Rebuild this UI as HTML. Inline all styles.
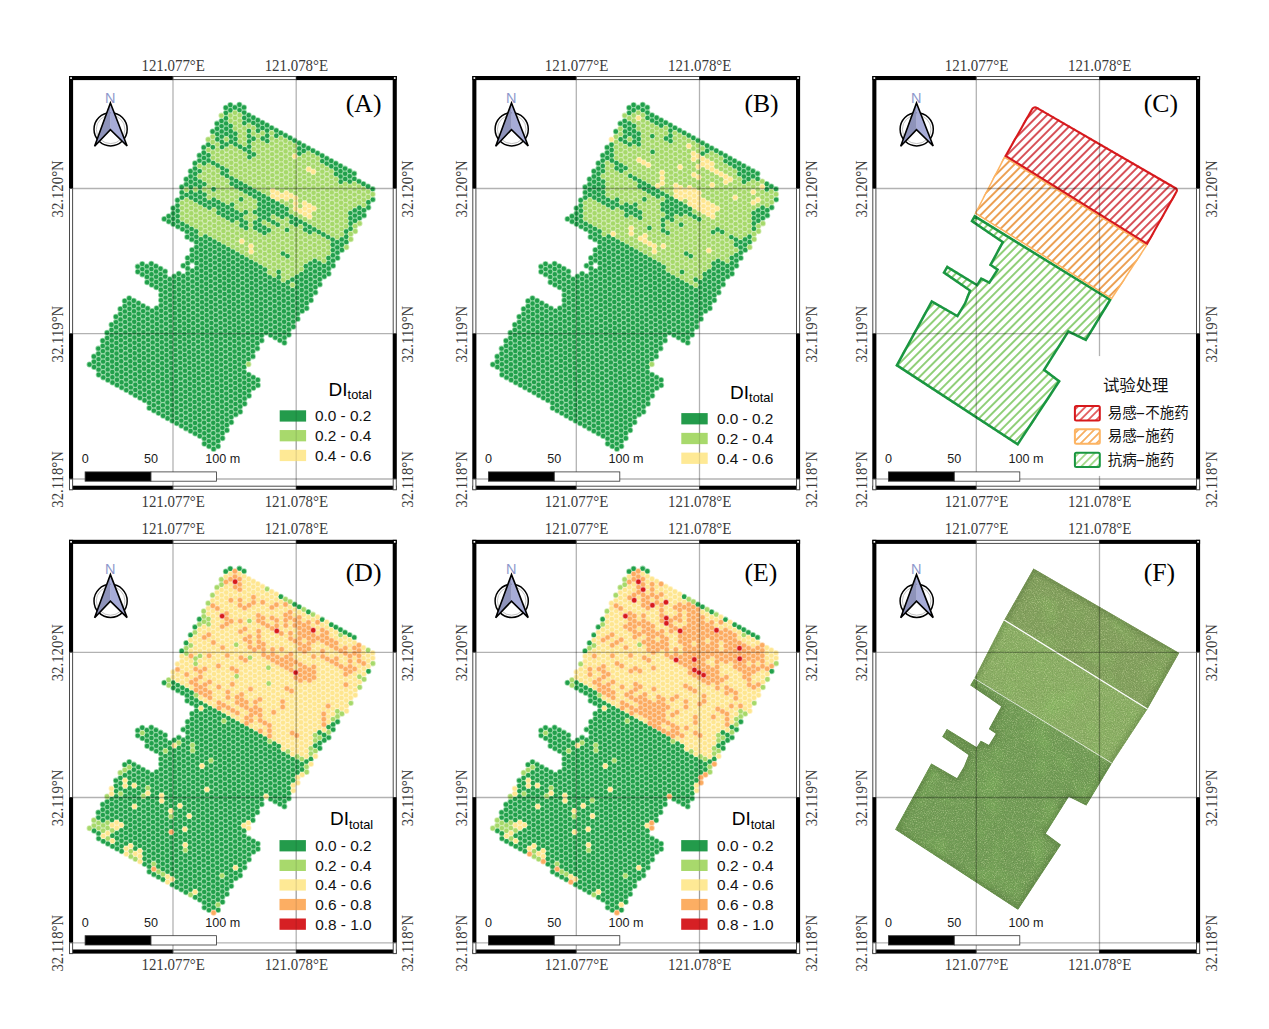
<!DOCTYPE html><html><head><meta charset="utf-8"><title>DI maps</title><style>html,body{margin:0;padding:0;background:#fff;}svg{display:block}</style></head><body>
<svg width="1269" height="1029" viewBox="0 0 1269 1029">
<rect width="1269" height="1029" fill="#fff"/>
<g transform="translate(0,0)">
<defs><path id="pA1" d="M239.4 104.8h0M244.0 107.4h0M230.3 105.0h0M234.9 107.5h0M239.5 110.1h0M244.1 112.6h0M248.7 115.2h0M253.3 117.7h0M257.8 120.2h0M262.4 122.8h0M267.0 125.3h0M271.6 127.9h0M276.2 130.4h0M280.8 133.0h0M285.4 135.5h0M290.0 138.0h0M294.5 140.6h0M299.1 143.1h0M303.7 145.7h0M308.3 148.2h0M312.9 150.8h0M317.5 153.3h0M322.1 155.8h0M326.7 158.4h0M331.2 160.9h0M335.8 163.5h0M340.4 166.0h0M345.0 168.6h0M349.6 171.1h0M354.2 173.6h0M225.8 107.7h0M230.4 110.2h0M244.2 117.9h0M248.8 120.4h0M253.3 122.9h0M257.9 125.5h0M262.5 128.0h0M267.1 130.6h0M276.3 135.7h0M299.2 148.4h0M303.8 150.9h0M322.2 161.1h0M326.7 163.6h0M331.3 166.2h0M335.9 168.7h0M340.5 171.3h0M345.1 173.8h0M349.7 176.3h0M354.3 178.9h0M358.9 181.4h0M363.4 184.0h0M368.0 186.5h0M372.6 189.1h0M225.9 112.9h0M244.3 123.1h0M258.0 130.7h0M267.2 135.8h0M299.3 153.6h0M336.0 174.0h0M340.6 176.5h0M345.2 179.0h0M349.8 181.6h0M226.0 118.2h0M248.9 130.9h0M262.7 138.5h0M267.3 141.1h0M340.7 181.8h0M372.8 199.6h0M221.5 120.9h0M226.1 123.4h0M230.7 126.0h0M249.0 136.1h0M253.6 138.7h0M368.3 202.3h0M217.0 123.6h0M221.6 126.1h0M226.2 128.7h0M230.8 131.2h0M235.4 133.8h0M249.1 141.4h0M368.4 207.5h0M217.1 128.8h0M221.7 131.4h0M226.3 133.9h0M230.9 136.5h0M235.5 139.0h0M249.2 146.6h0M359.3 207.7h0M363.9 210.2h0M212.6 131.5h0M217.2 134.1h0M221.8 136.6h0M231.0 141.7h0M235.5 144.2h0M240.1 146.8h0M244.7 149.3h0M249.3 151.9h0M253.9 154.4h0M354.8 210.4h0M359.4 212.9h0M364.0 215.4h0M217.3 139.3h0M221.9 141.9h0M226.5 144.4h0M249.4 157.1h0M350.3 213.1h0M354.9 215.6h0M359.5 218.1h0M222.0 147.1h0M350.4 218.3h0M355.0 220.8h0M208.3 144.7h0M212.9 147.3h0M350.5 223.5h0M203.8 147.4h0M350.6 228.8h0M203.9 152.7h0M208.5 155.2h0M346.1 231.5h0M199.4 155.4h0M204.0 157.9h0M208.6 160.5h0M213.2 163.0h0M217.7 165.5h0M222.3 168.1h0M226.9 170.6h0M346.2 236.7h0M199.5 160.6h0M204.1 163.2h0M222.4 173.3h0M227.0 175.9h0M231.6 178.4h0M236.2 181.0h0M240.8 183.5h0M245.4 186.0h0M250.0 188.6h0M254.5 191.1h0M259.1 193.7h0M263.7 196.2h0M268.3 198.8h0M272.9 201.3h0M277.5 203.8h0M282.1 206.4h0M286.7 208.9h0M341.7 239.4h0M346.3 242.0h0M195.0 163.3h0M231.7 183.7h0M236.3 186.2h0M240.9 188.7h0M245.5 191.3h0M250.0 193.8h0M254.6 196.4h0M259.2 198.9h0M263.8 201.5h0M268.4 204.0h0M273.0 206.5h0M277.6 209.1h0M282.2 211.6h0M286.7 214.2h0M291.3 216.7h0M295.9 219.3h0M300.5 221.8h0M305.1 224.3h0M309.7 226.9h0M314.3 229.4h0M318.9 232.0h0M323.4 234.5h0M328.0 237.1h0M332.6 239.6h0M337.2 242.1h0M341.8 244.7h0M195.1 168.6h0M199.7 171.1h0M259.3 204.2h0M263.9 206.7h0M268.5 209.2h0M273.1 211.8h0M277.7 214.3h0M282.2 216.9h0M291.4 222.0h0M296.0 224.5h0M305.2 229.6h0M309.8 232.1h0M332.7 244.8h0M337.3 247.4h0M341.9 249.9h0M190.6 171.3h0M195.2 173.8h0M241.1 199.2h0M259.4 209.4h0M264.0 211.9h0M268.6 214.5h0M332.8 250.1h0M337.4 252.6h0M190.7 176.5h0M195.3 179.0h0M199.9 181.6h0M204.4 184.1h0M213.6 189.2h0M254.9 212.1h0M259.5 214.6h0M264.1 217.2h0M268.7 219.7h0M273.3 222.3h0M277.8 224.8h0M287.0 229.9h0M332.9 255.3h0M337.5 257.9h0M186.2 179.2h0M190.8 181.7h0M195.4 184.3h0M199.9 186.8h0M232.1 204.6h0M245.8 212.3h0M259.6 219.9h0M328.4 258.0h0M333.0 260.6h0M186.3 184.4h0M190.9 187.0h0M200.0 192.1h0M204.6 194.6h0M213.8 199.7h0M218.4 202.2h0M223.0 204.8h0M227.6 207.3h0M232.2 209.9h0M236.7 212.4h0M241.3 215.0h0M255.1 222.6h0M259.7 225.1h0M264.3 227.7h0M268.9 230.2h0M328.5 263.3h0M333.1 265.8h0M181.8 187.1h0M191.0 192.2h0M195.5 194.8h0M200.1 197.3h0M204.7 199.9h0M209.3 202.4h0M213.9 204.9h0M218.5 207.5h0M223.1 210.0h0M227.7 212.6h0M232.2 215.1h0M236.8 217.7h0M241.4 220.2h0M246.0 222.7h0M255.2 227.8h0M259.8 230.4h0M264.4 232.9h0M314.8 260.9h0M319.4 263.4h0M324.0 266.0h0M328.6 268.5h0M181.9 192.4h0M186.5 194.9h0M191.0 197.5h0M195.6 200.0h0M200.2 202.6h0M204.8 205.1h0M209.4 207.6h0M218.6 212.7h0M223.2 215.3h0M227.7 217.8h0M232.3 220.4h0M241.5 225.4h0M246.1 228.0h0M310.3 263.6h0M314.9 266.1h0M319.5 268.7h0M324.1 271.2h0M328.7 273.8h0M182.0 197.6h0M282.9 253.6h0M287.5 256.1h0M305.8 266.3h0M310.4 268.8h0M315.0 271.4h0M319.6 273.9h0M324.2 276.5h0M177.5 200.3h0M305.9 271.5h0M310.5 274.1h0M315.1 276.6h0M319.7 279.2h0M177.6 205.6h0M301.4 274.2h0M306.0 276.8h0M310.6 279.3h0M315.2 281.9h0M319.8 284.4h0M173.1 208.3h0M177.7 210.8h0M296.9 276.9h0M301.5 279.5h0M306.1 282.0h0M310.7 284.6h0M315.3 287.1h0M173.2 213.5h0M177.7 216.1h0M278.7 272.0h0M292.4 279.6h0M297.0 282.2h0M301.6 284.7h0M306.2 287.3h0M310.8 289.8h0M315.4 292.4h0M168.7 216.2h0M173.2 218.8h0M177.8 221.3h0M182.4 223.9h0M187.0 226.4h0M191.6 228.9h0M196.2 231.5h0M205.4 236.6h0M209.9 239.1h0M214.5 241.7h0M219.1 244.2h0M223.7 246.7h0M228.3 249.3h0M232.9 251.8h0M237.5 254.4h0M242.1 256.9h0M246.6 259.5h0M251.2 262.0h0M255.8 264.5h0M260.4 267.1h0M265.0 269.6h0M278.8 277.3h0M287.9 282.3h0M297.1 287.4h0M301.7 290.0h0M306.3 292.5h0M310.9 295.1h0M164.2 218.9h0M168.8 221.5h0M173.3 224.0h0M177.9 226.6h0M182.5 229.1h0M187.1 231.6h0M191.7 234.2h0M196.3 236.7h0M200.9 239.3h0M205.5 241.8h0M210.0 244.4h0M214.6 246.9h0M219.2 249.4h0M223.8 252.0h0M228.4 254.5h0M233.0 257.1h0M237.6 259.6h0M242.1 262.2h0M246.7 264.7h0M251.3 267.2h0M255.9 269.8h0M260.5 272.3h0M265.1 274.9h0M269.7 277.4h0M274.3 280.0h0M278.8 282.5h0M283.4 285.0h0M288.0 287.6h0M292.6 290.1h0M297.2 292.7h0M301.8 295.2h0M306.4 297.8h0M311.0 300.3h0M187.2 236.9h0M191.8 239.4h0M196.4 242.0h0M201.0 244.5h0M205.5 247.1h0M210.1 249.6h0M214.7 252.1h0M219.3 254.7h0M223.9 257.2h0M228.5 259.8h0M233.1 262.3h0M237.7 264.9h0M242.2 267.4h0M246.8 269.9h0M251.4 272.5h0M256.0 275.0h0M260.6 277.6h0M265.2 280.1h0M269.8 282.7h0M274.4 285.2h0M278.9 287.7h0M283.5 290.3h0M288.1 292.8h0M292.7 295.4h0M297.3 297.9h0M301.9 300.5h0M306.5 303.0h0M196.5 247.2h0M201.0 249.8h0M205.6 252.3h0M210.2 254.8h0M214.8 257.4h0M219.4 259.9h0M224.0 262.5h0M228.6 265.0h0M233.2 267.6h0M237.7 270.1h0M242.3 272.6h0M246.9 275.2h0M251.5 277.7h0M256.1 280.3h0M260.7 282.8h0M265.3 285.4h0M269.9 287.9h0M274.4 290.4h0M279.0 293.0h0M283.6 295.5h0M288.2 298.1h0M292.8 300.6h0M297.4 303.2h0M302.0 305.7h0M306.6 308.2h0M192.0 249.9h0M196.6 252.5h0M201.1 255.0h0M205.7 257.5h0M210.3 260.1h0M214.9 262.6h0M219.5 265.2h0M224.1 267.7h0M228.7 270.3h0M233.2 272.8h0M237.8 275.3h0M242.4 277.9h0M247.0 280.4h0M251.6 283.0h0M256.2 285.5h0M260.8 288.1h0M265.4 290.6h0M269.9 293.1h0M274.5 295.7h0M279.1 298.2h0M283.7 300.8h0M288.3 303.3h0M292.9 305.9h0M297.5 308.4h0M302.1 310.9h0M192.1 255.2h0M196.6 257.7h0M201.2 260.2h0M205.8 262.8h0M210.4 265.3h0M215.0 267.9h0M219.6 270.4h0M224.2 273.0h0M228.8 275.5h0M233.3 278.0h0M237.9 280.6h0M242.5 283.1h0M247.1 285.7h0M251.7 288.2h0M256.3 290.8h0M260.9 293.3h0M265.5 295.8h0M270.0 298.4h0M274.6 300.9h0M279.2 303.5h0M283.8 306.0h0M288.4 308.6h0M293.0 311.1h0M297.6 313.6h0M187.6 257.9h0M192.1 260.4h0M196.7 263.0h0M201.3 265.5h0M205.9 268.0h0M210.5 270.6h0M215.1 273.1h0M219.7 275.7h0M224.3 278.2h0M228.8 280.8h0M233.4 283.3h0M238.0 285.8h0M242.6 288.4h0M247.2 290.9h0M251.8 293.5h0M256.4 296.0h0M261.0 298.6h0M265.5 301.1h0M270.1 303.6h0M274.7 306.2h0M279.3 308.7h0M283.9 311.3h0M288.5 313.8h0M293.1 316.4h0M297.7 318.9h0M187.7 263.1h0M196.8 268.2h0M201.4 270.7h0M206.0 273.3h0M210.6 275.8h0M215.2 278.4h0M219.8 280.9h0M224.3 283.5h0M228.9 286.0h0M233.5 288.5h0M238.1 291.1h0M242.7 293.6h0M247.3 296.2h0M251.9 298.7h0M256.5 301.3h0M261.0 303.8h0M265.6 306.3h0M270.2 308.9h0M274.8 311.4h0M279.4 314.0h0M284.0 316.5h0M288.6 319.1h0M293.2 321.6h0M183.2 265.8h0M187.7 268.4h0M192.3 270.9h0M196.9 273.4h0M201.5 276.0h0M206.1 278.5h0M210.7 281.1h0M215.3 283.6h0M219.9 286.2h0M224.4 288.7h0M229.0 291.2h0M233.6 293.8h0M238.2 296.3h0M242.8 298.9h0M247.4 301.4h0M252.0 304.0h0M256.6 306.5h0M261.1 309.0h0M265.7 311.6h0M270.3 314.1h0M274.9 316.7h0M279.5 319.2h0M284.1 321.8h0M288.7 324.3h0M293.3 326.8h0M187.8 273.6h0M192.4 276.1h0M197.0 278.7h0M201.6 281.2h0M206.2 283.8h0M210.8 286.3h0M215.4 288.9h0M219.9 291.4h0M224.5 293.9h0M229.1 296.5h0M233.7 299.0h0M238.3 301.6h0M242.9 304.1h0M247.5 306.7h0M252.1 309.2h0M256.6 311.7h0M261.2 314.3h0M265.8 316.8h0M270.4 319.4h0M275.0 321.9h0M279.6 324.5h0M284.2 327.0h0M288.8 329.5h0M178.8 273.8h0M183.3 276.3h0M187.9 278.8h0M192.5 281.4h0M197.1 283.9h0M201.7 286.5h0M206.3 289.0h0M210.9 291.6h0M215.4 294.1h0M220.0 296.6h0M224.6 299.2h0M229.2 301.7h0M233.8 304.3h0M238.4 306.8h0M243.0 309.4h0M247.6 311.9h0M252.1 314.4h0M256.7 317.0h0M261.3 319.5h0M265.9 322.1h0M270.5 324.6h0M275.1 327.2h0M279.7 329.7h0M284.3 332.2h0M288.8 334.8h0M151.3 263.7h0M155.9 266.3h0M160.5 268.8h0M165.1 271.4h0M174.3 276.5h0M178.8 279.0h0M183.4 281.5h0M188.0 284.1h0M192.6 286.6h0M197.2 289.2h0M201.8 291.7h0M206.4 294.3h0M211.0 296.8h0M215.5 299.3h0M220.1 301.9h0M224.7 304.4h0M229.3 307.0h0M233.9 309.5h0M238.5 312.1h0M243.1 314.6h0M247.7 317.1h0M252.2 319.7h0M256.8 322.2h0M261.4 324.8h0M266.0 327.3h0M270.6 329.9h0M275.2 332.4h0M279.8 334.9h0M284.4 337.5h0M142.2 263.9h0M146.8 266.4h0M151.4 269.0h0M156.0 271.5h0M160.6 274.1h0M165.2 276.6h0M169.8 279.2h0M174.3 281.7h0M178.9 284.2h0M183.5 286.8h0M188.1 289.3h0M192.7 291.9h0M197.3 294.4h0M201.9 297.0h0M206.5 299.5h0M211.0 302.0h0M215.6 304.6h0M220.2 307.1h0M224.8 309.7h0M229.4 312.2h0M234.0 314.8h0M238.6 317.3h0M243.2 319.8h0M247.7 322.4h0M252.3 324.9h0M256.9 327.5h0M261.5 330.0h0M266.1 332.6h0M270.7 335.1h0M275.3 337.6h0M279.9 340.2h0M284.4 342.7h0M137.7 266.6h0M142.3 269.1h0M146.9 271.7h0M151.5 274.2h0M156.1 276.8h0M160.7 279.3h0M165.3 281.9h0M169.9 284.4h0M174.4 286.9h0M179.0 289.5h0M183.6 292.0h0M188.2 294.6h0M192.8 297.1h0M197.4 299.7h0M202.0 302.2h0M206.5 304.7h0M211.1 307.3h0M215.7 309.8h0M220.3 312.4h0M224.9 314.9h0M229.5 317.5h0M234.1 320.0h0M238.7 322.5h0M243.2 325.1h0M247.8 327.6h0M252.4 330.2h0M257.0 332.7h0M261.6 335.3h0M137.8 271.8h0M142.4 274.4h0M147.0 276.9h0M151.6 279.5h0M156.2 282.0h0M160.8 284.6h0M165.4 287.1h0M169.9 289.6h0M174.5 292.2h0M179.1 294.7h0M183.7 297.3h0M188.3 299.8h0M192.9 302.4h0M197.5 304.9h0M202.1 307.4h0M206.6 310.0h0M211.2 312.5h0M215.8 315.1h0M220.4 317.6h0M225.0 320.2h0M229.6 322.7h0M234.2 325.2h0M238.8 327.8h0M243.3 330.3h0M247.9 332.9h0M252.5 335.4h0M257.1 338.0h0M261.7 340.5h0M147.1 282.2h0M151.7 284.7h0M156.3 287.3h0M160.9 289.8h0M165.4 292.3h0M170.0 294.9h0M174.6 297.4h0M179.2 300.0h0M183.8 302.5h0M188.4 305.1h0M193.0 307.6h0M197.6 310.1h0M202.1 312.7h0M206.7 315.2h0M211.3 317.8h0M215.9 320.3h0M220.5 322.9h0M225.1 325.4h0M229.7 327.9h0M234.3 330.5h0M238.8 333.0h0M243.4 335.6h0M248.0 338.1h0M252.6 340.7h0M257.2 343.2h0M161.0 295.1h0M165.5 297.6h0M170.1 300.1h0M174.7 302.7h0M179.3 305.2h0M183.9 307.8h0M188.5 310.3h0M193.1 312.9h0M197.6 315.4h0M202.2 317.9h0M206.8 320.5h0M211.4 323.0h0M216.0 325.6h0M220.6 328.1h0M225.2 330.7h0M229.8 333.2h0M234.3 335.7h0M238.9 338.3h0M243.5 340.8h0M248.1 343.4h0M252.7 345.9h0M257.3 348.4h0M161.0 300.3h0M165.6 302.8h0M170.2 305.4h0M174.8 307.9h0M179.4 310.5h0M184.0 313.0h0M188.6 315.6h0M193.2 318.1h0M197.7 320.6h0M202.3 323.2h0M206.9 325.7h0M211.5 328.3h0M216.1 330.8h0M220.7 333.4h0M225.3 335.9h0M229.9 338.4h0M234.4 341.0h0M239.0 343.5h0M243.6 346.1h0M248.2 348.6h0M252.8 351.2h0M161.1 305.5h0M165.7 308.1h0M170.3 310.6h0M174.9 313.2h0M179.5 315.7h0M184.1 318.3h0M188.7 320.8h0M193.2 323.3h0M197.8 325.9h0M202.4 328.4h0M207.0 331.0h0M211.6 333.5h0M216.2 336.1h0M220.8 338.6h0M225.4 341.1h0M229.9 343.7h0M234.5 346.2h0M239.1 348.8h0M243.7 351.3h0M248.3 353.9h0M252.9 356.4h0M156.6 308.2h0M161.2 310.8h0M165.8 313.3h0M170.4 315.9h0M175.0 318.4h0M179.6 321.0h0M184.2 323.5h0M188.7 326.0h0M193.3 328.6h0M197.9 331.1h0M202.5 333.7h0M207.1 336.2h0M211.7 338.8h0M216.3 341.3h0M220.9 343.8h0M225.4 346.4h0M230.0 348.9h0M234.6 351.5h0M239.2 354.0h0M243.8 356.6h0M248.4 359.1h0M129.2 298.2h0M133.8 300.8h0M138.4 303.3h0M143.0 305.9h0M147.6 308.4h0M152.1 310.9h0M156.7 313.5h0M161.3 316.0h0M165.9 318.6h0M170.5 321.1h0M175.1 323.7h0M179.7 326.2h0M184.3 328.7h0M188.8 331.3h0M193.4 333.8h0M198.0 336.4h0M202.6 338.9h0M207.2 341.5h0M211.8 344.0h0M216.4 346.5h0M221.0 349.1h0M225.5 351.6h0M230.1 354.2h0M234.7 356.7h0M239.3 359.3h0M243.9 361.8h0M124.7 300.9h0M129.3 303.5h0M133.9 306.0h0M138.5 308.6h0M143.1 311.1h0M147.6 313.6h0M152.2 316.2h0M156.8 318.7h0M161.4 321.3h0M166.0 323.8h0M170.6 326.4h0M175.2 328.9h0M179.8 331.4h0M184.3 334.0h0M188.9 336.5h0M193.5 339.1h0M198.1 341.6h0M202.7 344.2h0M207.3 346.7h0M211.9 349.2h0M216.5 351.8h0M221.0 354.3h0M225.6 356.9h0M230.2 359.4h0M234.8 362.0h0M239.4 364.5h0M244.0 367.0h0M124.8 306.2h0M129.4 308.7h0M134.0 311.3h0M138.6 313.8h0M143.1 316.3h0M147.7 318.9h0M152.3 321.4h0M156.9 324.0h0M161.5 326.5h0M166.1 329.1h0M170.7 331.6h0M175.3 334.1h0M179.8 336.7h0M184.4 339.2h0M189.0 341.8h0M193.6 344.3h0M198.2 346.9h0M202.8 349.4h0M207.4 351.9h0M212.0 354.5h0M216.5 357.0h0M221.1 359.6h0M225.7 362.1h0M230.3 364.7h0M234.9 367.2h0M239.5 369.7h0M244.1 372.3h0M248.7 374.8h0M253.2 377.4h0M257.8 379.9h0M120.3 308.9h0M124.9 311.4h0M129.5 314.0h0M134.1 316.5h0M138.7 319.0h0M143.2 321.6h0M147.8 324.1h0M152.4 326.7h0M157.0 329.2h0M161.6 331.8h0M166.2 334.3h0M170.8 336.8h0M175.4 339.4h0M179.9 341.9h0M184.5 344.5h0M189.1 347.0h0M193.7 349.6h0M198.3 352.1h0M202.9 354.6h0M207.5 357.2h0M212.1 359.7h0M216.6 362.3h0M221.2 364.8h0M225.8 367.4h0M230.4 369.9h0M235.0 372.4h0M239.6 375.0h0M244.2 377.5h0M248.8 380.1h0M253.3 382.6h0M257.9 385.2h0M120.4 314.1h0M125.0 316.7h0M129.6 319.2h0M134.2 321.7h0M138.7 324.3h0M143.3 326.8h0M147.9 329.4h0M152.5 331.9h0M157.1 334.5h0M161.7 337.0h0M166.3 339.5h0M170.9 342.1h0M175.4 344.6h0M180.0 347.2h0M184.6 349.7h0M189.2 352.3h0M193.8 354.8h0M198.4 357.3h0M203.0 359.9h0M207.6 362.4h0M212.1 365.0h0M216.7 367.5h0M221.3 370.1h0M225.9 372.6h0M230.5 375.1h0M235.1 377.7h0M239.7 380.2h0M244.3 382.8h0M248.8 385.3h0M253.4 387.9h0M115.9 316.8h0M120.5 319.4h0M125.1 321.9h0M129.7 324.4h0M134.2 327.0h0M138.8 329.5h0M143.4 332.1h0M148.0 334.6h0M152.6 337.2h0M157.2 339.7h0M161.8 342.2h0M166.4 344.8h0M170.9 347.3h0M175.5 349.9h0M180.1 352.4h0M184.7 355.0h0M189.3 357.5h0M193.9 360.0h0M198.5 362.6h0M203.1 365.1h0M207.6 367.7h0M212.2 370.2h0M216.8 372.8h0M221.4 375.3h0M226.0 377.8h0M230.6 380.4h0M235.2 382.9h0M239.8 385.5h0M244.3 388.0h0M248.9 390.6h0M116.0 322.1h0M120.6 324.6h0M125.2 327.1h0M129.8 329.7h0M134.3 332.2h0M138.9 334.8h0M143.5 337.3h0M148.1 339.9h0M152.7 342.4h0M157.3 344.9h0M161.9 347.5h0M166.5 350.0h0M171.0 352.6h0M175.6 355.1h0M180.2 357.7h0M184.8 360.2h0M189.4 362.7h0M194.0 365.3h0M198.6 367.8h0M203.2 370.4h0M207.7 372.9h0M212.3 375.5h0M216.9 378.0h0M221.5 380.5h0M226.1 383.1h0M230.7 385.6h0M235.3 388.2h0M239.9 390.7h0M244.4 393.3h0M249.0 395.8h0M111.5 324.8h0M116.1 327.3h0M120.7 329.9h0M125.3 332.4h0M129.8 334.9h0M134.4 337.5h0M139.0 340.0h0M143.6 342.6h0M148.2 345.1h0M152.8 347.7h0M157.4 350.2h0M162.0 352.7h0M166.5 355.3h0M171.1 357.8h0M175.7 360.4h0M180.3 362.9h0M184.9 365.5h0M189.5 368.0h0M194.1 370.5h0M198.7 373.1h0M203.2 375.6h0M207.8 378.2h0M212.4 380.7h0M217.0 383.3h0M221.6 385.8h0M226.2 388.3h0M230.8 390.9h0M235.4 393.4h0M239.9 396.0h0M244.5 398.5h0M111.6 330.0h0M116.2 332.6h0M120.8 335.1h0M125.3 337.6h0M129.9 340.2h0M134.5 342.7h0M139.1 345.3h0M143.7 347.8h0M148.3 350.4h0M152.9 352.9h0M157.5 355.4h0M162.0 358.0h0M166.6 360.5h0M171.2 363.1h0M175.8 365.6h0M180.4 368.2h0M185.0 370.7h0M189.6 373.2h0M194.2 375.8h0M198.7 378.3h0M203.3 380.9h0M207.9 383.4h0M212.5 386.0h0M217.1 388.5h0M221.7 391.0h0M226.3 393.6h0M230.9 396.1h0M235.4 398.7h0M240.0 401.2h0M244.6 403.8h0M107.1 332.7h0M111.7 335.3h0M116.3 337.8h0M120.9 340.3h0M125.4 342.9h0M130.0 345.4h0M134.6 348.0h0M139.2 350.5h0M143.8 353.1h0M148.4 355.6h0M153.0 358.1h0M157.6 360.7h0M162.1 363.2h0M166.7 365.8h0M171.3 368.3h0M175.9 370.9h0M180.5 373.4h0M185.1 375.9h0M189.7 378.5h0M194.3 381.0h0M198.8 383.6h0M203.4 386.1h0M208.0 388.7h0M212.6 391.2h0M217.2 393.7h0M221.8 396.3h0M226.4 398.8h0M231.0 401.4h0M235.5 403.9h0M240.1 406.5h0M107.2 338.0h0M111.8 340.5h0M116.4 343.0h0M120.9 345.6h0M125.5 348.1h0M130.1 350.7h0M134.7 353.2h0M139.3 355.8h0M143.9 358.3h0M148.5 360.8h0M153.1 363.4h0M157.6 365.9h0M162.2 368.5h0M166.8 371.0h0M171.4 373.6h0M176.0 376.1h0M180.6 378.6h0M185.2 381.2h0M189.8 383.7h0M194.3 386.3h0M198.9 388.8h0M203.5 391.4h0M208.1 393.9h0M212.7 396.4h0M217.3 399.0h0M221.9 401.5h0M226.5 404.1h0M231.0 406.6h0M235.6 409.2h0M240.2 411.7h0M102.7 340.7h0M107.3 343.2h0M111.9 345.7h0M116.4 348.3h0M121.0 350.8h0M125.6 353.4h0M130.2 355.9h0M134.8 358.5h0M139.4 361.0h0M144.0 363.5h0M148.6 366.1h0M153.1 368.6h0M157.7 371.2h0M162.3 373.7h0M166.9 376.3h0M171.5 378.8h0M176.1 381.3h0M180.7 383.9h0M185.3 386.4h0M189.8 389.0h0M194.4 391.5h0M199.0 394.1h0M203.6 396.6h0M208.2 399.1h0M212.8 401.7h0M217.4 404.2h0M222.0 406.8h0M226.5 409.3h0M231.1 411.9h0M235.7 414.4h0M102.8 345.9h0M107.4 348.4h0M112.0 351.0h0M116.5 353.5h0M121.1 356.1h0M125.7 358.6h0M130.3 361.2h0M134.9 363.7h0M139.5 366.2h0M144.1 368.8h0M148.7 371.3h0M153.2 373.9h0M157.8 376.4h0M162.4 379.0h0M167.0 381.5h0M171.6 384.0h0M176.2 386.6h0M180.8 389.1h0M185.4 391.7h0M189.9 394.2h0M194.5 396.8h0M199.1 399.3h0M203.7 401.8h0M208.3 404.4h0M212.9 406.9h0M217.5 409.5h0M222.1 412.0h0M226.6 414.6h0M231.2 417.1h0M98.3 348.6h0M102.9 351.1h0M107.5 353.7h0M112.0 356.2h0M116.6 358.8h0M121.2 361.3h0M125.8 363.9h0M130.4 366.4h0M135.0 368.9h0M139.6 371.5h0M144.2 374.0h0M148.7 376.6h0M153.3 379.1h0M157.9 381.7h0M162.5 384.2h0M167.1 386.7h0M171.7 389.3h0M176.3 391.8h0M180.9 394.4h0M185.4 396.9h0M190.0 399.5h0M194.6 402.0h0M199.2 404.5h0M203.8 407.1h0M208.4 409.6h0M213.0 412.2h0M217.6 414.7h0M222.1 417.3h0M226.7 419.8h0M231.3 422.3h0M98.4 353.8h0M103.0 356.4h0M107.5 358.9h0M112.1 361.5h0M116.7 364.0h0M121.3 366.6h0M125.9 369.1h0M130.5 371.6h0M135.1 374.2h0M139.7 376.7h0M144.2 379.3h0M148.8 381.8h0M153.4 384.4h0M158.0 386.9h0M162.6 389.4h0M167.2 392.0h0M171.8 394.5h0M176.4 397.1h0M180.9 399.6h0M185.5 402.2h0M190.1 404.7h0M194.7 407.2h0M199.3 409.8h0M203.9 412.3h0M208.5 414.9h0M213.1 417.4h0M217.6 420.0h0M222.2 422.5h0M226.8 425.0h0M93.9 356.5h0M98.5 359.1h0M103.1 361.6h0M107.6 364.2h0M112.2 366.7h0M116.8 369.3h0M121.4 371.8h0M126.0 374.3h0M130.6 376.9h0M135.2 379.4h0M139.8 382.0h0M144.3 384.5h0M148.9 387.1h0M153.5 389.6h0M158.1 392.1h0M162.7 394.7h0M167.3 397.2h0M171.9 399.8h0M176.5 402.3h0M181.0 404.9h0M185.6 407.4h0M190.2 409.9h0M194.8 412.5h0M199.4 415.0h0M204.0 417.6h0M208.6 420.1h0M213.2 422.7h0M217.7 425.2h0M222.3 427.7h0M226.9 430.3h0M94.0 361.8h0M98.6 364.3h0M103.1 366.9h0M107.7 369.4h0M112.3 372.0h0M116.9 374.5h0M121.5 377.0h0M126.1 379.6h0M130.7 382.1h0M135.3 384.7h0M139.8 387.2h0M144.4 389.8h0M149.0 392.3h0M153.6 394.8h0M158.2 397.4h0M162.8 399.9h0M167.4 402.5h0M172.0 405.0h0M176.5 407.6h0M181.1 410.1h0M185.7 412.6h0M190.3 415.2h0M194.9 417.7h0M199.5 420.3h0M204.1 422.8h0M208.7 425.4h0M213.2 427.9h0M217.8 430.4h0M222.4 433.0h0M89.5 364.5h0M94.1 367.0h0M98.6 369.6h0M103.2 372.1h0M107.8 374.7h0M112.4 377.2h0M117.0 379.8h0M121.6 382.3h0M126.2 384.8h0M130.8 387.4h0M135.3 389.9h0M139.9 392.5h0M144.5 395.0h0M149.1 397.6h0M153.7 400.1h0M158.3 402.6h0M162.9 405.2h0M167.5 407.7h0M172.0 410.3h0M176.6 412.8h0M181.2 415.4h0M185.8 417.9h0M190.4 420.4h0M195.0 423.0h0M199.6 425.5h0M204.2 428.1h0M208.7 430.6h0M213.3 433.1h0M217.9 435.7h0M222.5 438.2h0M98.7 374.8h0M103.3 377.4h0M107.9 379.9h0M112.5 382.5h0M117.1 385.0h0M121.7 387.5h0M126.3 390.1h0M130.9 392.6h0M135.4 395.2h0M140.0 397.7h0M144.6 400.3h0M149.2 402.8h0M153.8 405.3h0M158.4 407.9h0M163.0 410.4h0M167.6 413.0h0M172.1 415.5h0M176.7 418.1h0M181.3 420.6h0M185.9 423.1h0M190.5 425.7h0M195.1 428.2h0M199.7 430.8h0M204.3 433.3h0M208.8 435.9h0M213.4 438.4h0M218.0 440.9h0M149.3 408.0h0M153.9 410.6h0M158.5 413.1h0M163.1 415.7h0M167.6 418.2h0M172.2 420.8h0M176.8 423.3h0M181.4 425.8h0M186.0 428.4h0M190.6 430.9h0M195.2 433.5h0M199.8 436.0h0M204.3 438.6h0M208.9 441.1h0M213.5 443.6h0M218.1 446.2h0M204.4 443.8h0M209.0 446.3h0M213.6 448.9h0"/><path id="pA2" d="M235.0 112.8h0M239.6 115.3h0M271.7 133.1h0M280.9 138.2h0M285.5 140.7h0M290.0 143.3h0M294.6 145.8h0M308.4 153.5h0M313.0 156.0h0M317.6 158.5h0M230.5 115.5h0M235.1 118.0h0M239.7 120.6h0M248.9 125.7h0M253.4 128.2h0M262.6 133.3h0M271.8 138.4h0M276.4 140.9h0M281.0 143.5h0M285.6 146.0h0M290.1 148.5h0M294.7 151.1h0M303.9 156.2h0M308.5 158.7h0M313.1 161.3h0M317.7 163.8h0M322.3 166.3h0M326.8 168.9h0M331.4 171.4h0M354.4 184.1h0M359.0 186.7h0M363.5 189.2h0M368.1 191.8h0M372.7 194.3h0M221.4 115.6h0M230.6 120.7h0M235.2 123.3h0M239.8 125.8h0M244.4 128.4h0M253.5 133.4h0M258.1 136.0h0M271.9 143.6h0M276.5 146.2h0M281.1 148.7h0M285.6 151.2h0M290.2 153.8h0M299.4 158.9h0M304.0 161.4h0M308.6 164.0h0M313.2 166.5h0M317.8 169.0h0M322.3 171.6h0M326.9 174.1h0M331.5 176.7h0M336.1 179.2h0M345.3 184.3h0M349.9 186.8h0M354.5 189.4h0M359.0 191.9h0M363.6 194.5h0M368.2 197.0h0M235.3 128.5h0M239.9 131.1h0M244.4 133.6h0M258.2 141.2h0M262.8 143.8h0M267.4 146.3h0M272.0 148.9h0M276.6 151.4h0M281.1 153.9h0M285.7 156.5h0M290.3 159.0h0M294.9 161.6h0M299.5 164.1h0M304.1 166.7h0M317.8 174.3h0M322.4 176.8h0M327.0 179.4h0M331.6 181.9h0M336.2 184.5h0M340.8 187.0h0M345.4 189.5h0M350.0 192.1h0M354.5 194.6h0M359.1 197.2h0M363.7 199.7h0M240.0 136.3h0M244.5 138.8h0M253.7 143.9h0M258.3 146.5h0M262.9 149.0h0M267.5 151.6h0M272.1 154.1h0M276.7 156.6h0M281.2 159.2h0M285.8 161.7h0M290.4 164.3h0M295.0 166.8h0M299.6 169.4h0M304.2 171.9h0M308.8 174.4h0M313.4 177.0h0M317.9 179.5h0M322.5 182.1h0M327.1 184.6h0M331.7 187.2h0M336.3 189.7h0M340.9 192.2h0M345.5 194.8h0M350.1 197.3h0M354.6 199.9h0M359.2 202.4h0M363.8 205.0h0M240.0 141.5h0M244.6 144.1h0M253.8 149.2h0M258.4 151.7h0M263.0 154.3h0M267.6 156.8h0M272.2 159.3h0M276.7 161.9h0M281.3 164.4h0M285.9 167.0h0M290.5 169.5h0M295.1 172.1h0M299.7 174.6h0M304.3 177.1h0M308.9 179.7h0M313.4 182.2h0M318.0 184.8h0M322.6 187.3h0M327.2 189.9h0M331.8 192.4h0M336.4 194.9h0M341.0 197.5h0M345.6 200.0h0M350.1 202.6h0M354.7 205.1h0M226.4 139.2h0M258.5 157.0h0M263.1 159.5h0M267.7 162.0h0M272.2 164.6h0M276.8 167.1h0M281.4 169.7h0M286.0 172.2h0M290.6 174.8h0M295.2 177.3h0M299.8 179.8h0M304.4 182.4h0M308.9 184.9h0M313.5 187.5h0M318.1 190.0h0M322.7 192.6h0M327.3 195.1h0M331.9 197.6h0M336.5 200.2h0M341.1 202.7h0M345.6 205.3h0M350.2 207.8h0M212.7 136.8h0M231.1 146.9h0M235.6 149.5h0M240.2 152.0h0M244.8 154.6h0M254.0 159.7h0M258.6 162.2h0M263.2 164.7h0M267.8 167.3h0M272.3 169.8h0M276.9 172.4h0M281.5 174.9h0M286.1 177.5h0M290.7 180.0h0M295.3 182.5h0M299.9 185.1h0M304.5 187.6h0M309.0 190.2h0M313.6 192.7h0M318.2 195.3h0M322.8 197.8h0M327.4 200.3h0M332.0 202.9h0M336.6 205.4h0M341.2 208.0h0M345.7 210.5h0M208.2 139.5h0M212.8 142.0h0M217.4 144.6h0M226.6 149.6h0M231.1 152.2h0M235.7 154.7h0M240.3 157.3h0M244.9 159.8h0M249.5 162.4h0M254.1 164.9h0M258.7 167.4h0M263.3 170.0h0M267.8 172.5h0M272.4 175.1h0M277.0 177.6h0M281.6 180.2h0M286.2 182.7h0M290.8 185.2h0M295.4 187.8h0M300.0 190.3h0M304.5 192.9h0M309.1 195.4h0M313.7 198.0h0M318.3 200.5h0M322.9 203.0h0M327.5 205.6h0M332.1 208.1h0M336.7 210.7h0M341.2 213.2h0M345.8 215.8h0M359.6 223.4h0M217.5 149.8h0M222.1 152.3h0M226.6 154.9h0M231.2 157.4h0M235.8 160.0h0M240.4 162.5h0M245.0 165.1h0M249.6 167.6h0M254.2 170.1h0M258.8 172.7h0M263.3 175.2h0M267.9 177.8h0M272.5 180.3h0M277.1 182.9h0M281.7 185.4h0M286.3 187.9h0M290.9 190.5h0M295.5 193.0h0M300.0 195.6h0M304.6 198.1h0M309.2 200.7h0M313.8 203.2h0M318.4 205.7h0M323.0 208.3h0M327.6 210.8h0M332.2 213.4h0M336.7 215.9h0M341.3 218.5h0M345.9 221.0h0M355.1 226.1h0M208.4 150.0h0M213.0 152.5h0M217.6 155.0h0M222.2 157.6h0M226.7 160.1h0M231.3 162.7h0M235.9 165.2h0M240.5 167.8h0M245.1 170.3h0M249.7 172.8h0M254.3 175.4h0M258.9 177.9h0M263.4 180.5h0M268.0 183.0h0M272.6 185.6h0M277.2 188.1h0M281.8 190.6h0M300.1 200.8h0M318.5 211.0h0M323.1 213.5h0M327.7 216.1h0M332.2 218.6h0M336.8 221.2h0M341.4 223.7h0M346.0 226.2h0M355.2 231.3h0M213.1 157.7h0M217.7 160.3h0M222.2 162.8h0M226.8 165.4h0M231.4 167.9h0M236.0 170.5h0M240.6 173.0h0M245.2 175.5h0M249.8 178.1h0M254.4 180.6h0M258.9 183.2h0M263.5 185.7h0M268.1 188.3h0M291.1 201.0h0M300.2 206.1h0M314.0 213.7h0M318.6 216.2h0M323.2 218.8h0M327.8 221.3h0M332.3 223.9h0M336.9 226.4h0M341.5 228.9h0M350.7 234.0h0M231.5 173.2h0M236.1 175.7h0M240.7 178.3h0M245.3 180.8h0M249.9 183.3h0M254.4 185.9h0M259.0 188.4h0M263.6 191.0h0M268.2 193.5h0M282.0 201.1h0M286.6 203.7h0M291.1 206.2h0M314.1 218.9h0M318.7 221.5h0M323.3 224.0h0M327.8 226.6h0M332.4 229.1h0M337.0 231.7h0M341.6 234.2h0M350.8 239.3h0M208.7 165.7h0M213.3 168.2h0M217.8 170.8h0M291.2 211.5h0M295.8 214.0h0M300.4 216.6h0M305.0 219.1h0M309.6 221.6h0M314.2 224.2h0M318.8 226.7h0M323.3 229.3h0M327.9 231.8h0M332.5 234.4h0M337.1 236.9h0M199.6 165.9h0M204.2 168.4h0M208.8 170.9h0M213.3 173.5h0M217.9 176.0h0M222.5 178.6h0M227.1 181.1h0M346.4 247.2h0M204.3 173.6h0M208.8 176.2h0M213.4 178.7h0M218.0 181.3h0M222.6 183.8h0M227.2 186.4h0M231.8 188.9h0M236.4 191.4h0M241.0 194.0h0M245.5 196.5h0M250.1 199.1h0M254.7 201.6h0M286.8 219.4h0M300.6 227.0h0M314.4 234.7h0M318.9 237.2h0M323.5 239.8h0M328.1 242.3h0M199.8 176.3h0M204.4 178.9h0M208.9 181.4h0M213.5 184.0h0M218.1 186.5h0M222.7 189.1h0M227.3 191.6h0M231.9 194.1h0M236.5 196.7h0M245.6 201.8h0M250.2 204.3h0M254.8 206.9h0M273.2 217.0h0M277.8 219.6h0M282.3 222.1h0M286.9 224.7h0M291.5 227.2h0M296.1 229.7h0M300.7 232.3h0M305.3 234.8h0M309.9 237.4h0M314.4 239.9h0M319.0 242.5h0M323.6 245.0h0M328.2 247.5h0M209.0 186.7h0M218.2 191.8h0M222.8 194.3h0M227.4 196.8h0M232.0 199.4h0M236.6 201.9h0M241.1 204.5h0M245.7 207.0h0M250.3 209.6h0M282.4 227.4h0M291.6 232.4h0M296.2 235.0h0M300.8 237.5h0M305.4 240.1h0M310.0 242.6h0M314.5 245.2h0M319.1 247.7h0M323.7 250.2h0M328.3 252.8h0M204.5 189.4h0M209.1 191.9h0M213.7 194.5h0M218.3 197.0h0M222.9 199.5h0M227.5 202.1h0M236.6 207.2h0M241.2 209.7h0M250.4 214.8h0M255.0 217.3h0M264.2 222.4h0M268.8 225.0h0M273.3 227.5h0M277.9 230.1h0M282.5 232.6h0M287.1 235.1h0M291.7 237.7h0M296.3 240.2h0M300.9 242.8h0M305.5 245.3h0M310.0 247.9h0M314.6 250.4h0M319.2 252.9h0M323.8 255.5h0M195.5 189.5h0M209.2 197.2h0M245.9 217.5h0M250.5 220.0h0M273.4 232.8h0M278.0 235.3h0M282.6 237.8h0M287.2 240.4h0M291.8 242.9h0M296.4 245.5h0M301.0 248.0h0M305.5 250.6h0M310.1 253.1h0M314.7 255.6h0M319.3 258.2h0M323.9 260.7h0M186.4 189.7h0M250.6 225.3h0M268.9 235.5h0M273.5 238.0h0M278.1 240.5h0M282.7 243.1h0M287.3 245.6h0M291.9 248.2h0M296.5 250.7h0M301.1 253.3h0M305.6 255.8h0M310.2 258.3h0M214.0 210.2h0M236.9 222.9h0M250.7 230.5h0M255.3 233.1h0M259.9 235.6h0M264.4 238.2h0M269.0 240.7h0M273.6 243.2h0M278.2 245.8h0M282.8 248.3h0M287.4 250.9h0M292.0 253.4h0M296.6 256.0h0M301.1 258.5h0M305.7 261.0h0M186.6 200.2h0M191.1 202.7h0M195.7 205.3h0M200.3 207.8h0M204.9 210.4h0M209.5 212.9h0M214.1 215.4h0M218.7 218.0h0M223.3 220.5h0M227.8 223.1h0M232.4 225.6h0M237.0 228.2h0M241.6 230.7h0M246.2 233.2h0M250.8 235.8h0M255.4 238.3h0M260.0 240.9h0M264.5 243.4h0M269.1 246.0h0M273.7 248.5h0M278.3 251.0h0M292.1 258.7h0M296.6 261.2h0M301.2 263.7h0M182.1 202.9h0M186.6 205.4h0M191.2 208.0h0M195.8 210.5h0M200.4 213.1h0M205.0 215.6h0M209.6 218.1h0M214.2 220.7h0M218.8 223.2h0M223.3 225.8h0M227.9 228.3h0M232.5 230.9h0M237.1 233.4h0M241.7 235.9h0M246.3 238.5h0M250.9 241.0h0M255.5 243.6h0M260.0 246.1h0M264.6 248.7h0M269.2 251.2h0M273.8 253.7h0M278.4 256.3h0M283.0 258.8h0M287.6 261.4h0M292.2 263.9h0M296.7 266.5h0M301.3 269.0h0M182.1 208.1h0M186.7 210.7h0M191.3 213.2h0M195.9 215.8h0M200.5 218.3h0M205.1 220.8h0M209.7 223.4h0M214.3 225.9h0M218.8 228.5h0M223.4 231.0h0M228.0 233.6h0M232.6 236.1h0M237.2 238.6h0M246.4 243.7h0M255.5 248.8h0M260.1 251.4h0M264.7 253.9h0M269.3 256.4h0M273.9 259.0h0M278.5 261.5h0M283.1 264.1h0M287.7 266.6h0M292.2 269.2h0M296.8 271.7h0M182.2 213.4h0M186.8 215.9h0M191.4 218.5h0M196.0 221.0h0M200.6 223.5h0M205.2 226.1h0M209.8 228.6h0M214.4 231.2h0M218.9 233.7h0M223.5 236.3h0M228.1 238.8h0M232.7 241.3h0M237.3 243.9h0M241.9 246.4h0M246.5 249.0h0M255.6 254.1h0M260.2 256.6h0M264.8 259.1h0M269.4 261.7h0M274.0 264.2h0M278.6 266.8h0M283.2 269.3h0M287.7 271.9h0M292.3 274.4h0M182.3 218.6h0M186.9 221.2h0M191.5 223.7h0M196.1 226.2h0M200.7 228.8h0M205.3 231.3h0M209.9 233.9h0M214.4 236.4h0M219.0 239.0h0M223.6 241.5h0M228.2 244.0h0M232.8 246.6h0M237.4 249.1h0M242.0 251.7h0M246.6 254.2h0M251.1 256.8h0M255.7 259.3h0M260.3 261.8h0M264.9 264.4h0M269.5 266.9h0M274.1 269.5h0M283.3 274.6h0M287.8 277.1h0M200.8 234.0h0M269.6 272.2h0M274.2 274.7h0M283.3 279.8h0M292.5 284.9h0M248.5 364.3h0"/><path id="pA3" d="M294.8 156.3h0M308.7 169.2h0M313.3 171.7h0M286.4 193.2h0M291.0 195.7h0M295.6 198.3h0M304.7 203.4h0M309.3 205.9h0M313.9 208.4h0M272.7 190.8h0M277.3 193.3h0M281.9 195.9h0M286.5 198.4h0M295.6 203.5h0M304.8 208.6h0M309.4 211.1h0M272.8 196.1h0M277.4 198.6h0M295.7 208.8h0M300.3 211.3h0M304.9 213.9h0M309.5 216.4h0M241.8 241.2h0M251.0 246.3h0M251.1 251.5h0"/></defs><g fill="none" stroke-width="6.0" stroke-linecap="round"><use href="#pA1" stroke="#97d8a8"/><use href="#pA2" stroke="#d3ecb4"/><use href="#pA3" stroke="#fff3c8"/></g><g fill="none" stroke-width="4.4" stroke-linecap="round"><use href="#pA1" stroke="#21a04b"/><use href="#pA2" stroke="#a6d96a"/><use href="#pA3" stroke="#fee690"/></g>
<g stroke="#000" stroke-opacity="0.3" stroke-width="1.3"><line x1="173.0" y1="80.1" x2="173.0" y2="485.7"/><line x1="296.2" y1="80.1" x2="296.2" y2="485.7"/><line x1="73.1" y1="188.5" x2="392.7" y2="188.5"/><line x1="73.1" y1="333.7" x2="392.7" y2="333.7"/><line x1="73.1" y1="479.0" x2="392.7" y2="479.0"/></g>
<text x="328.6" y="395.8" font-family="'Liberation Sans',Arial,sans-serif" font-size="19" fill="#000">DI<tspan font-size="12.8" dy="3.4">total</tspan></text>
<rect x="279.7" y="410.30" width="26.4" height="11.3" fill="#239b4b"/>
<text x="314.9" y="421.40" font-family="'Liberation Sans',Arial,sans-serif" font-size="15.4" fill="#111">0.0 - 0.2</text>
<rect x="279.7" y="430.05" width="26.4" height="11.3" fill="#a8d96c"/>
<text x="314.9" y="441.15" font-family="'Liberation Sans',Arial,sans-serif" font-size="15.4" fill="#111">0.2 - 0.4</text>
<rect x="279.7" y="449.80" width="26.4" height="11.3" fill="#fee995"/>
<text x="314.9" y="460.90" font-family="'Liberation Sans',Arial,sans-serif" font-size="15.4" fill="#111">0.4 - 0.6</text>
<line x1="296.2" y1="410.3" x2="296.2" y2="461.10" stroke="#000" stroke-opacity="0.1" stroke-width="1.3"/>
<g transform="translate(0,0)"><circle cx="110.6" cy="129.3" r="16.6" fill="#fff" stroke="#000" stroke-width="1.5"/><circle cx="110.6" cy="129.3" r="14.3" fill="none" stroke="#999" stroke-width="0.6"/><path d="M110.4,103 L94.6,146.2 L110.4,129.6 Z" fill="#8e93ba" stroke="#8e93ba" stroke-width="0.5"/><path d="M110.4,103 L127.1,146.0 L110.4,129.6 Z" fill="#a7acd7"/><path d="M110.4,103 L94.6,146.2 L110.4,129.6 L127.1,146.0 Z" fill="none" stroke="#000" stroke-width="1.6" stroke-linejoin="miter"/><text x="110.2" y="102.8" font-family="'Liberation Sans',Arial,sans-serif" font-size="14.5" fill="#8f99cc" text-anchor="middle">N</text></g>
<text x="345.8" y="111.7" font-family="'Liberation Serif','Times New Roman',serif" font-size="25.7" fill="#000">(A)</text>
<g><rect x="85.1" y="471.9" width="65.9" height="9.3" fill="#000" stroke="#333" stroke-width="0.8"/><rect x="151.0" y="471.9" width="65.5" height="9.3" fill="#fff" stroke="#333" stroke-width="0.8"/><text x="85.3" y="462.9" font-family="'Liberation Sans',Arial,sans-serif" font-size="12.6" fill="#1a1a1a" text-anchor="middle">0</text><text x="151.0" y="462.9" font-family="'Liberation Sans',Arial,sans-serif" font-size="12.6" fill="#1a1a1a" text-anchor="middle">50</text><text x="205.2" y="462.9" font-family="'Liberation Sans',Arial,sans-serif" font-size="12.6" fill="#1a1a1a">100 m</text></g>
<rect x="69.00" y="76.00" width="104.00" height="4.1" fill="#000"/>
<rect x="69.00" y="485.70" width="104.00" height="4.1" fill="#000"/>
<rect x="173.00" y="76.50" width="123.20" height="3.10" fill="#fff" stroke="#4a4a4a" stroke-width="1"/>
<rect x="173.00" y="486.20" width="123.20" height="3.10" fill="#fff" stroke="#4a4a4a" stroke-width="1"/>
<rect x="296.20" y="76.00" width="100.60" height="4.1" fill="#000"/>
<rect x="296.20" y="485.70" width="100.60" height="4.1" fill="#000"/>
<rect x="69.00" y="76.00" width="4.1" height="112.50" fill="#000"/>
<rect x="392.70" y="76.00" width="4.1" height="112.50" fill="#000"/>
<rect x="69.50" y="188.50" width="3.10" height="145.20" fill="#fff" stroke="#4a4a4a" stroke-width="1"/>
<rect x="393.20" y="188.50" width="3.10" height="145.20" fill="#fff" stroke="#4a4a4a" stroke-width="1"/>
<rect x="69.00" y="333.70" width="4.1" height="145.30" fill="#000"/>
<rect x="392.70" y="333.70" width="4.1" height="145.30" fill="#000"/>
<rect x="69.50" y="479.00" width="3.10" height="10.80" fill="#fff" stroke="#4a4a4a" stroke-width="1"/>
<rect x="393.20" y="479.00" width="3.10" height="10.80" fill="#fff" stroke="#4a4a4a" stroke-width="1"/>
<rect x="70.20" y="77.20" width="1.7" height="1.7" fill="#fff"/>
<rect x="393.90" y="77.20" width="1.7" height="1.7" fill="#fff"/>
<rect x="70.20" y="486.90" width="1.7" height="1.7" fill="#fff"/>
<rect x="393.90" y="486.90" width="1.7" height="1.7" fill="#fff"/>
<text x="173.2" y="70.7" textLength="63.5" font-family="'Liberation Serif','Times New Roman',serif" font-size="15.8" fill="#3a3a3a" text-anchor="middle" lengthAdjust="spacingAndGlyphs">121.077°E</text>
<text x="173.2" y="506.5" textLength="63.5" font-family="'Liberation Serif','Times New Roman',serif" font-size="15.8" fill="#3a3a3a" text-anchor="middle" lengthAdjust="spacingAndGlyphs">121.077°E</text>
<text x="296.4" y="70.7" textLength="63.5" font-family="'Liberation Serif','Times New Roman',serif" font-size="15.8" fill="#3a3a3a" text-anchor="middle" lengthAdjust="spacingAndGlyphs">121.078°E</text>
<text x="296.4" y="506.5" textLength="63.5" font-family="'Liberation Serif','Times New Roman',serif" font-size="15.8" fill="#3a3a3a" text-anchor="middle" lengthAdjust="spacingAndGlyphs">121.078°E</text>
<text transform="translate(63.3,188.9) rotate(-90)" x="0" y="0" textLength="57.2" font-family="'Liberation Serif','Times New Roman',serif" font-size="15.8" fill="#3a3a3a" text-anchor="middle" lengthAdjust="spacingAndGlyphs">32.120°N</text>
<text transform="translate(413.3,188.9) rotate(-90)" x="0" y="0" textLength="57.2" font-family="'Liberation Serif','Times New Roman',serif" font-size="15.8" fill="#3a3a3a" text-anchor="middle" lengthAdjust="spacingAndGlyphs">32.120°N</text>
<text transform="translate(63.3,334.09999999999997) rotate(-90)" x="0" y="0" textLength="56.7" font-family="'Liberation Serif','Times New Roman',serif" font-size="15.8" fill="#3a3a3a" text-anchor="middle" lengthAdjust="spacingAndGlyphs">32.119°N</text>
<text transform="translate(413.3,334.09999999999997) rotate(-90)" x="0" y="0" textLength="56.7" font-family="'Liberation Serif','Times New Roman',serif" font-size="15.8" fill="#3a3a3a" text-anchor="middle" lengthAdjust="spacingAndGlyphs">32.119°N</text>
<text transform="translate(63.3,479.4) rotate(-90)" x="0" y="0" textLength="56.7" font-family="'Liberation Serif','Times New Roman',serif" font-size="15.8" fill="#3a3a3a" text-anchor="middle" lengthAdjust="spacingAndGlyphs">32.118°N</text>
<text transform="translate(413.3,479.4) rotate(-90)" x="0" y="0" textLength="56.7" font-family="'Liberation Serif','Times New Roman',serif" font-size="15.8" fill="#3a3a3a" text-anchor="middle" lengthAdjust="spacingAndGlyphs">32.118°N</text>
</g>
<g transform="translate(403.3,0)">
<defs><path id="pB1" d="M239.4 104.8h0M244.0 107.4h0M230.3 105.0h0M234.9 107.5h0M239.5 110.1h0M244.1 112.6h0M248.7 115.2h0M253.3 117.7h0M257.8 120.2h0M262.4 122.8h0M267.0 125.3h0M271.6 127.9h0M276.2 130.4h0M280.8 133.0h0M285.4 135.5h0M290.0 138.0h0M294.5 140.6h0M299.1 143.1h0M303.7 145.7h0M308.3 148.2h0M312.9 150.8h0M317.5 153.3h0M322.1 155.8h0M326.7 158.4h0M331.2 160.9h0M335.8 163.5h0M340.4 166.0h0M345.0 168.6h0M349.6 171.1h0M354.2 173.6h0M225.8 107.7h0M230.4 110.2h0M244.2 117.9h0M248.8 120.4h0M253.3 122.9h0M257.9 125.5h0M267.1 130.6h0M303.8 150.9h0M322.2 161.1h0M326.7 163.6h0M331.3 166.2h0M335.9 168.7h0M340.5 171.3h0M345.1 173.8h0M349.7 176.3h0M354.3 178.9h0M363.4 184.0h0M368.0 186.5h0M372.6 189.1h0M225.9 112.9h0M267.2 135.8h0M299.3 153.6h0M336.0 174.0h0M340.6 176.5h0M345.2 179.0h0M363.5 189.2h0M262.7 138.5h0M267.3 141.1h0M340.7 181.8h0M372.8 199.6h0M221.5 120.9h0M226.1 123.4h0M230.7 126.0h0M249.0 136.1h0M217.0 123.6h0M221.6 126.1h0M226.2 128.7h0M230.8 131.2h0M235.4 133.8h0M368.4 207.5h0M221.7 131.4h0M226.3 133.9h0M230.9 136.5h0M235.5 139.0h0M359.3 207.7h0M363.9 210.2h0M212.6 131.5h0M221.8 136.6h0M231.0 141.7h0M235.5 144.2h0M249.3 151.9h0M354.8 210.4h0M359.4 212.9h0M364.0 215.4h0M217.3 139.3h0M221.9 141.9h0M226.5 144.4h0M350.3 213.1h0M354.9 215.6h0M359.5 218.1h0M350.4 218.3h0M355.0 220.8h0M208.3 144.7h0M350.5 223.5h0M203.8 147.4h0M208.4 150.0h0M350.6 228.8h0M203.9 152.7h0M208.5 155.2h0M199.4 155.4h0M204.0 157.9h0M208.6 160.5h0M213.2 163.0h0M217.7 165.5h0M222.3 168.1h0M346.2 236.7h0M199.5 160.6h0M213.3 168.2h0M217.8 170.8h0M227.0 175.9h0M231.6 178.4h0M236.2 181.0h0M240.8 183.5h0M245.4 186.0h0M250.0 188.6h0M254.5 191.1h0M259.1 193.7h0M263.7 196.2h0M268.3 198.8h0M272.9 201.3h0M277.5 203.8h0M282.1 206.4h0M286.7 208.9h0M341.7 239.4h0M346.3 242.0h0M195.0 163.3h0M199.6 165.9h0M236.3 186.2h0M240.9 188.7h0M245.5 191.3h0M250.0 193.8h0M254.6 196.4h0M263.8 201.5h0M268.4 204.0h0M273.0 206.5h0M277.6 209.1h0M282.2 211.6h0M286.7 214.2h0M291.3 216.7h0M295.9 219.3h0M314.3 229.4h0M318.9 232.0h0M328.0 237.1h0M332.6 239.6h0M337.2 242.1h0M341.8 244.7h0M195.1 168.6h0M199.7 171.1h0M259.3 204.2h0M263.9 206.7h0M268.5 209.2h0M273.1 211.8h0M277.7 214.3h0M309.8 232.1h0M332.7 244.8h0M337.3 247.4h0M341.9 249.9h0M190.6 171.3h0M195.2 173.8h0M241.1 199.2h0M259.4 209.4h0M264.0 211.9h0M268.6 214.5h0M337.4 252.6h0M190.7 176.5h0M195.3 179.0h0M199.9 181.6h0M264.1 217.2h0M268.7 219.7h0M277.8 224.8h0M332.9 255.3h0M337.5 257.9h0M186.2 179.2h0M190.8 181.7h0M195.4 184.3h0M199.9 186.8h0M232.1 204.6h0M259.6 219.9h0M328.4 258.0h0M333.0 260.6h0M186.3 184.4h0M190.9 187.0h0M195.5 189.5h0M200.0 192.1h0M213.8 199.7h0M223.0 204.8h0M227.6 207.3h0M232.2 209.9h0M236.7 212.4h0M259.7 225.1h0M328.5 263.3h0M333.1 265.8h0M181.8 187.1h0M186.4 189.7h0M191.0 192.2h0M195.5 194.8h0M200.1 197.3h0M204.7 199.9h0M209.3 202.4h0M213.9 204.9h0M218.5 207.5h0M223.1 210.0h0M227.7 212.6h0M232.2 215.1h0M236.8 217.7h0M259.8 230.4h0M264.4 232.9h0M314.8 260.9h0M319.4 263.4h0M324.0 266.0h0M328.6 268.5h0M181.9 192.4h0M186.5 194.9h0M191.0 197.5h0M195.6 200.0h0M200.2 202.6h0M204.8 205.1h0M209.4 207.6h0M223.2 215.3h0M246.1 228.0h0M310.3 263.6h0M314.9 266.1h0M319.5 268.7h0M324.1 271.2h0M328.7 273.8h0M182.0 197.6h0M282.9 253.6h0M287.5 256.1h0M310.4 268.8h0M315.0 271.4h0M319.6 273.9h0M324.2 276.5h0M177.5 200.3h0M305.9 271.5h0M310.5 274.1h0M315.1 276.6h0M319.7 279.2h0M177.6 205.6h0M301.4 274.2h0M306.0 276.8h0M310.6 279.3h0M315.2 281.9h0M319.8 284.4h0M173.1 208.3h0M177.7 210.8h0M301.5 279.5h0M306.1 282.0h0M310.7 284.6h0M315.3 287.1h0M173.2 213.5h0M177.7 216.1h0M278.7 272.0h0M292.4 279.6h0M297.0 282.2h0M301.6 284.7h0M306.2 287.3h0M310.8 289.8h0M315.4 292.4h0M168.7 216.2h0M173.2 218.8h0M177.8 221.3h0M182.4 223.9h0M187.0 226.4h0M191.6 228.9h0M196.2 231.5h0M205.4 236.6h0M209.9 239.1h0M214.5 241.7h0M219.1 244.2h0M223.7 246.7h0M228.3 249.3h0M232.9 251.8h0M237.5 254.4h0M242.1 256.9h0M246.6 259.5h0M251.2 262.0h0M255.8 264.5h0M260.4 267.1h0M297.1 287.4h0M301.7 290.0h0M306.3 292.5h0M310.9 295.1h0M164.2 218.9h0M168.8 221.5h0M173.3 224.0h0M177.9 226.6h0M182.5 229.1h0M187.1 231.6h0M191.7 234.2h0M196.3 236.7h0M200.9 239.3h0M205.5 241.8h0M210.0 244.4h0M214.6 246.9h0M219.2 249.4h0M223.8 252.0h0M228.4 254.5h0M233.0 257.1h0M237.6 259.6h0M242.1 262.2h0M246.7 264.7h0M251.3 267.2h0M255.9 269.8h0M260.5 272.3h0M265.1 274.9h0M269.7 277.4h0M274.3 280.0h0M278.8 282.5h0M283.4 285.0h0M288.0 287.6h0M292.6 290.1h0M297.2 292.7h0M301.8 295.2h0M306.4 297.8h0M311.0 300.3h0M187.2 236.9h0M191.8 239.4h0M196.4 242.0h0M201.0 244.5h0M205.5 247.1h0M210.1 249.6h0M214.7 252.1h0M219.3 254.7h0M223.9 257.2h0M228.5 259.8h0M233.1 262.3h0M237.7 264.9h0M242.2 267.4h0M246.8 269.9h0M251.4 272.5h0M256.0 275.0h0M260.6 277.6h0M265.2 280.1h0M269.8 282.7h0M274.4 285.2h0M278.9 287.7h0M283.5 290.3h0M288.1 292.8h0M292.7 295.4h0M297.3 297.9h0M301.9 300.5h0M306.5 303.0h0M196.5 247.2h0M201.0 249.8h0M205.6 252.3h0M210.2 254.8h0M214.8 257.4h0M219.4 259.9h0M224.0 262.5h0M228.6 265.0h0M233.2 267.6h0M237.7 270.1h0M242.3 272.6h0M246.9 275.2h0M251.5 277.7h0M256.1 280.3h0M260.7 282.8h0M265.3 285.4h0M269.9 287.9h0M274.4 290.4h0M279.0 293.0h0M283.6 295.5h0M288.2 298.1h0M292.8 300.6h0M297.4 303.2h0M302.0 305.7h0M306.6 308.2h0M192.0 249.9h0M196.6 252.5h0M201.1 255.0h0M205.7 257.5h0M210.3 260.1h0M214.9 262.6h0M219.5 265.2h0M224.1 267.7h0M228.7 270.3h0M233.2 272.8h0M237.8 275.3h0M242.4 277.9h0M247.0 280.4h0M251.6 283.0h0M256.2 285.5h0M260.8 288.1h0M265.4 290.6h0M269.9 293.1h0M274.5 295.7h0M279.1 298.2h0M283.7 300.8h0M288.3 303.3h0M292.9 305.9h0M297.5 308.4h0M302.1 310.9h0M192.1 255.2h0M196.6 257.7h0M201.2 260.2h0M205.8 262.8h0M210.4 265.3h0M215.0 267.9h0M219.6 270.4h0M224.2 273.0h0M228.8 275.5h0M233.3 278.0h0M237.9 280.6h0M242.5 283.1h0M247.1 285.7h0M251.7 288.2h0M256.3 290.8h0M260.9 293.3h0M265.5 295.8h0M270.0 298.4h0M274.6 300.9h0M279.2 303.5h0M283.8 306.0h0M288.4 308.6h0M293.0 311.1h0M297.6 313.6h0M187.6 257.9h0M192.1 260.4h0M196.7 263.0h0M201.3 265.5h0M205.9 268.0h0M210.5 270.6h0M215.1 273.1h0M219.7 275.7h0M224.3 278.2h0M228.8 280.8h0M233.4 283.3h0M238.0 285.8h0M242.6 288.4h0M247.2 290.9h0M251.8 293.5h0M256.4 296.0h0M261.0 298.6h0M265.5 301.1h0M270.1 303.6h0M274.7 306.2h0M279.3 308.7h0M283.9 311.3h0M288.5 313.8h0M293.1 316.4h0M297.7 318.9h0M187.7 263.1h0M196.8 268.2h0M201.4 270.7h0M206.0 273.3h0M210.6 275.8h0M215.2 278.4h0M219.8 280.9h0M224.3 283.5h0M228.9 286.0h0M233.5 288.5h0M238.1 291.1h0M242.7 293.6h0M247.3 296.2h0M251.9 298.7h0M256.5 301.3h0M261.0 303.8h0M265.6 306.3h0M270.2 308.9h0M274.8 311.4h0M279.4 314.0h0M284.0 316.5h0M288.6 319.1h0M293.2 321.6h0M183.2 265.8h0M187.7 268.4h0M192.3 270.9h0M196.9 273.4h0M201.5 276.0h0M206.1 278.5h0M210.7 281.1h0M215.3 283.6h0M219.9 286.2h0M224.4 288.7h0M229.0 291.2h0M233.6 293.8h0M238.2 296.3h0M242.8 298.9h0M247.4 301.4h0M252.0 304.0h0M256.6 306.5h0M261.1 309.0h0M265.7 311.6h0M270.3 314.1h0M274.9 316.7h0M279.5 319.2h0M284.1 321.8h0M288.7 324.3h0M293.3 326.8h0M187.8 273.6h0M192.4 276.1h0M197.0 278.7h0M201.6 281.2h0M206.2 283.8h0M210.8 286.3h0M215.4 288.9h0M219.9 291.4h0M224.5 293.9h0M229.1 296.5h0M233.7 299.0h0M238.3 301.6h0M242.9 304.1h0M247.5 306.7h0M252.1 309.2h0M256.6 311.7h0M261.2 314.3h0M265.8 316.8h0M270.4 319.4h0M275.0 321.9h0M279.6 324.5h0M284.2 327.0h0M288.8 329.5h0M178.8 273.8h0M183.3 276.3h0M187.9 278.8h0M192.5 281.4h0M197.1 283.9h0M201.7 286.5h0M206.3 289.0h0M210.9 291.6h0M215.4 294.1h0M220.0 296.6h0M224.6 299.2h0M229.2 301.7h0M233.8 304.3h0M238.4 306.8h0M243.0 309.4h0M247.6 311.9h0M252.1 314.4h0M256.7 317.0h0M261.3 319.5h0M265.9 322.1h0M270.5 324.6h0M275.1 327.2h0M279.7 329.7h0M284.3 332.2h0M288.8 334.8h0M151.3 263.7h0M155.9 266.3h0M160.5 268.8h0M165.1 271.4h0M174.3 276.5h0M178.8 279.0h0M183.4 281.5h0M188.0 284.1h0M192.6 286.6h0M197.2 289.2h0M201.8 291.7h0M206.4 294.3h0M211.0 296.8h0M215.5 299.3h0M220.1 301.9h0M224.7 304.4h0M229.3 307.0h0M233.9 309.5h0M238.5 312.1h0M243.1 314.6h0M247.7 317.1h0M252.2 319.7h0M256.8 322.2h0M261.4 324.8h0M266.0 327.3h0M270.6 329.9h0M275.2 332.4h0M279.8 334.9h0M284.4 337.5h0M142.2 263.9h0M146.8 266.4h0M151.4 269.0h0M156.0 271.5h0M160.6 274.1h0M165.2 276.6h0M169.8 279.2h0M174.3 281.7h0M178.9 284.2h0M183.5 286.8h0M188.1 289.3h0M192.7 291.9h0M197.3 294.4h0M201.9 297.0h0M206.5 299.5h0M211.0 302.0h0M215.6 304.6h0M220.2 307.1h0M224.8 309.7h0M229.4 312.2h0M234.0 314.8h0M238.6 317.3h0M243.2 319.8h0M247.7 322.4h0M252.3 324.9h0M256.9 327.5h0M261.5 330.0h0M266.1 332.6h0M270.7 335.1h0M275.3 337.6h0M279.9 340.2h0M284.4 342.7h0M137.7 266.6h0M142.3 269.1h0M146.9 271.7h0M151.5 274.2h0M156.1 276.8h0M160.7 279.3h0M165.3 281.9h0M169.9 284.4h0M174.4 286.9h0M179.0 289.5h0M183.6 292.0h0M188.2 294.6h0M192.8 297.1h0M197.4 299.7h0M202.0 302.2h0M206.5 304.7h0M211.1 307.3h0M215.7 309.8h0M220.3 312.4h0M224.9 314.9h0M229.5 317.5h0M234.1 320.0h0M238.7 322.5h0M243.2 325.1h0M247.8 327.6h0M252.4 330.2h0M257.0 332.7h0M261.6 335.3h0M137.8 271.8h0M142.4 274.4h0M147.0 276.9h0M151.6 279.5h0M156.2 282.0h0M160.8 284.6h0M165.4 287.1h0M169.9 289.6h0M174.5 292.2h0M179.1 294.7h0M183.7 297.3h0M188.3 299.8h0M192.9 302.4h0M197.5 304.9h0M202.1 307.4h0M206.6 310.0h0M211.2 312.5h0M215.8 315.1h0M220.4 317.6h0M225.0 320.2h0M229.6 322.7h0M234.2 325.2h0M238.8 327.8h0M243.3 330.3h0M247.9 332.9h0M252.5 335.4h0M257.1 338.0h0M261.7 340.5h0M147.1 282.2h0M151.7 284.7h0M156.3 287.3h0M160.9 289.8h0M165.4 292.3h0M170.0 294.9h0M174.6 297.4h0M179.2 300.0h0M183.8 302.5h0M188.4 305.1h0M193.0 307.6h0M197.6 310.1h0M202.1 312.7h0M206.7 315.2h0M211.3 317.8h0M215.9 320.3h0M220.5 322.9h0M225.1 325.4h0M229.7 327.9h0M234.3 330.5h0M238.8 333.0h0M243.4 335.6h0M248.0 338.1h0M252.6 340.7h0M257.2 343.2h0M161.0 295.1h0M165.5 297.6h0M170.1 300.1h0M174.7 302.7h0M179.3 305.2h0M183.9 307.8h0M188.5 310.3h0M193.1 312.9h0M197.6 315.4h0M202.2 317.9h0M206.8 320.5h0M211.4 323.0h0M216.0 325.6h0M220.6 328.1h0M225.2 330.7h0M229.8 333.2h0M234.3 335.7h0M238.9 338.3h0M243.5 340.8h0M248.1 343.4h0M252.7 345.9h0M257.3 348.4h0M161.0 300.3h0M165.6 302.8h0M170.2 305.4h0M174.8 307.9h0M179.4 310.5h0M184.0 313.0h0M188.6 315.6h0M193.2 318.1h0M197.7 320.6h0M202.3 323.2h0M206.9 325.7h0M211.5 328.3h0M216.1 330.8h0M220.7 333.4h0M225.3 335.9h0M229.9 338.4h0M234.4 341.0h0M239.0 343.5h0M243.6 346.1h0M248.2 348.6h0M252.8 351.2h0M161.1 305.5h0M165.7 308.1h0M170.3 310.6h0M174.9 313.2h0M179.5 315.7h0M184.1 318.3h0M188.7 320.8h0M193.2 323.3h0M197.8 325.9h0M202.4 328.4h0M207.0 331.0h0M211.6 333.5h0M216.2 336.1h0M220.8 338.6h0M225.4 341.1h0M229.9 343.7h0M234.5 346.2h0M239.1 348.8h0M243.7 351.3h0M248.3 353.9h0M252.9 356.4h0M156.6 308.2h0M161.2 310.8h0M165.8 313.3h0M170.4 315.9h0M175.0 318.4h0M179.6 321.0h0M184.2 323.5h0M188.7 326.0h0M193.3 328.6h0M197.9 331.1h0M202.5 333.7h0M207.1 336.2h0M211.7 338.8h0M216.3 341.3h0M220.9 343.8h0M225.4 346.4h0M230.0 348.9h0M234.6 351.5h0M239.2 354.0h0M243.8 356.6h0M248.4 359.1h0M129.2 298.2h0M133.8 300.8h0M138.4 303.3h0M143.0 305.9h0M147.6 308.4h0M152.1 310.9h0M156.7 313.5h0M161.3 316.0h0M165.9 318.6h0M170.5 321.1h0M175.1 323.7h0M179.7 326.2h0M184.3 328.7h0M188.8 331.3h0M193.4 333.8h0M198.0 336.4h0M202.6 338.9h0M207.2 341.5h0M211.8 344.0h0M216.4 346.5h0M221.0 349.1h0M225.5 351.6h0M230.1 354.2h0M234.7 356.7h0M239.3 359.3h0M243.9 361.8h0M124.7 300.9h0M129.3 303.5h0M133.9 306.0h0M138.5 308.6h0M143.1 311.1h0M147.6 313.6h0M152.2 316.2h0M156.8 318.7h0M161.4 321.3h0M166.0 323.8h0M170.6 326.4h0M175.2 328.9h0M179.8 331.4h0M184.3 334.0h0M188.9 336.5h0M193.5 339.1h0M198.1 341.6h0M202.7 344.2h0M207.3 346.7h0M211.9 349.2h0M216.5 351.8h0M221.0 354.3h0M225.6 356.9h0M230.2 359.4h0M234.8 362.0h0M239.4 364.5h0M244.0 367.0h0M124.8 306.2h0M129.4 308.7h0M134.0 311.3h0M138.6 313.8h0M143.1 316.3h0M147.7 318.9h0M152.3 321.4h0M156.9 324.0h0M161.5 326.5h0M166.1 329.1h0M170.7 331.6h0M175.3 334.1h0M179.8 336.7h0M184.4 339.2h0M189.0 341.8h0M193.6 344.3h0M198.2 346.9h0M202.8 349.4h0M207.4 351.9h0M212.0 354.5h0M216.5 357.0h0M221.1 359.6h0M225.7 362.1h0M230.3 364.7h0M234.9 367.2h0M239.5 369.7h0M244.1 372.3h0M248.7 374.8h0M253.2 377.4h0M257.8 379.9h0M120.3 308.9h0M124.9 311.4h0M129.5 314.0h0M134.1 316.5h0M138.7 319.0h0M143.2 321.6h0M147.8 324.1h0M152.4 326.7h0M157.0 329.2h0M161.6 331.8h0M166.2 334.3h0M170.8 336.8h0M175.4 339.4h0M179.9 341.9h0M184.5 344.5h0M189.1 347.0h0M193.7 349.6h0M198.3 352.1h0M202.9 354.6h0M207.5 357.2h0M212.1 359.7h0M216.6 362.3h0M221.2 364.8h0M225.8 367.4h0M230.4 369.9h0M235.0 372.4h0M239.6 375.0h0M244.2 377.5h0M248.8 380.1h0M253.3 382.6h0M257.9 385.2h0M120.4 314.1h0M125.0 316.7h0M129.6 319.2h0M134.2 321.7h0M138.7 324.3h0M143.3 326.8h0M147.9 329.4h0M152.5 331.9h0M157.1 334.5h0M161.7 337.0h0M166.3 339.5h0M170.9 342.1h0M175.4 344.6h0M180.0 347.2h0M184.6 349.7h0M189.2 352.3h0M193.8 354.8h0M198.4 357.3h0M203.0 359.9h0M207.6 362.4h0M212.1 365.0h0M216.7 367.5h0M221.3 370.1h0M225.9 372.6h0M230.5 375.1h0M235.1 377.7h0M239.7 380.2h0M244.3 382.8h0M248.8 385.3h0M253.4 387.9h0M115.9 316.8h0M120.5 319.4h0M125.1 321.9h0M129.7 324.4h0M134.2 327.0h0M138.8 329.5h0M143.4 332.1h0M148.0 334.6h0M152.6 337.2h0M157.2 339.7h0M161.8 342.2h0M166.4 344.8h0M170.9 347.3h0M175.5 349.9h0M180.1 352.4h0M184.7 355.0h0M189.3 357.5h0M193.9 360.0h0M198.5 362.6h0M203.1 365.1h0M207.6 367.7h0M212.2 370.2h0M216.8 372.8h0M221.4 375.3h0M226.0 377.8h0M230.6 380.4h0M235.2 382.9h0M239.8 385.5h0M244.3 388.0h0M248.9 390.6h0M116.0 322.1h0M120.6 324.6h0M125.2 327.1h0M129.8 329.7h0M134.3 332.2h0M138.9 334.8h0M143.5 337.3h0M148.1 339.9h0M152.7 342.4h0M157.3 344.9h0M161.9 347.5h0M166.5 350.0h0M171.0 352.6h0M175.6 355.1h0M180.2 357.7h0M184.8 360.2h0M189.4 362.7h0M194.0 365.3h0M198.6 367.8h0M203.2 370.4h0M207.7 372.9h0M212.3 375.5h0M216.9 378.0h0M221.5 380.5h0M226.1 383.1h0M230.7 385.6h0M235.3 388.2h0M239.9 390.7h0M244.4 393.3h0M249.0 395.8h0M111.5 324.8h0M116.1 327.3h0M120.7 329.9h0M125.3 332.4h0M129.8 334.9h0M134.4 337.5h0M139.0 340.0h0M143.6 342.6h0M148.2 345.1h0M152.8 347.7h0M157.4 350.2h0M162.0 352.7h0M166.5 355.3h0M171.1 357.8h0M175.7 360.4h0M180.3 362.9h0M184.9 365.5h0M189.5 368.0h0M194.1 370.5h0M198.7 373.1h0M203.2 375.6h0M207.8 378.2h0M212.4 380.7h0M217.0 383.3h0M221.6 385.8h0M226.2 388.3h0M230.8 390.9h0M235.4 393.4h0M239.9 396.0h0M244.5 398.5h0M111.6 330.0h0M116.2 332.6h0M120.8 335.1h0M125.3 337.6h0M129.9 340.2h0M134.5 342.7h0M139.1 345.3h0M143.7 347.8h0M148.3 350.4h0M152.9 352.9h0M157.5 355.4h0M162.0 358.0h0M166.6 360.5h0M171.2 363.1h0M175.8 365.6h0M180.4 368.2h0M185.0 370.7h0M189.6 373.2h0M194.2 375.8h0M198.7 378.3h0M203.3 380.9h0M207.9 383.4h0M212.5 386.0h0M217.1 388.5h0M221.7 391.0h0M226.3 393.6h0M230.9 396.1h0M235.4 398.7h0M240.0 401.2h0M244.6 403.8h0M107.1 332.7h0M111.7 335.3h0M116.3 337.8h0M120.9 340.3h0M125.4 342.9h0M130.0 345.4h0M134.6 348.0h0M139.2 350.5h0M143.8 353.1h0M148.4 355.6h0M153.0 358.1h0M157.6 360.7h0M162.1 363.2h0M166.7 365.8h0M171.3 368.3h0M175.9 370.9h0M180.5 373.4h0M185.1 375.9h0M189.7 378.5h0M194.3 381.0h0M198.8 383.6h0M203.4 386.1h0M208.0 388.7h0M212.6 391.2h0M217.2 393.7h0M221.8 396.3h0M226.4 398.8h0M231.0 401.4h0M235.5 403.9h0M240.1 406.5h0M107.2 338.0h0M111.8 340.5h0M116.4 343.0h0M120.9 345.6h0M125.5 348.1h0M130.1 350.7h0M134.7 353.2h0M139.3 355.8h0M143.9 358.3h0M148.5 360.8h0M153.1 363.4h0M157.6 365.9h0M162.2 368.5h0M166.8 371.0h0M171.4 373.6h0M176.0 376.1h0M180.6 378.6h0M185.2 381.2h0M189.8 383.7h0M194.3 386.3h0M198.9 388.8h0M203.5 391.4h0M208.1 393.9h0M212.7 396.4h0M217.3 399.0h0M221.9 401.5h0M226.5 404.1h0M231.0 406.6h0M235.6 409.2h0M240.2 411.7h0M102.7 340.7h0M107.3 343.2h0M111.9 345.7h0M116.4 348.3h0M121.0 350.8h0M125.6 353.4h0M130.2 355.9h0M134.8 358.5h0M139.4 361.0h0M144.0 363.5h0M148.6 366.1h0M153.1 368.6h0M157.7 371.2h0M162.3 373.7h0M166.9 376.3h0M171.5 378.8h0M176.1 381.3h0M180.7 383.9h0M185.3 386.4h0M189.8 389.0h0M194.4 391.5h0M199.0 394.1h0M203.6 396.6h0M208.2 399.1h0M212.8 401.7h0M217.4 404.2h0M222.0 406.8h0M226.5 409.3h0M231.1 411.9h0M235.7 414.4h0M102.8 345.9h0M107.4 348.4h0M112.0 351.0h0M116.5 353.5h0M121.1 356.1h0M125.7 358.6h0M130.3 361.2h0M134.9 363.7h0M139.5 366.2h0M144.1 368.8h0M148.7 371.3h0M153.2 373.9h0M157.8 376.4h0M162.4 379.0h0M167.0 381.5h0M171.6 384.0h0M176.2 386.6h0M180.8 389.1h0M185.4 391.7h0M189.9 394.2h0M194.5 396.8h0M199.1 399.3h0M203.7 401.8h0M208.3 404.4h0M212.9 406.9h0M217.5 409.5h0M222.1 412.0h0M226.6 414.6h0M231.2 417.1h0M98.3 348.6h0M102.9 351.1h0M107.5 353.7h0M112.0 356.2h0M116.6 358.8h0M121.2 361.3h0M125.8 363.9h0M130.4 366.4h0M135.0 368.9h0M139.6 371.5h0M144.2 374.0h0M148.7 376.6h0M153.3 379.1h0M157.9 381.7h0M162.5 384.2h0M167.1 386.7h0M171.7 389.3h0M176.3 391.8h0M180.9 394.4h0M185.4 396.9h0M190.0 399.5h0M194.6 402.0h0M199.2 404.5h0M203.8 407.1h0M208.4 409.6h0M213.0 412.2h0M217.6 414.7h0M222.1 417.3h0M226.7 419.8h0M231.3 422.3h0M98.4 353.8h0M103.0 356.4h0M107.5 358.9h0M112.1 361.5h0M116.7 364.0h0M121.3 366.6h0M125.9 369.1h0M130.5 371.6h0M135.1 374.2h0M139.7 376.7h0M144.2 379.3h0M148.8 381.8h0M153.4 384.4h0M158.0 386.9h0M162.6 389.4h0M167.2 392.0h0M171.8 394.5h0M176.4 397.1h0M180.9 399.6h0M185.5 402.2h0M190.1 404.7h0M194.7 407.2h0M199.3 409.8h0M203.9 412.3h0M208.5 414.9h0M213.1 417.4h0M217.6 420.0h0M222.2 422.5h0M226.8 425.0h0M93.9 356.5h0M98.5 359.1h0M103.1 361.6h0M107.6 364.2h0M112.2 366.7h0M116.8 369.3h0M121.4 371.8h0M126.0 374.3h0M130.6 376.9h0M135.2 379.4h0M139.8 382.0h0M144.3 384.5h0M148.9 387.1h0M153.5 389.6h0M158.1 392.1h0M162.7 394.7h0M167.3 397.2h0M171.9 399.8h0M176.5 402.3h0M181.0 404.9h0M185.6 407.4h0M190.2 409.9h0M194.8 412.5h0M199.4 415.0h0M204.0 417.6h0M208.6 420.1h0M213.2 422.7h0M217.7 425.2h0M222.3 427.7h0M226.9 430.3h0M94.0 361.8h0M98.6 364.3h0M103.1 366.9h0M107.7 369.4h0M112.3 372.0h0M116.9 374.5h0M121.5 377.0h0M126.1 379.6h0M130.7 382.1h0M135.3 384.7h0M139.8 387.2h0M144.4 389.8h0M149.0 392.3h0M153.6 394.8h0M158.2 397.4h0M162.8 399.9h0M167.4 402.5h0M172.0 405.0h0M176.5 407.6h0M181.1 410.1h0M185.7 412.6h0M190.3 415.2h0M194.9 417.7h0M199.5 420.3h0M204.1 422.8h0M208.7 425.4h0M213.2 427.9h0M217.8 430.4h0M222.4 433.0h0M89.5 364.5h0M94.1 367.0h0M98.6 369.6h0M103.2 372.1h0M107.8 374.7h0M112.4 377.2h0M117.0 379.8h0M121.6 382.3h0M126.2 384.8h0M130.8 387.4h0M135.3 389.9h0M139.9 392.5h0M144.5 395.0h0M149.1 397.6h0M153.7 400.1h0M158.3 402.6h0M162.9 405.2h0M167.5 407.7h0M172.0 410.3h0M176.6 412.8h0M181.2 415.4h0M185.8 417.9h0M190.4 420.4h0M195.0 423.0h0M199.6 425.5h0M204.2 428.1h0M208.7 430.6h0M213.3 433.1h0M217.9 435.7h0M222.5 438.2h0M98.7 374.8h0M103.3 377.4h0M107.9 379.9h0M112.5 382.5h0M117.1 385.0h0M121.7 387.5h0M126.3 390.1h0M130.9 392.6h0M135.4 395.2h0M140.0 397.7h0M144.6 400.3h0M149.2 402.8h0M153.8 405.3h0M158.4 407.9h0M163.0 410.4h0M167.6 413.0h0M172.1 415.5h0M176.7 418.1h0M181.3 420.6h0M185.9 423.1h0M190.5 425.7h0M195.1 428.2h0M199.7 430.8h0M204.3 433.3h0M208.8 435.9h0M213.4 438.4h0M218.0 440.9h0M149.3 408.0h0M153.9 410.6h0M158.5 413.1h0M163.1 415.7h0M167.6 418.2h0M172.2 420.8h0M176.8 423.3h0M181.4 425.8h0M186.0 428.4h0M190.6 430.9h0M195.2 433.5h0M199.8 436.0h0M204.3 438.6h0M208.9 441.1h0M213.5 443.6h0M218.1 446.2h0M204.4 443.8h0M209.0 446.3h0M213.6 448.9h0"/><path id="pB2" d="M235.0 112.8h0M239.6 115.3h0M262.5 128.0h0M271.7 133.1h0M276.3 135.7h0M280.9 138.2h0M285.5 140.7h0M290.0 143.3h0M294.6 145.8h0M299.2 148.4h0M308.4 153.5h0M313.0 156.0h0M317.6 158.5h0M358.9 181.4h0M230.5 115.5h0M239.7 120.6h0M244.3 123.1h0M248.9 125.7h0M253.4 128.2h0M258.0 130.7h0M262.6 133.3h0M271.8 138.4h0M276.4 140.9h0M281.0 143.5h0M290.1 148.5h0M294.7 151.1h0M303.9 156.2h0M308.5 158.7h0M313.1 161.3h0M317.7 163.8h0M322.3 166.3h0M326.8 168.9h0M331.4 171.4h0M349.8 181.6h0M354.4 184.1h0M368.1 191.8h0M372.7 194.3h0M221.4 115.6h0M226.0 118.2h0M230.6 120.7h0M235.2 123.3h0M239.8 125.8h0M244.4 128.4h0M248.9 130.9h0M253.5 133.4h0M258.1 136.0h0M271.9 143.6h0M276.5 146.2h0M281.1 148.7h0M285.6 151.2h0M313.2 166.5h0M317.8 169.0h0M322.3 171.6h0M326.9 174.1h0M331.5 176.7h0M336.1 179.2h0M345.3 184.3h0M349.9 186.8h0M354.5 189.4h0M359.0 191.9h0M363.6 194.5h0M368.2 197.0h0M235.3 128.5h0M239.9 131.1h0M244.4 133.6h0M253.6 138.7h0M258.2 141.2h0M262.8 143.8h0M267.4 146.3h0M272.0 148.9h0M276.6 151.4h0M281.1 153.9h0M285.7 156.5h0M294.9 161.6h0M331.6 181.9h0M336.2 184.5h0M340.8 187.0h0M345.4 189.5h0M354.5 194.6h0M359.1 197.2h0M363.7 199.7h0M368.3 202.3h0M240.0 136.3h0M244.5 138.8h0M249.1 141.4h0M253.7 143.9h0M258.3 146.5h0M262.9 149.0h0M267.5 151.6h0M272.1 154.1h0M276.7 156.6h0M281.2 159.2h0M285.8 161.7h0M290.4 164.3h0M299.6 169.4h0M304.2 171.9h0M308.8 174.4h0M313.4 177.0h0M317.9 179.5h0M327.1 184.6h0M331.7 187.2h0M336.3 189.7h0M340.9 192.2h0M345.5 194.8h0M350.1 197.3h0M359.2 202.4h0M363.8 205.0h0M217.1 128.8h0M240.0 141.5h0M244.6 144.1h0M249.2 146.6h0M253.8 149.2h0M258.4 151.7h0M263.0 154.3h0M267.6 156.8h0M272.2 159.3h0M276.7 161.9h0M281.3 164.4h0M285.9 167.0h0M290.5 169.5h0M295.1 172.1h0M299.7 174.6h0M304.3 177.1h0M308.9 179.7h0M313.4 182.2h0M318.0 184.8h0M322.6 187.3h0M327.2 189.9h0M331.8 192.4h0M336.4 194.9h0M341.0 197.5h0M345.6 200.0h0M354.7 205.1h0M217.2 134.1h0M226.4 139.2h0M240.1 146.8h0M244.7 149.3h0M253.9 154.4h0M258.5 157.0h0M263.1 159.5h0M267.7 162.0h0M272.2 164.6h0M281.4 169.7h0M286.0 172.2h0M299.8 179.8h0M304.4 182.4h0M313.5 187.5h0M318.1 190.0h0M322.7 192.6h0M327.3 195.1h0M336.5 200.2h0M341.1 202.7h0M345.6 205.3h0M350.2 207.8h0M212.7 136.8h0M231.1 146.9h0M235.6 149.5h0M240.2 152.0h0M244.8 154.6h0M249.4 157.1h0M254.0 159.7h0M258.6 162.2h0M263.2 164.7h0M267.8 167.3h0M272.3 169.8h0M276.9 172.4h0M281.5 174.9h0M286.1 177.5h0M290.7 180.0h0M295.3 182.5h0M299.9 185.1h0M304.5 187.6h0M309.0 190.2h0M313.6 192.7h0M318.2 195.3h0M322.8 197.8h0M327.4 200.3h0M332.0 202.9h0M336.6 205.4h0M341.2 208.0h0M345.7 210.5h0M212.8 142.0h0M217.4 144.6h0M222.0 147.1h0M226.6 149.6h0M231.1 152.2h0M235.7 154.7h0M240.3 157.3h0M244.9 159.8h0M249.5 162.4h0M254.1 164.9h0M258.7 167.4h0M263.3 170.0h0M267.8 172.5h0M272.4 175.1h0M277.0 177.6h0M281.6 180.2h0M286.2 182.7h0M290.8 185.2h0M295.4 187.8h0M300.0 190.3h0M304.5 192.9h0M309.1 195.4h0M313.7 198.0h0M318.3 200.5h0M322.9 203.0h0M327.5 205.6h0M332.1 208.1h0M336.7 210.7h0M341.2 213.2h0M345.8 215.8h0M359.6 223.4h0M212.9 147.3h0M217.5 149.8h0M222.1 152.3h0M226.6 154.9h0M231.2 157.4h0M249.6 167.6h0M254.2 170.1h0M263.3 175.2h0M267.9 177.8h0M272.5 180.3h0M277.1 182.9h0M281.7 185.4h0M300.0 195.6h0M304.6 198.1h0M309.2 200.7h0M313.8 203.2h0M318.4 205.7h0M323.0 208.3h0M327.6 210.8h0M332.2 213.4h0M336.7 215.9h0M341.3 218.5h0M345.9 221.0h0M355.1 226.1h0M213.0 152.5h0M217.6 155.0h0M222.2 157.6h0M226.7 160.1h0M231.3 162.7h0M235.9 165.2h0M240.5 167.8h0M245.1 170.3h0M249.7 172.8h0M254.3 175.4h0M263.4 180.5h0M268.0 183.0h0M318.5 211.0h0M323.1 213.5h0M327.7 216.1h0M332.2 218.6h0M336.8 221.2h0M341.4 223.7h0M346.0 226.2h0M355.2 231.3h0M213.1 157.7h0M217.7 160.3h0M222.2 162.8h0M226.8 165.4h0M231.4 167.9h0M236.0 170.5h0M240.6 173.0h0M245.2 175.5h0M249.8 178.1h0M254.4 180.6h0M263.5 185.7h0M268.1 188.3h0M314.0 213.7h0M318.6 216.2h0M323.2 218.8h0M327.8 221.3h0M332.3 223.9h0M336.9 226.4h0M341.5 228.9h0M346.1 231.5h0M350.7 234.0h0M226.9 170.6h0M231.5 173.2h0M236.1 175.7h0M240.7 178.3h0M245.3 180.8h0M249.9 183.3h0M259.0 188.4h0M263.6 191.0h0M268.2 193.5h0M282.0 201.1h0M314.1 218.9h0M318.7 221.5h0M323.3 224.0h0M327.8 226.6h0M332.4 229.1h0M337.0 231.7h0M341.6 234.2h0M350.8 239.3h0M204.1 163.2h0M208.7 165.7h0M222.4 173.3h0M291.2 211.5h0M295.8 214.0h0M300.4 216.6h0M305.0 219.1h0M309.6 221.6h0M314.2 224.2h0M318.8 226.7h0M323.3 229.3h0M327.9 231.8h0M332.5 234.4h0M337.1 236.9h0M204.2 168.4h0M208.8 170.9h0M213.3 173.5h0M217.9 176.0h0M222.5 178.6h0M227.1 181.1h0M231.7 183.7h0M259.2 198.9h0M300.5 221.8h0M305.1 224.3h0M309.7 226.9h0M323.4 234.5h0M346.4 247.2h0M204.3 173.6h0M208.8 176.2h0M213.4 178.7h0M218.0 181.3h0M222.6 183.8h0M227.2 186.4h0M231.8 188.9h0M236.4 191.4h0M241.0 194.0h0M245.5 196.5h0M250.1 199.1h0M254.7 201.6h0M282.2 216.9h0M286.8 219.4h0M291.4 222.0h0M296.0 224.5h0M300.6 227.0h0M305.2 229.6h0M314.4 234.7h0M318.9 237.2h0M323.5 239.8h0M328.1 242.3h0M199.8 176.3h0M204.4 178.9h0M208.9 181.4h0M213.5 184.0h0M218.1 186.5h0M222.7 189.1h0M227.3 191.6h0M231.9 194.1h0M236.5 196.7h0M245.6 201.8h0M250.2 204.3h0M254.8 206.9h0M273.2 217.0h0M277.8 219.6h0M282.3 222.1h0M286.9 224.7h0M291.5 227.2h0M296.1 229.7h0M300.7 232.3h0M305.3 234.8h0M309.9 237.4h0M314.4 239.9h0M319.0 242.5h0M323.6 245.0h0M328.2 247.5h0M332.8 250.1h0M204.4 184.1h0M209.0 186.7h0M213.6 189.2h0M218.2 191.8h0M222.8 194.3h0M227.4 196.8h0M232.0 199.4h0M236.6 201.9h0M241.1 204.5h0M245.7 207.0h0M250.3 209.6h0M254.9 212.1h0M259.5 214.6h0M273.3 222.3h0M282.4 227.4h0M287.0 229.9h0M291.6 232.4h0M296.2 235.0h0M300.8 237.5h0M305.4 240.1h0M310.0 242.6h0M314.5 245.2h0M319.1 247.7h0M323.7 250.2h0M328.3 252.8h0M204.5 189.4h0M209.1 191.9h0M213.7 194.5h0M218.3 197.0h0M222.9 199.5h0M227.5 202.1h0M236.6 207.2h0M241.2 209.7h0M245.8 212.3h0M250.4 214.8h0M255.0 217.3h0M264.2 222.4h0M268.8 225.0h0M273.3 227.5h0M277.9 230.1h0M282.5 232.6h0M287.1 235.1h0M291.7 237.7h0M296.3 240.2h0M300.9 242.8h0M305.5 245.3h0M310.0 247.9h0M314.6 250.4h0M319.2 252.9h0M323.8 255.5h0M204.6 194.6h0M209.2 197.2h0M218.4 202.2h0M241.3 215.0h0M245.9 217.5h0M250.5 220.0h0M255.1 222.6h0M264.3 227.7h0M268.9 230.2h0M273.4 232.8h0M278.0 235.3h0M282.6 237.8h0M287.2 240.4h0M291.8 242.9h0M296.4 245.5h0M301.0 248.0h0M310.1 253.1h0M314.7 255.6h0M319.3 258.2h0M323.9 260.7h0M241.4 220.2h0M246.0 222.7h0M250.6 225.3h0M255.2 227.8h0M268.9 235.5h0M273.5 238.0h0M278.1 240.5h0M282.7 243.1h0M287.3 245.6h0M291.9 248.2h0M296.5 250.7h0M301.1 253.3h0M305.6 255.8h0M310.2 258.3h0M214.0 210.2h0M218.6 212.7h0M227.7 217.8h0M232.3 220.4h0M236.9 222.9h0M241.5 225.4h0M250.7 230.5h0M255.3 233.1h0M259.9 235.6h0M264.4 238.2h0M269.0 240.7h0M273.6 243.2h0M278.2 245.8h0M282.8 248.3h0M287.4 250.9h0M292.0 253.4h0M296.6 256.0h0M301.1 258.5h0M305.7 261.0h0M186.6 200.2h0M191.1 202.7h0M195.7 205.3h0M200.3 207.8h0M204.9 210.4h0M209.5 212.9h0M214.1 215.4h0M218.7 218.0h0M223.3 220.5h0M227.8 223.1h0M232.4 225.6h0M237.0 228.2h0M241.6 230.7h0M246.2 233.2h0M250.8 235.8h0M255.4 238.3h0M260.0 240.9h0M264.5 243.4h0M269.1 246.0h0M273.7 248.5h0M278.3 251.0h0M292.1 258.7h0M296.6 261.2h0M301.2 263.7h0M305.8 266.3h0M182.1 202.9h0M186.6 205.4h0M191.2 208.0h0M195.8 210.5h0M200.4 213.1h0M205.0 215.6h0M209.6 218.1h0M214.2 220.7h0M218.8 223.2h0M223.3 225.8h0M232.5 230.9h0M237.1 233.4h0M246.3 238.5h0M250.9 241.0h0M255.5 243.6h0M264.6 248.7h0M269.2 251.2h0M273.8 253.7h0M278.4 256.3h0M283.0 258.8h0M287.6 261.4h0M292.2 263.9h0M296.7 266.5h0M301.3 269.0h0M182.1 208.1h0M186.7 210.7h0M191.3 213.2h0M195.9 215.8h0M200.5 218.3h0M205.1 220.8h0M209.7 223.4h0M214.3 225.9h0M218.8 228.5h0M223.4 231.0h0M232.6 236.1h0M255.5 248.8h0M260.1 251.4h0M264.7 253.9h0M269.3 256.4h0M273.9 259.0h0M278.5 261.5h0M283.1 264.1h0M287.7 266.6h0M292.2 269.2h0M296.8 271.7h0M182.2 213.4h0M186.8 215.9h0M191.4 218.5h0M196.0 221.0h0M200.6 223.5h0M205.2 226.1h0M209.8 228.6h0M214.4 231.2h0M218.9 233.7h0M223.5 236.3h0M228.1 238.8h0M232.7 241.3h0M237.3 243.9h0M241.9 246.4h0M246.5 249.0h0M255.6 254.1h0M260.2 256.6h0M264.8 259.1h0M269.4 261.7h0M274.0 264.2h0M278.6 266.8h0M283.2 269.3h0M287.7 271.9h0M292.3 274.4h0M296.9 276.9h0M182.3 218.6h0M186.9 221.2h0M191.5 223.7h0M196.1 226.2h0M200.7 228.8h0M205.3 231.3h0M214.4 236.4h0M219.0 239.0h0M223.6 241.5h0M228.2 244.0h0M232.8 246.6h0M237.4 249.1h0M242.0 251.7h0M246.6 254.2h0M251.1 256.8h0M255.7 259.3h0M260.3 261.8h0M264.9 264.4h0M269.5 266.9h0M274.1 269.5h0M283.3 274.6h0M287.8 277.1h0M200.8 234.0h0M265.0 269.6h0M269.6 272.2h0M274.2 274.7h0M278.8 277.3h0M283.3 279.8h0M287.9 282.3h0M292.5 284.9h0M248.5 364.3h0"/><path id="pB3" d="M235.1 118.0h0M285.6 146.0h0M359.0 186.7h0M290.2 153.8h0M294.8 156.3h0M299.4 158.9h0M304.0 161.4h0M308.6 164.0h0M290.3 159.0h0M299.5 164.1h0M304.1 166.7h0M308.7 169.2h0M313.3 171.7h0M317.8 174.3h0M322.4 176.8h0M327.0 179.4h0M350.0 192.1h0M295.0 166.8h0M322.5 182.1h0M354.6 199.9h0M350.1 202.6h0M276.8 167.1h0M290.6 174.8h0M295.2 177.3h0M308.9 184.9h0M331.9 197.6h0M208.2 139.5h0M235.8 160.0h0M240.4 162.5h0M245.0 165.1h0M258.8 172.7h0M286.3 187.9h0M290.9 190.5h0M295.5 193.0h0M258.9 177.9h0M272.6 185.6h0M277.2 188.1h0M281.8 190.6h0M286.4 193.2h0M291.0 195.7h0M295.6 198.3h0M300.1 200.8h0M304.7 203.4h0M309.3 205.9h0M313.9 208.4h0M258.9 183.2h0M272.7 190.8h0M277.3 193.3h0M281.9 195.9h0M286.5 198.4h0M291.1 201.0h0M295.6 203.5h0M300.2 206.1h0M304.8 208.6h0M309.4 211.1h0M254.4 185.9h0M272.8 196.1h0M277.4 198.6h0M286.6 203.7h0M291.1 206.2h0M295.7 208.8h0M300.3 211.3h0M304.9 213.9h0M309.5 216.4h0M305.5 250.6h0M227.9 228.3h0M241.7 235.9h0M260.0 246.1h0M228.0 233.6h0M237.2 238.6h0M241.8 241.2h0M246.4 243.7h0M251.0 246.3h0M251.1 251.5h0M209.9 233.9h0"/></defs><g fill="none" stroke-width="6.0" stroke-linecap="round"><use href="#pB1" stroke="#97d8a8"/><use href="#pB2" stroke="#d3ecb4"/><use href="#pB3" stroke="#fff3c8"/></g><g fill="none" stroke-width="4.4" stroke-linecap="round"><use href="#pB1" stroke="#21a04b"/><use href="#pB2" stroke="#a6d96a"/><use href="#pB3" stroke="#fee690"/></g>
<g stroke="#000" stroke-opacity="0.3" stroke-width="1.3"><line x1="173.0" y1="80.1" x2="173.0" y2="485.7"/><line x1="296.2" y1="80.1" x2="296.2" y2="485.7"/><line x1="73.1" y1="188.5" x2="392.7" y2="188.5"/><line x1="73.1" y1="333.7" x2="392.7" y2="333.7"/><line x1="73.1" y1="479.0" x2="392.7" y2="479.0"/></g>
<text x="326.8" y="398.6" font-family="'Liberation Sans',Arial,sans-serif" font-size="19" fill="#000">DI<tspan font-size="12.8" dy="3.4">total</tspan></text>
<rect x="278.0" y="413.10" width="26.4" height="11.3" fill="#239b4b"/>
<text x="313.59999999999997" y="424.20" font-family="'Liberation Sans',Arial,sans-serif" font-size="15.4" fill="#111">0.0 - 0.2</text>
<rect x="278.0" y="432.85" width="26.4" height="11.3" fill="#a8d96c"/>
<text x="313.59999999999997" y="443.95" font-family="'Liberation Sans',Arial,sans-serif" font-size="15.4" fill="#111">0.2 - 0.4</text>
<rect x="278.0" y="452.60" width="26.4" height="11.3" fill="#fee995"/>
<text x="313.59999999999997" y="463.70" font-family="'Liberation Sans',Arial,sans-serif" font-size="15.4" fill="#111">0.4 - 0.6</text>
<line x1="296.2" y1="413.1" x2="296.2" y2="463.90" stroke="#000" stroke-opacity="0.1" stroke-width="1.3"/>
<g transform="translate(-2.2,0)"><circle cx="110.6" cy="129.3" r="16.6" fill="#fff" stroke="#000" stroke-width="1.5"/><circle cx="110.6" cy="129.3" r="14.3" fill="none" stroke="#999" stroke-width="0.6"/><path d="M110.4,103 L94.6,146.2 L110.4,129.6 Z" fill="#8e93ba" stroke="#8e93ba" stroke-width="0.5"/><path d="M110.4,103 L127.1,146.0 L110.4,129.6 Z" fill="#a7acd7"/><path d="M110.4,103 L94.6,146.2 L110.4,129.6 L127.1,146.0 Z" fill="none" stroke="#000" stroke-width="1.6" stroke-linejoin="miter"/><text x="110.2" y="102.8" font-family="'Liberation Sans',Arial,sans-serif" font-size="14.5" fill="#8f99cc" text-anchor="middle">N</text></g>
<text x="341.1" y="111.7" font-family="'Liberation Serif','Times New Roman',serif" font-size="25.7" fill="#000">(B)</text>
<g><rect x="85.1" y="471.9" width="65.9" height="9.3" fill="#000" stroke="#333" stroke-width="0.8"/><rect x="151.0" y="471.9" width="65.5" height="9.3" fill="#fff" stroke="#333" stroke-width="0.8"/><text x="85.3" y="462.9" font-family="'Liberation Sans',Arial,sans-serif" font-size="12.6" fill="#1a1a1a" text-anchor="middle">0</text><text x="151.0" y="462.9" font-family="'Liberation Sans',Arial,sans-serif" font-size="12.6" fill="#1a1a1a" text-anchor="middle">50</text><text x="205.2" y="462.9" font-family="'Liberation Sans',Arial,sans-serif" font-size="12.6" fill="#1a1a1a">100 m</text></g>
<rect x="69.00" y="76.00" width="104.00" height="4.1" fill="#000"/>
<rect x="69.00" y="485.70" width="104.00" height="4.1" fill="#000"/>
<rect x="173.00" y="76.50" width="123.20" height="3.10" fill="#fff" stroke="#4a4a4a" stroke-width="1"/>
<rect x="173.00" y="486.20" width="123.20" height="3.10" fill="#fff" stroke="#4a4a4a" stroke-width="1"/>
<rect x="296.20" y="76.00" width="100.60" height="4.1" fill="#000"/>
<rect x="296.20" y="485.70" width="100.60" height="4.1" fill="#000"/>
<rect x="69.00" y="76.00" width="4.1" height="112.50" fill="#000"/>
<rect x="392.70" y="76.00" width="4.1" height="112.50" fill="#000"/>
<rect x="69.50" y="188.50" width="3.10" height="145.20" fill="#fff" stroke="#4a4a4a" stroke-width="1"/>
<rect x="393.20" y="188.50" width="3.10" height="145.20" fill="#fff" stroke="#4a4a4a" stroke-width="1"/>
<rect x="69.00" y="333.70" width="4.1" height="145.30" fill="#000"/>
<rect x="392.70" y="333.70" width="4.1" height="145.30" fill="#000"/>
<rect x="69.50" y="479.00" width="3.10" height="10.80" fill="#fff" stroke="#4a4a4a" stroke-width="1"/>
<rect x="393.20" y="479.00" width="3.10" height="10.80" fill="#fff" stroke="#4a4a4a" stroke-width="1"/>
<rect x="70.20" y="77.20" width="1.7" height="1.7" fill="#fff"/>
<rect x="393.90" y="77.20" width="1.7" height="1.7" fill="#fff"/>
<rect x="70.20" y="486.90" width="1.7" height="1.7" fill="#fff"/>
<rect x="393.90" y="486.90" width="1.7" height="1.7" fill="#fff"/>
<text x="173.2" y="70.7" textLength="63.5" font-family="'Liberation Serif','Times New Roman',serif" font-size="15.8" fill="#3a3a3a" text-anchor="middle" lengthAdjust="spacingAndGlyphs">121.077°E</text>
<text x="173.2" y="506.5" textLength="63.5" font-family="'Liberation Serif','Times New Roman',serif" font-size="15.8" fill="#3a3a3a" text-anchor="middle" lengthAdjust="spacingAndGlyphs">121.077°E</text>
<text x="296.4" y="70.7" textLength="63.5" font-family="'Liberation Serif','Times New Roman',serif" font-size="15.8" fill="#3a3a3a" text-anchor="middle" lengthAdjust="spacingAndGlyphs">121.078°E</text>
<text x="296.4" y="506.5" textLength="63.5" font-family="'Liberation Serif','Times New Roman',serif" font-size="15.8" fill="#3a3a3a" text-anchor="middle" lengthAdjust="spacingAndGlyphs">121.078°E</text>
<text transform="translate(63.3,188.9) rotate(-90)" x="0" y="0" textLength="57.2" font-family="'Liberation Serif','Times New Roman',serif" font-size="15.8" fill="#3a3a3a" text-anchor="middle" lengthAdjust="spacingAndGlyphs">32.120°N</text>
<text transform="translate(413.3,188.9) rotate(-90)" x="0" y="0" textLength="57.2" font-family="'Liberation Serif','Times New Roman',serif" font-size="15.8" fill="#3a3a3a" text-anchor="middle" lengthAdjust="spacingAndGlyphs">32.120°N</text>
<text transform="translate(63.3,334.09999999999997) rotate(-90)" x="0" y="0" textLength="56.7" font-family="'Liberation Serif','Times New Roman',serif" font-size="15.8" fill="#3a3a3a" text-anchor="middle" lengthAdjust="spacingAndGlyphs">32.119°N</text>
<text transform="translate(413.3,334.09999999999997) rotate(-90)" x="0" y="0" textLength="56.7" font-family="'Liberation Serif','Times New Roman',serif" font-size="15.8" fill="#3a3a3a" text-anchor="middle" lengthAdjust="spacingAndGlyphs">32.119°N</text>
<text transform="translate(63.3,479.4) rotate(-90)" x="0" y="0" textLength="56.7" font-family="'Liberation Serif','Times New Roman',serif" font-size="15.8" fill="#3a3a3a" text-anchor="middle" lengthAdjust="spacingAndGlyphs">32.118°N</text>
<text transform="translate(413.3,479.4) rotate(-90)" x="0" y="0" textLength="56.7" font-family="'Liberation Serif','Times New Roman',serif" font-size="15.8" fill="#3a3a3a" text-anchor="middle" lengthAdjust="spacingAndGlyphs">32.118°N</text>
</g>
<g transform="translate(803.3,0)">
<defs><pattern id="hr" patternUnits="userSpaceOnUse" width="5.94" height="5.94" patternTransform="rotate(45) translate(4.2,0)"><rect x="-0.725" y="0" width="1.45" height="5.94" fill="#c8101a"/><rect x="5.215000000000001" y="0" width="1.45" height="5.94" fill="#c8101a"/></pattern><pattern id="ho" patternUnits="userSpaceOnUse" width="5.94" height="5.94" patternTransform="rotate(45) translate(4.2,0)"><rect x="-0.725" y="0" width="1.45" height="5.94" fill="#e57d12"/><rect x="5.215000000000001" y="0" width="1.45" height="5.94" fill="#e57d12"/></pattern><pattern id="hg" patternUnits="userSpaceOnUse" width="5.94" height="5.94" patternTransform="rotate(45) translate(4.2,0)"><rect x="-0.725" y="0" width="1.45" height="5.94" fill="#66bd45"/><rect x="5.215000000000001" y="0" width="1.45" height="5.94" fill="#66bd45"/></pattern><pattern id="l0" patternUnits="userSpaceOnUse" width="5.6" height="5.6" patternTransform="rotate(45) translate(0,0)"><rect x="-0.65" y="0" width="1.3" height="5.6" fill="#d7191c"/><rect x="4.949999999999999" y="0" width="1.3" height="5.6" fill="#d7191c"/></pattern><pattern id="l1" patternUnits="userSpaceOnUse" width="5.6" height="5.6" patternTransform="rotate(45) translate(0,0)"><rect x="-0.65" y="0" width="1.3" height="5.6" fill="#f28c1e"/><rect x="4.949999999999999" y="0" width="1.3" height="5.6" fill="#f28c1e"/></pattern><pattern id="l2" patternUnits="userSpaceOnUse" width="5.6" height="5.6" patternTransform="rotate(45) translate(0,0)"><rect x="-0.65" y="0" width="1.3" height="5.6" fill="#7dca5b"/><rect x="4.949999999999999" y="0" width="1.3" height="5.6" fill="#7dca5b"/></pattern><clipPath id="cR"><polygon points="227.7,109.0 228.6,107.8 229.6,106.9 230.7,106.4 231.8,106.3 233.1,106.6 234.5,107.2 372.4,187.1 373.4,187.8 374.1,188.6 374.5,189.5 374.6,190.4 374.4,191.5 373.9,192.6 344.2,245.2 200.9,156.2"/></clipPath><clipPath id="cO"><polygon points="200.9,156.2 344.2,245.2 308.6,299.4 171.3,213.4"/></clipPath><clipPath id="cG"><polygon points="171.0,214.6 308.6,299.4 283.0,341.6 265.5,332.9 242.4,369.6 257.6,381.0 214.7,445.9 91.9,365.7 128.0,299.8 153.7,314.4 160.7,302.7 165.3,291.1 139.0,272.9 143.6,265.3 173.4,283.4 177.5,277.0 185.6,281.1 192.6,270.0 185.6,265.3 197.9,242.6 185.0,233.8 167.0,221.4"/></clipPath></defs>
<polygon points="171.0,214.6 308.6,299.4 283.0,341.6 265.5,332.9 242.4,369.6 257.6,381.0 214.7,445.9 91.9,365.7 128.0,299.8 153.7,314.4 160.7,302.7 165.3,291.1 139.0,272.9 143.6,265.3 173.4,283.4 177.5,277.0 185.6,281.1 192.6,270.0 185.6,265.3 197.9,242.6 185.0,233.8 167.0,221.4" fill="url(#hg)"/>
<polygon points="200.9,156.2 344.2,245.2 308.6,299.4 171.3,213.4" fill="url(#ho)"/>
<polygon points="227.7,109.0 228.6,107.8 229.6,106.9 230.7,106.4 231.8,106.3 233.1,106.6 234.5,107.2 372.4,187.1 373.4,187.8 374.1,188.6 374.5,189.5 374.6,190.4 374.4,191.5 373.9,192.6 344.2,245.2 200.9,156.2" fill="url(#hr)"/>
<polygon points="171.0,214.6 308.6,299.4 283.0,341.6 265.5,332.9 242.4,369.6 257.6,381.0 214.7,445.9 91.9,365.7 128.0,299.8 153.7,314.4 160.7,302.7 165.3,291.1 139.0,272.9 143.6,265.3 173.4,283.4 177.5,277.0 185.6,281.1 192.6,270.0 185.6,265.3 197.9,242.6 185.0,233.8 167.0,221.4" fill="none" stroke="#1a9641" stroke-width="5.0" clip-path="url(#cG)"/>
<polygon points="200.9,156.2 344.2,245.2 308.6,299.4 171.3,213.4" fill="none" stroke="#fdb462" stroke-width="3.0" clip-path="url(#cO)"/>
<polygon points="227.7,109.0 228.6,107.8 229.6,106.9 230.7,106.4 231.8,106.3 233.1,106.6 234.5,107.2 372.4,187.1 373.4,187.8 374.1,188.6 374.5,189.5 374.6,190.4 374.4,191.5 373.9,192.6 344.2,245.2 200.9,156.2" fill="none" stroke="#d7191c" stroke-width="4.2" stroke-linejoin="round" clip-path="url(#cR)"/>
<g stroke="#000" stroke-opacity="0.3" stroke-width="1.3"><line x1="173.0" y1="80.1" x2="173.0" y2="485.7"/><line x1="296.2" y1="80.1" x2="296.2" y2="356.3"/><line x1="296.2" y1="475.7" x2="296.2" y2="485.7"/><line x1="73.1" y1="188.5" x2="392.7" y2="188.5"/><line x1="73.1" y1="333.7" x2="392.7" y2="333.7"/><line x1="73.1" y1="479.0" x2="392.7" y2="479.0"/></g>
<rect x="266" y="356.3" width="123" height="119.4" fill="#fff"/>
<text x="299.6" y="391.0" font-family="'Liberation Sans','Noto Sans CJK SC','WenQuanYi Zen Hei',sans-serif" font-size="16.4" fill="#111">试验处理</text>
<rect x="271.6" y="406.00" width="24.9" height="14.4" rx="1.5" fill="url(#l0)" stroke="#d7191c" stroke-width="2"/>
<text x="304.5" y="418.0" font-family="'Liberation Sans','Noto Sans CJK SC','WenQuanYi Zen Hei',sans-serif" font-size="14.5" fill="#111">易感</text><text transform="translate(331.90,418.0) scale(2.1,1)" font-family="'Liberation Sans','Noto Sans CJK SC','WenQuanYi Zen Hei',sans-serif" font-size="14.5" fill="#111">-</text><text x="341.90" y="418.0" font-family="'Liberation Sans','Noto Sans CJK SC','WenQuanYi Zen Hei',sans-serif" font-size="14.5" fill="#111">不施药</text>
<rect x="271.6" y="429.35" width="24.9" height="14.4" rx="1.5" fill="url(#l1)" stroke="#fdb462" stroke-width="2"/>
<text x="304.5" y="441.35" font-family="'Liberation Sans','Noto Sans CJK SC','WenQuanYi Zen Hei',sans-serif" font-size="14.5" fill="#111">易感</text><text transform="translate(331.90,441.35) scale(2.1,1)" font-family="'Liberation Sans','Noto Sans CJK SC','WenQuanYi Zen Hei',sans-serif" font-size="14.5" fill="#111">-</text><text x="341.90" y="441.35" font-family="'Liberation Sans','Noto Sans CJK SC','WenQuanYi Zen Hei',sans-serif" font-size="14.5" fill="#111">施药</text>
<rect x="271.6" y="452.70" width="24.9" height="14.4" rx="1.5" fill="url(#l2)" stroke="#1a9641" stroke-width="2"/>
<text x="304.5" y="464.7" font-family="'Liberation Sans','Noto Sans CJK SC','WenQuanYi Zen Hei',sans-serif" font-size="14.5" fill="#111">抗病</text><text transform="translate(331.90,464.7) scale(2.1,1)" font-family="'Liberation Sans','Noto Sans CJK SC','WenQuanYi Zen Hei',sans-serif" font-size="14.5" fill="#111">-</text><text x="341.90" y="464.7" font-family="'Liberation Sans','Noto Sans CJK SC','WenQuanYi Zen Hei',sans-serif" font-size="14.5" fill="#111">施药</text>
<g transform="translate(2.8,0)"><circle cx="110.6" cy="129.3" r="16.6" fill="#fff" stroke="#000" stroke-width="1.5"/><circle cx="110.6" cy="129.3" r="14.3" fill="none" stroke="#999" stroke-width="0.6"/><path d="M110.4,103 L94.6,146.2 L110.4,129.6 Z" fill="#8e93ba" stroke="#8e93ba" stroke-width="0.5"/><path d="M110.4,103 L127.1,146.0 L110.4,129.6 Z" fill="#a7acd7"/><path d="M110.4,103 L94.6,146.2 L110.4,129.6 L127.1,146.0 Z" fill="none" stroke="#000" stroke-width="1.6" stroke-linejoin="miter"/><text x="110.2" y="102.8" font-family="'Liberation Sans',Arial,sans-serif" font-size="14.5" fill="#8f99cc" text-anchor="middle">N</text></g>
<text x="340.4" y="111.7" font-family="'Liberation Serif','Times New Roman',serif" font-size="25.7" fill="#000">(C)</text>
<g><rect x="85.1" y="471.9" width="65.9" height="9.3" fill="#000" stroke="#333" stroke-width="0.8"/><rect x="151.0" y="471.9" width="65.5" height="9.3" fill="#fff" stroke="#333" stroke-width="0.8"/><text x="85.3" y="462.9" font-family="'Liberation Sans',Arial,sans-serif" font-size="12.6" fill="#1a1a1a" text-anchor="middle">0</text><text x="151.0" y="462.9" font-family="'Liberation Sans',Arial,sans-serif" font-size="12.6" fill="#1a1a1a" text-anchor="middle">50</text><text x="205.2" y="462.9" font-family="'Liberation Sans',Arial,sans-serif" font-size="12.6" fill="#1a1a1a">100 m</text></g>
<rect x="69.00" y="76.00" width="104.00" height="4.1" fill="#000"/>
<rect x="69.00" y="485.70" width="104.00" height="4.1" fill="#000"/>
<rect x="173.00" y="76.50" width="123.20" height="3.10" fill="#fff" stroke="#4a4a4a" stroke-width="1"/>
<rect x="173.00" y="486.20" width="123.20" height="3.10" fill="#fff" stroke="#4a4a4a" stroke-width="1"/>
<rect x="296.20" y="76.00" width="100.60" height="4.1" fill="#000"/>
<rect x="296.20" y="485.70" width="100.60" height="4.1" fill="#000"/>
<rect x="69.00" y="76.00" width="4.1" height="112.50" fill="#000"/>
<rect x="392.70" y="76.00" width="4.1" height="112.50" fill="#000"/>
<rect x="69.50" y="188.50" width="3.10" height="145.20" fill="#fff" stroke="#4a4a4a" stroke-width="1"/>
<rect x="393.20" y="188.50" width="3.10" height="145.20" fill="#fff" stroke="#4a4a4a" stroke-width="1"/>
<rect x="69.00" y="333.70" width="4.1" height="145.30" fill="#000"/>
<rect x="392.70" y="333.70" width="4.1" height="145.30" fill="#000"/>
<rect x="69.50" y="479.00" width="3.10" height="10.80" fill="#fff" stroke="#4a4a4a" stroke-width="1"/>
<rect x="393.20" y="479.00" width="3.10" height="10.80" fill="#fff" stroke="#4a4a4a" stroke-width="1"/>
<rect x="70.20" y="77.20" width="1.7" height="1.7" fill="#fff"/>
<rect x="393.90" y="77.20" width="1.7" height="1.7" fill="#fff"/>
<rect x="70.20" y="486.90" width="1.7" height="1.7" fill="#fff"/>
<rect x="393.90" y="486.90" width="1.7" height="1.7" fill="#fff"/>
<text x="173.2" y="70.7" textLength="63.5" font-family="'Liberation Serif','Times New Roman',serif" font-size="15.8" fill="#3a3a3a" text-anchor="middle" lengthAdjust="spacingAndGlyphs">121.077°E</text>
<text x="173.2" y="506.5" textLength="63.5" font-family="'Liberation Serif','Times New Roman',serif" font-size="15.8" fill="#3a3a3a" text-anchor="middle" lengthAdjust="spacingAndGlyphs">121.077°E</text>
<text x="296.4" y="70.7" textLength="63.5" font-family="'Liberation Serif','Times New Roman',serif" font-size="15.8" fill="#3a3a3a" text-anchor="middle" lengthAdjust="spacingAndGlyphs">121.078°E</text>
<text x="296.4" y="506.5" textLength="63.5" font-family="'Liberation Serif','Times New Roman',serif" font-size="15.8" fill="#3a3a3a" text-anchor="middle" lengthAdjust="spacingAndGlyphs">121.078°E</text>
<text transform="translate(63.3,188.9) rotate(-90)" x="0" y="0" textLength="57.2" font-family="'Liberation Serif','Times New Roman',serif" font-size="15.8" fill="#3a3a3a" text-anchor="middle" lengthAdjust="spacingAndGlyphs">32.120°N</text>
<text transform="translate(413.3,188.9) rotate(-90)" x="0" y="0" textLength="57.2" font-family="'Liberation Serif','Times New Roman',serif" font-size="15.8" fill="#3a3a3a" text-anchor="middle" lengthAdjust="spacingAndGlyphs">32.120°N</text>
<text transform="translate(63.3,334.09999999999997) rotate(-90)" x="0" y="0" textLength="56.7" font-family="'Liberation Serif','Times New Roman',serif" font-size="15.8" fill="#3a3a3a" text-anchor="middle" lengthAdjust="spacingAndGlyphs">32.119°N</text>
<text transform="translate(413.3,334.09999999999997) rotate(-90)" x="0" y="0" textLength="56.7" font-family="'Liberation Serif','Times New Roman',serif" font-size="15.8" fill="#3a3a3a" text-anchor="middle" lengthAdjust="spacingAndGlyphs">32.119°N</text>
<text transform="translate(63.3,479.4) rotate(-90)" x="0" y="0" textLength="56.7" font-family="'Liberation Serif','Times New Roman',serif" font-size="15.8" fill="#3a3a3a" text-anchor="middle" lengthAdjust="spacingAndGlyphs">32.118°N</text>
<text transform="translate(413.3,479.4) rotate(-90)" x="0" y="0" textLength="56.7" font-family="'Liberation Serif','Times New Roman',serif" font-size="15.8" fill="#3a3a3a" text-anchor="middle" lengthAdjust="spacingAndGlyphs">32.118°N</text>
</g>
<g transform="translate(0,463.8)">
<defs><path id="pD1" d="M239.4 104.8h0M244.0 107.4h0M230.3 105.0h0M280.8 133.0h0M294.5 140.6h0M299.1 143.1h0M308.3 148.2h0M322.1 155.8h0M331.2 160.9h0M335.8 163.5h0M340.4 166.0h0M345.0 168.6h0M349.6 171.1h0M354.2 173.6h0M225.8 107.7h0M368.4 207.5h0M199.4 155.4h0M195.0 163.3h0M190.6 171.3h0M337.5 257.9h0M186.2 179.2h0M333.0 260.6h0M328.5 263.3h0M333.1 265.8h0M181.8 187.1h0M319.5 268.7h0M324.1 271.2h0M328.7 273.8h0M324.2 276.5h0M319.7 279.2h0M315.2 281.9h0M319.8 284.4h0M173.2 218.8h0M177.8 221.3h0M182.4 223.9h0M187.0 226.4h0M191.6 228.9h0M310.9 295.1h0M164.2 218.9h0M173.3 224.0h0M177.9 226.6h0M182.5 229.1h0M187.1 231.6h0M191.7 234.2h0M196.3 236.7h0M200.9 239.3h0M205.5 241.8h0M210.0 244.4h0M214.6 246.9h0M219.2 249.4h0M223.8 252.0h0M228.4 254.5h0M233.0 257.1h0M237.6 259.6h0M242.1 262.2h0M246.7 264.7h0M251.3 267.2h0M255.9 269.8h0M260.5 272.3h0M265.1 274.9h0M274.3 280.0h0M278.8 282.5h0M306.4 297.8h0M187.2 236.9h0M191.8 239.4h0M196.4 242.0h0M205.5 247.1h0M210.1 249.6h0M214.7 252.1h0M219.3 254.7h0M228.5 259.8h0M233.1 262.3h0M237.7 264.9h0M242.2 267.4h0M246.8 269.9h0M251.4 272.5h0M256.0 275.0h0M260.6 277.6h0M265.2 280.1h0M269.8 282.7h0M274.4 285.2h0M278.9 287.7h0M283.5 290.3h0M288.1 292.8h0M292.7 295.4h0M297.3 297.9h0M301.9 300.5h0M196.5 247.2h0M201.0 249.8h0M205.6 252.3h0M210.2 254.8h0M214.8 257.4h0M219.4 259.9h0M224.0 262.5h0M228.6 265.0h0M233.2 267.6h0M237.7 270.1h0M242.3 272.6h0M246.9 275.2h0M251.5 277.7h0M256.1 280.3h0M260.7 282.8h0M265.3 285.4h0M269.9 287.9h0M274.4 290.4h0M279.0 293.0h0M283.6 295.5h0M288.2 298.1h0M292.8 300.6h0M297.4 303.2h0M302.0 305.7h0M192.0 249.9h0M196.6 252.5h0M201.1 255.0h0M205.7 257.5h0M210.3 260.1h0M214.9 262.6h0M219.5 265.2h0M224.1 267.7h0M228.7 270.3h0M233.2 272.8h0M237.8 275.3h0M242.4 277.9h0M247.0 280.4h0M251.6 283.0h0M256.2 285.5h0M260.8 288.1h0M265.4 290.6h0M269.9 293.1h0M274.5 295.7h0M279.1 298.2h0M283.7 300.8h0M288.3 303.3h0M292.9 305.9h0M297.5 308.4h0M192.1 255.2h0M196.6 257.7h0M201.2 260.2h0M205.8 262.8h0M210.4 265.3h0M215.0 267.9h0M219.6 270.4h0M224.2 273.0h0M228.8 275.5h0M233.3 278.0h0M237.9 280.6h0M242.5 283.1h0M247.1 285.7h0M251.7 288.2h0M256.3 290.8h0M260.9 293.3h0M265.5 295.8h0M270.0 298.4h0M274.6 300.9h0M279.2 303.5h0M283.8 306.0h0M288.4 308.6h0M293.0 311.1h0M187.6 257.9h0M192.1 260.4h0M196.7 263.0h0M201.3 265.5h0M205.9 268.0h0M210.5 270.6h0M215.1 273.1h0M219.7 275.7h0M224.3 278.2h0M228.8 280.8h0M233.4 283.3h0M238.0 285.8h0M242.6 288.4h0M247.2 290.9h0M251.8 293.5h0M256.4 296.0h0M261.0 298.6h0M265.5 301.1h0M270.1 303.6h0M274.7 306.2h0M279.3 308.7h0M283.9 311.3h0M288.5 313.8h0M293.1 316.4h0M187.7 263.1h0M192.2 265.7h0M196.8 268.2h0M201.4 270.7h0M206.0 273.3h0M210.6 275.8h0M215.2 278.4h0M219.8 280.9h0M224.3 283.5h0M228.9 286.0h0M233.5 288.5h0M238.1 291.1h0M242.7 293.6h0M247.3 296.2h0M251.9 298.7h0M256.5 301.3h0M261.0 303.8h0M265.6 306.3h0M270.2 308.9h0M274.8 311.4h0M279.4 314.0h0M284.0 316.5h0M288.6 319.1h0M183.2 265.8h0M187.7 268.4h0M192.3 270.9h0M196.9 273.4h0M201.5 276.0h0M206.1 278.5h0M210.7 281.1h0M215.3 283.6h0M219.9 286.2h0M224.4 288.7h0M229.0 291.2h0M233.6 293.8h0M238.2 296.3h0M242.8 298.9h0M247.4 301.4h0M252.0 304.0h0M256.6 306.5h0M261.1 309.0h0M265.7 311.6h0M270.3 314.1h0M274.9 316.7h0M279.5 319.2h0M284.1 321.8h0M288.7 324.3h0M187.8 273.6h0M192.4 276.1h0M197.0 278.7h0M201.6 281.2h0M206.2 283.8h0M210.8 286.3h0M215.4 288.9h0M219.9 291.4h0M224.5 293.9h0M229.1 296.5h0M233.7 299.0h0M238.3 301.6h0M242.9 304.1h0M247.5 306.7h0M252.1 309.2h0M256.6 311.7h0M261.2 314.3h0M265.8 316.8h0M270.4 319.4h0M275.0 321.9h0M279.6 324.5h0M284.2 327.0h0M288.8 329.5h0M178.8 273.8h0M183.3 276.3h0M187.9 278.8h0M197.1 283.9h0M201.7 286.5h0M206.3 289.0h0M210.9 291.6h0M215.4 294.1h0M220.0 296.6h0M224.6 299.2h0M229.2 301.7h0M233.8 304.3h0M238.4 306.8h0M243.0 309.4h0M247.6 311.9h0M252.1 314.4h0M256.7 317.0h0M261.3 319.5h0M265.9 322.1h0M270.5 324.6h0M275.1 327.2h0M279.7 329.7h0M284.3 332.2h0M288.8 334.8h0M151.3 263.7h0M155.9 266.3h0M160.5 268.8h0M165.1 271.4h0M174.3 276.5h0M183.4 281.5h0M188.0 284.1h0M197.2 289.2h0M201.8 291.7h0M206.4 294.3h0M215.5 299.3h0M220.1 301.9h0M224.7 304.4h0M229.3 307.0h0M233.9 309.5h0M238.5 312.1h0M243.1 314.6h0M247.7 317.1h0M252.2 319.7h0M256.8 322.2h0M261.4 324.8h0M266.0 327.3h0M270.6 329.9h0M275.2 332.4h0M279.8 334.9h0M284.4 337.5h0M142.2 263.9h0M146.8 266.4h0M151.4 269.0h0M156.0 271.5h0M160.6 274.1h0M165.2 276.6h0M169.8 279.2h0M178.9 284.2h0M183.5 286.8h0M188.1 289.3h0M192.7 291.9h0M197.3 294.4h0M201.9 297.0h0M206.5 299.5h0M211.0 302.0h0M215.6 304.6h0M220.2 307.1h0M224.8 309.7h0M229.4 312.2h0M234.0 314.8h0M238.6 317.3h0M243.2 319.8h0M247.7 322.4h0M252.3 324.9h0M256.9 327.5h0M261.5 330.0h0M270.7 335.1h0M275.3 337.6h0M279.9 340.2h0M284.4 342.7h0M137.7 266.6h0M146.9 271.7h0M151.5 274.2h0M156.1 276.8h0M160.7 279.3h0M165.3 281.9h0M169.9 284.4h0M174.4 286.9h0M179.0 289.5h0M183.6 292.0h0M188.2 294.6h0M192.8 297.1h0M197.4 299.7h0M206.5 304.7h0M211.1 307.3h0M215.7 309.8h0M220.3 312.4h0M224.9 314.9h0M229.5 317.5h0M234.1 320.0h0M238.7 322.5h0M243.2 325.1h0M247.8 327.6h0M252.4 330.2h0M257.0 332.7h0M261.6 335.3h0M137.8 271.8h0M142.4 274.4h0M147.0 276.9h0M151.6 279.5h0M156.2 282.0h0M160.8 284.6h0M169.9 289.6h0M174.5 292.2h0M179.1 294.7h0M183.7 297.3h0M188.3 299.8h0M192.9 302.4h0M197.5 304.9h0M202.1 307.4h0M206.6 310.0h0M211.2 312.5h0M215.8 315.1h0M220.4 317.6h0M225.0 320.2h0M229.6 322.7h0M234.2 325.2h0M238.8 327.8h0M243.3 330.3h0M247.9 332.9h0M252.5 335.4h0M257.1 338.0h0M261.7 340.5h0M147.1 282.2h0M151.7 284.7h0M156.3 287.3h0M160.9 289.8h0M165.4 292.3h0M170.0 294.9h0M174.6 297.4h0M179.2 300.0h0M183.8 302.5h0M188.4 305.1h0M193.0 307.6h0M197.6 310.1h0M202.1 312.7h0M206.7 315.2h0M211.3 317.8h0M215.9 320.3h0M220.5 322.9h0M225.1 325.4h0M229.7 327.9h0M234.3 330.5h0M238.8 333.0h0M243.4 335.6h0M248.0 338.1h0M252.6 340.7h0M257.2 343.2h0M161.0 295.1h0M165.5 297.6h0M170.1 300.1h0M174.7 302.7h0M179.3 305.2h0M183.9 307.8h0M188.5 310.3h0M193.1 312.9h0M197.6 315.4h0M202.2 317.9h0M206.8 320.5h0M211.4 323.0h0M216.0 325.6h0M220.6 328.1h0M225.2 330.7h0M229.8 333.2h0M234.3 335.7h0M238.9 338.3h0M243.5 340.8h0M248.1 343.4h0M252.7 345.9h0M257.3 348.4h0M161.0 300.3h0M165.6 302.8h0M170.2 305.4h0M174.8 307.9h0M179.4 310.5h0M184.0 313.0h0M188.6 315.6h0M193.2 318.1h0M197.7 320.6h0M202.3 323.2h0M211.5 328.3h0M216.1 330.8h0M220.7 333.4h0M225.3 335.9h0M229.9 338.4h0M234.4 341.0h0M239.0 343.5h0M243.6 346.1h0M248.2 348.6h0M252.8 351.2h0M161.1 305.5h0M165.7 308.1h0M170.3 310.6h0M174.9 313.2h0M179.5 315.7h0M184.1 318.3h0M188.7 320.8h0M193.2 323.3h0M197.8 325.9h0M202.4 328.4h0M207.0 331.0h0M211.6 333.5h0M216.2 336.1h0M220.8 338.6h0M225.4 341.1h0M229.9 343.7h0M234.5 346.2h0M239.1 348.8h0M243.7 351.3h0M248.3 353.9h0M252.9 356.4h0M156.6 308.2h0M161.2 310.8h0M165.8 313.3h0M170.4 315.9h0M175.0 318.4h0M179.6 321.0h0M184.2 323.5h0M188.7 326.0h0M193.3 328.6h0M197.9 331.1h0M202.5 333.7h0M207.1 336.2h0M211.7 338.8h0M216.3 341.3h0M220.9 343.8h0M225.4 346.4h0M230.0 348.9h0M234.6 351.5h0M239.2 354.0h0M243.8 356.6h0M129.2 298.2h0M133.8 300.8h0M138.4 303.3h0M143.0 305.9h0M147.6 308.4h0M152.1 310.9h0M156.7 313.5h0M161.3 316.0h0M165.9 318.6h0M170.5 321.1h0M175.1 323.7h0M179.7 326.2h0M184.3 328.7h0M188.8 331.3h0M193.4 333.8h0M198.0 336.4h0M202.6 338.9h0M207.2 341.5h0M211.8 344.0h0M216.4 346.5h0M221.0 349.1h0M225.5 351.6h0M230.1 354.2h0M234.7 356.7h0M239.3 359.3h0M124.7 300.9h0M133.9 306.0h0M138.5 308.6h0M143.1 311.1h0M147.6 313.6h0M152.2 316.2h0M156.8 318.7h0M161.4 321.3h0M166.0 323.8h0M170.6 326.4h0M175.2 328.9h0M179.8 331.4h0M184.3 334.0h0M188.9 336.5h0M193.5 339.1h0M198.1 341.6h0M202.7 344.2h0M207.3 346.7h0M211.9 349.2h0M216.5 351.8h0M221.0 354.3h0M225.6 356.9h0M230.2 359.4h0M234.8 362.0h0M239.4 364.5h0M244.0 367.0h0M129.4 308.7h0M134.0 311.3h0M138.6 313.8h0M143.1 316.3h0M147.7 318.9h0M152.3 321.4h0M156.9 324.0h0M161.5 326.5h0M166.1 329.1h0M170.7 331.6h0M175.3 334.1h0M179.8 336.7h0M184.4 339.2h0M189.0 341.8h0M193.6 344.3h0M198.2 346.9h0M202.8 349.4h0M207.4 351.9h0M212.0 354.5h0M216.5 357.0h0M221.1 359.6h0M225.7 362.1h0M230.3 364.7h0M234.9 367.2h0M239.5 369.7h0M244.1 372.3h0M248.7 374.8h0M253.2 377.4h0M257.8 379.9h0M124.9 311.4h0M129.5 314.0h0M134.1 316.5h0M138.7 319.0h0M143.2 321.6h0M152.4 326.7h0M157.0 329.2h0M166.2 334.3h0M170.8 336.8h0M175.4 339.4h0M184.5 344.5h0M189.1 347.0h0M193.7 349.6h0M198.3 352.1h0M202.9 354.6h0M207.5 357.2h0M212.1 359.7h0M216.6 362.3h0M221.2 364.8h0M225.8 367.4h0M230.4 369.9h0M235.0 372.4h0M239.6 375.0h0M244.2 377.5h0M248.8 380.1h0M253.3 382.6h0M257.9 385.2h0M120.4 314.1h0M129.6 319.2h0M138.7 324.3h0M143.3 326.8h0M152.5 331.9h0M157.1 334.5h0M166.3 339.5h0M170.9 342.1h0M175.4 344.6h0M180.0 347.2h0M184.6 349.7h0M193.8 354.8h0M198.4 357.3h0M203.0 359.9h0M207.6 362.4h0M212.1 365.0h0M216.7 367.5h0M221.3 370.1h0M225.9 372.6h0M230.5 375.1h0M235.1 377.7h0M239.7 380.2h0M244.3 382.8h0M248.8 385.3h0M253.4 387.9h0M115.9 316.8h0M120.5 319.4h0M129.7 324.4h0M134.2 327.0h0M138.8 329.5h0M148.0 334.6h0M152.6 337.2h0M157.2 339.7h0M161.8 342.2h0M166.4 344.8h0M175.5 349.9h0M180.1 352.4h0M184.7 355.0h0M189.3 357.5h0M193.9 360.0h0M198.5 362.6h0M203.1 365.1h0M207.6 367.7h0M212.2 370.2h0M216.8 372.8h0M221.4 375.3h0M226.0 377.8h0M230.6 380.4h0M235.2 382.9h0M239.8 385.5h0M244.3 388.0h0M248.9 390.6h0M116.0 322.1h0M120.6 324.6h0M125.2 327.1h0M129.8 329.7h0M134.3 332.2h0M138.9 334.8h0M143.5 337.3h0M148.1 339.9h0M152.7 342.4h0M157.3 344.9h0M161.9 347.5h0M166.5 350.0h0M175.6 355.1h0M180.2 357.7h0M184.8 360.2h0M189.4 362.7h0M194.0 365.3h0M198.6 367.8h0M203.2 370.4h0M207.7 372.9h0M212.3 375.5h0M216.9 378.0h0M221.5 380.5h0M226.1 383.1h0M230.7 385.6h0M235.3 388.2h0M239.9 390.7h0M244.4 393.3h0M249.0 395.8h0M116.1 327.3h0M125.3 332.4h0M129.8 334.9h0M134.4 337.5h0M139.0 340.0h0M143.6 342.6h0M148.2 345.1h0M152.8 347.7h0M157.4 350.2h0M162.0 352.7h0M166.5 355.3h0M171.1 357.8h0M175.7 360.4h0M180.3 362.9h0M189.5 368.0h0M194.1 370.5h0M198.7 373.1h0M203.2 375.6h0M207.8 378.2h0M212.4 380.7h0M217.0 383.3h0M221.6 385.8h0M226.2 388.3h0M230.8 390.9h0M235.4 393.4h0M239.9 396.0h0M244.5 398.5h0M116.2 332.6h0M120.8 335.1h0M125.3 337.6h0M129.9 340.2h0M139.1 345.3h0M143.7 347.8h0M148.3 350.4h0M152.9 352.9h0M157.5 355.4h0M162.0 358.0h0M166.6 360.5h0M171.2 363.1h0M175.8 365.6h0M180.4 368.2h0M185.0 370.7h0M189.6 373.2h0M194.2 375.8h0M198.7 378.3h0M203.3 380.9h0M207.9 383.4h0M212.5 386.0h0M217.1 388.5h0M221.7 391.0h0M226.3 393.6h0M230.9 396.1h0M235.4 398.7h0M240.0 401.2h0M244.6 403.8h0M111.7 335.3h0M116.3 337.8h0M120.9 340.3h0M125.4 342.9h0M130.0 345.4h0M134.6 348.0h0M139.2 350.5h0M143.8 353.1h0M148.4 355.6h0M153.0 358.1h0M157.6 360.7h0M162.1 363.2h0M166.7 365.8h0M175.9 370.9h0M180.5 373.4h0M185.1 375.9h0M189.7 378.5h0M194.3 381.0h0M198.8 383.6h0M203.4 386.1h0M208.0 388.7h0M212.6 391.2h0M217.2 393.7h0M221.8 396.3h0M226.4 398.8h0M231.0 401.4h0M240.1 406.5h0M107.2 338.0h0M111.8 340.5h0M116.4 343.0h0M120.9 345.6h0M125.5 348.1h0M130.1 350.7h0M134.7 353.2h0M139.3 355.8h0M143.9 358.3h0M148.5 360.8h0M153.1 363.4h0M157.6 365.9h0M162.2 368.5h0M166.8 371.0h0M171.4 373.6h0M176.0 376.1h0M180.6 378.6h0M189.8 383.7h0M194.3 386.3h0M198.9 388.8h0M203.5 391.4h0M208.1 393.9h0M212.7 396.4h0M217.3 399.0h0M221.9 401.5h0M226.5 404.1h0M231.0 406.6h0M235.6 409.2h0M240.2 411.7h0M102.7 340.7h0M107.3 343.2h0M111.9 345.7h0M116.4 348.3h0M121.0 350.8h0M125.6 353.4h0M130.2 355.9h0M134.8 358.5h0M139.4 361.0h0M144.0 363.5h0M148.6 366.1h0M153.1 368.6h0M157.7 371.2h0M162.3 373.7h0M166.9 376.3h0M171.5 378.8h0M176.1 381.3h0M180.7 383.9h0M189.8 389.0h0M194.4 391.5h0M199.0 394.1h0M203.6 396.6h0M208.2 399.1h0M212.8 401.7h0M217.4 404.2h0M222.0 406.8h0M226.5 409.3h0M231.1 411.9h0M235.7 414.4h0M102.8 345.9h0M107.4 348.4h0M112.0 351.0h0M116.5 353.5h0M121.1 356.1h0M125.7 358.6h0M130.3 361.2h0M134.9 363.7h0M139.5 366.2h0M144.1 368.8h0M148.7 371.3h0M153.2 373.9h0M157.8 376.4h0M162.4 379.0h0M167.0 381.5h0M171.6 384.0h0M176.2 386.6h0M180.8 389.1h0M185.4 391.7h0M189.9 394.2h0M194.5 396.8h0M199.1 399.3h0M203.7 401.8h0M208.3 404.4h0M212.9 406.9h0M217.5 409.5h0M226.6 414.6h0M231.2 417.1h0M98.3 348.6h0M102.9 351.1h0M107.5 353.7h0M112.0 356.2h0M125.8 363.9h0M130.4 366.4h0M135.0 368.9h0M139.6 371.5h0M144.2 374.0h0M148.7 376.6h0M153.3 379.1h0M157.9 381.7h0M162.5 384.2h0M167.1 386.7h0M171.7 389.3h0M176.3 391.8h0M180.9 394.4h0M185.4 396.9h0M190.0 399.5h0M194.6 402.0h0M199.2 404.5h0M203.8 407.1h0M208.4 409.6h0M213.0 412.2h0M217.6 414.7h0M222.1 417.3h0M226.7 419.8h0M231.3 422.3h0M98.4 353.8h0M103.0 356.4h0M121.3 366.6h0M125.9 369.1h0M130.5 371.6h0M135.1 374.2h0M139.7 376.7h0M144.2 379.3h0M148.8 381.8h0M153.4 384.4h0M158.0 386.9h0M162.6 389.4h0M167.2 392.0h0M171.8 394.5h0M176.4 397.1h0M180.9 399.6h0M185.5 402.2h0M190.1 404.7h0M194.7 407.2h0M199.3 409.8h0M203.9 412.3h0M208.5 414.9h0M213.1 417.4h0M217.6 420.0h0M222.2 422.5h0M226.8 425.0h0M116.8 369.3h0M121.4 371.8h0M126.0 374.3h0M130.6 376.9h0M135.2 379.4h0M139.8 382.0h0M144.3 384.5h0M148.9 387.1h0M153.5 389.6h0M158.1 392.1h0M162.7 394.7h0M167.3 397.2h0M171.9 399.8h0M176.5 402.3h0M181.0 404.9h0M185.6 407.4h0M190.2 409.9h0M194.8 412.5h0M199.4 415.0h0M204.0 417.6h0M208.6 420.1h0M213.2 422.7h0M217.7 425.2h0M222.3 427.7h0M226.9 430.3h0M112.3 372.0h0M116.9 374.5h0M121.5 377.0h0M126.1 379.6h0M135.3 384.7h0M144.4 389.8h0M149.0 392.3h0M153.6 394.8h0M158.2 397.4h0M162.8 399.9h0M167.4 402.5h0M172.0 405.0h0M176.5 407.6h0M181.1 410.1h0M185.7 412.6h0M190.3 415.2h0M194.9 417.7h0M199.5 420.3h0M204.1 422.8h0M208.7 425.4h0M213.2 427.9h0M217.8 430.4h0M222.4 433.0h0M94.1 367.0h0M98.6 369.6h0M117.0 379.8h0M121.6 382.3h0M144.5 395.0h0M149.1 397.6h0M158.3 402.6h0M162.9 405.2h0M167.5 407.7h0M172.0 410.3h0M176.6 412.8h0M181.2 415.4h0M185.8 417.9h0M190.4 420.4h0M195.0 423.0h0M199.6 425.5h0M204.2 428.1h0M208.7 430.6h0M213.3 433.1h0M217.9 435.7h0M222.5 438.2h0M98.7 374.8h0M103.3 377.4h0M107.9 379.9h0M112.5 382.5h0M117.1 385.0h0M121.7 387.5h0M144.6 400.3h0M149.2 402.8h0M176.7 418.1h0M181.3 420.6h0M185.9 423.1h0M190.5 425.7h0M199.7 430.8h0M204.3 433.3h0M208.8 435.9h0M213.4 438.4h0M149.3 408.0h0M153.9 410.6h0M158.5 413.1h0M163.1 415.7h0M172.2 420.8h0M176.8 423.3h0M181.4 425.8h0M186.0 428.4h0M195.2 433.5h0M199.8 436.0h0M204.3 438.6h0M208.9 441.1h0M213.5 443.6h0M218.1 446.2h0M204.4 443.8h0M209.0 446.3h0"/><path id="pD2" d="M267.0 125.3h0M285.4 135.5h0M290.0 138.0h0M303.7 145.7h0M312.9 150.8h0M340.5 171.3h0M368.0 186.5h0M221.4 115.6h0M372.8 199.6h0M221.5 120.9h0M217.0 123.6h0M212.6 131.5h0M359.4 212.9h0M364.0 215.4h0M249.4 157.1h0M208.2 139.5h0M359.6 223.4h0M203.8 147.4h0M203.9 152.7h0M208.5 155.2h0M204.0 157.9h0M208.6 160.5h0M350.8 239.3h0M199.5 160.6h0M236.2 181.0h0M250.0 193.8h0M268.4 204.0h0M195.1 168.6h0M337.3 247.4h0M341.9 249.9h0M337.4 252.6h0M268.7 219.7h0M332.9 255.3h0M190.8 181.7h0M186.3 184.4h0M200.0 192.1h0M236.7 212.4h0M186.4 189.7h0M195.5 194.8h0M328.6 268.5h0M195.6 200.0h0M315.0 271.4h0M319.6 273.9h0M315.1 276.6h0M310.7 284.6h0M315.3 287.1h0M310.8 289.8h0M168.7 216.2h0M196.2 231.5h0M168.8 221.5h0M269.7 277.4h0M288.0 287.6h0M297.2 292.7h0M301.8 295.2h0M223.9 257.2h0M306.5 303.0h0M306.6 308.2h0M192.5 281.4h0M178.8 279.0h0M192.6 286.6h0M211.0 296.8h0M142.3 269.1h0M165.4 287.1h0M129.3 303.5h0M124.8 306.2h0M120.3 308.9h0M147.8 324.1h0M143.4 332.1h0M171.0 352.6h0M120.7 329.9h0M107.1 332.7h0M185.3 386.4h0M222.1 412.0h0M107.5 358.9h0M93.9 356.5h0M98.5 359.1h0M103.1 361.6h0M107.6 364.2h0M112.2 366.7h0M94.0 361.8h0M98.6 364.3h0M103.1 366.9h0M89.5 364.5h0M107.8 374.7h0M130.8 387.4h0M153.7 400.1h0M130.9 392.6h0M135.4 395.2h0M158.4 407.9h0M163.0 410.4h0M218.0 440.9h0M190.6 430.9h0"/><path id="pD3" d="M239.5 110.1h0M244.1 112.6h0M248.7 115.2h0M253.3 117.7h0M257.8 120.2h0M262.4 122.8h0M271.6 127.9h0M276.2 130.4h0M317.5 153.3h0M326.7 158.4h0M230.4 110.2h0M244.2 117.9h0M248.8 120.4h0M253.3 122.9h0M257.9 125.5h0M262.5 128.0h0M267.1 130.6h0M271.7 133.1h0M276.3 135.7h0M280.9 138.2h0M290.0 143.3h0M294.6 145.8h0M299.2 148.4h0M303.8 150.9h0M308.4 153.5h0M313.0 156.0h0M322.2 161.1h0M326.7 163.6h0M331.3 166.2h0M335.9 168.7h0M345.1 173.8h0M349.7 176.3h0M354.3 178.9h0M363.4 184.0h0M372.6 189.1h0M225.9 112.9h0M244.3 123.1h0M248.9 125.7h0M253.4 128.2h0M258.0 130.7h0M262.6 133.3h0M267.2 135.8h0M271.8 138.4h0M281.0 143.5h0M285.6 146.0h0M294.7 151.1h0M303.9 156.2h0M313.1 161.3h0M317.7 163.8h0M331.4 171.4h0M336.0 174.0h0M340.6 176.5h0M345.2 179.0h0M349.8 181.6h0M363.5 189.2h0M368.1 191.8h0M372.7 194.3h0M230.6 120.7h0M244.4 128.4h0M248.9 130.9h0M258.1 136.0h0M267.3 141.1h0M276.5 146.2h0M281.1 148.7h0M317.8 169.0h0M340.7 181.8h0M349.9 186.8h0M363.6 194.5h0M368.2 197.0h0M226.1 123.4h0M230.7 126.0h0M235.3 128.5h0M239.9 131.1h0M244.4 133.6h0M249.0 136.1h0M258.2 141.2h0M262.8 143.8h0M267.4 146.3h0M272.0 148.9h0M276.6 151.4h0M281.1 153.9h0M290.3 159.0h0M354.5 194.6h0M368.3 202.3h0M221.6 126.1h0M226.2 128.7h0M230.8 131.2h0M235.4 133.8h0M244.5 138.8h0M253.7 143.9h0M258.3 146.5h0M262.9 149.0h0M267.5 151.6h0M281.2 159.2h0M290.4 164.3h0M295.0 166.8h0M317.9 179.5h0M322.5 182.1h0M327.1 184.6h0M331.7 187.2h0M336.3 189.7h0M340.9 192.2h0M345.5 194.8h0M354.6 199.9h0M359.2 202.4h0M363.8 205.0h0M217.1 128.8h0M221.7 131.4h0M226.3 133.9h0M235.5 139.0h0M249.2 146.6h0M253.8 149.2h0M267.6 156.8h0M272.2 159.3h0M281.3 164.4h0M285.9 167.0h0M295.1 172.1h0M304.3 177.1h0M313.4 182.2h0M318.0 184.8h0M327.2 189.9h0M331.8 192.4h0M341.0 197.5h0M345.6 200.0h0M359.3 207.7h0M363.9 210.2h0M217.2 134.1h0M221.8 136.6h0M226.4 139.2h0M231.0 141.7h0M235.5 144.2h0M240.1 146.8h0M244.7 149.3h0M249.3 151.9h0M253.9 154.4h0M286.0 172.2h0M313.5 187.5h0M318.1 190.0h0M354.8 210.4h0M212.7 136.8h0M217.3 139.3h0M221.9 141.9h0M226.5 144.4h0M231.1 146.9h0M235.6 149.5h0M240.2 152.0h0M244.8 154.6h0M254.0 159.7h0M258.6 162.2h0M263.2 164.7h0M267.8 167.3h0M272.3 169.8h0M276.9 172.4h0M281.5 174.9h0M286.1 177.5h0M290.7 180.0h0M295.3 182.5h0M309.0 190.2h0M318.2 195.3h0M322.8 197.8h0M327.4 200.3h0M332.0 202.9h0M336.6 205.4h0M341.2 208.0h0M350.3 213.1h0M354.9 215.6h0M359.5 218.1h0M222.0 147.1h0M231.1 152.2h0M235.7 154.7h0M244.9 159.8h0M249.5 162.4h0M254.1 164.9h0M263.3 170.0h0M267.8 172.5h0M272.4 175.1h0M277.0 177.6h0M281.6 180.2h0M286.2 182.7h0M290.8 185.2h0M295.4 187.8h0M300.0 190.3h0M304.5 192.9h0M309.1 195.4h0M313.7 198.0h0M318.3 200.5h0M322.9 203.0h0M327.5 205.6h0M332.1 208.1h0M336.7 210.7h0M341.2 213.2h0M345.8 215.8h0M350.4 218.3h0M355.0 220.8h0M208.3 144.7h0M212.9 147.3h0M217.5 149.8h0M235.8 160.0h0M240.4 162.5h0M249.6 167.6h0M254.2 170.1h0M263.3 175.2h0M267.9 177.8h0M272.5 180.3h0M277.1 182.9h0M286.3 187.9h0M295.5 193.0h0M300.0 195.6h0M304.6 198.1h0M309.2 200.7h0M318.4 205.7h0M323.0 208.3h0M327.6 210.8h0M332.2 213.4h0M336.7 215.9h0M341.3 218.5h0M350.5 223.5h0M355.1 226.1h0M208.4 150.0h0M213.0 152.5h0M217.6 155.0h0M222.2 157.6h0M231.3 162.7h0M235.9 165.2h0M245.1 170.3h0M254.3 175.4h0M268.0 183.0h0M277.2 188.1h0M281.8 190.6h0M318.5 211.0h0M323.1 213.5h0M327.7 216.1h0M332.2 218.6h0M336.8 221.2h0M341.4 223.7h0M346.0 226.2h0M350.6 228.8h0M355.2 231.3h0M213.1 157.7h0M217.7 160.3h0M226.8 165.4h0M231.4 167.9h0M236.0 170.5h0M240.6 173.0h0M254.4 180.6h0M268.1 188.3h0M295.6 203.5h0M318.6 216.2h0M323.2 218.8h0M327.8 221.3h0M332.3 223.9h0M336.9 226.4h0M341.5 228.9h0M346.1 231.5h0M350.7 234.0h0M213.2 163.0h0M217.7 165.5h0M222.3 168.1h0M226.9 170.6h0M231.5 173.2h0M236.1 175.7h0M240.7 178.3h0M245.3 180.8h0M259.0 188.4h0M314.1 218.9h0M318.7 221.5h0M323.3 224.0h0M327.8 226.6h0M332.4 229.1h0M337.0 231.7h0M341.6 234.2h0M346.2 236.7h0M204.1 163.2h0M208.7 165.7h0M213.3 168.2h0M217.8 170.8h0M222.4 173.3h0M227.0 175.9h0M231.6 178.4h0M240.8 183.5h0M245.4 186.0h0M250.0 188.6h0M254.5 191.1h0M259.1 193.7h0M263.7 196.2h0M268.3 198.8h0M272.9 201.3h0M277.5 203.8h0M282.1 206.4h0M286.7 208.9h0M291.2 211.5h0M305.0 219.1h0M309.6 221.6h0M314.2 224.2h0M318.8 226.7h0M323.3 229.3h0M327.9 231.8h0M332.5 234.4h0M337.1 236.9h0M341.7 239.4h0M346.3 242.0h0M199.6 165.9h0M204.2 168.4h0M213.3 173.5h0M217.9 176.0h0M222.5 178.6h0M227.1 181.1h0M231.7 183.7h0M236.3 186.2h0M240.9 188.7h0M245.5 191.3h0M254.6 196.4h0M259.2 198.9h0M263.8 201.5h0M273.0 206.5h0M277.6 209.1h0M282.2 211.6h0M286.7 214.2h0M291.3 216.7h0M295.9 219.3h0M300.5 221.8h0M305.1 224.3h0M309.7 226.9h0M314.3 229.4h0M318.9 232.0h0M323.4 234.5h0M328.0 237.1h0M332.6 239.6h0M337.2 242.1h0M341.8 244.7h0M346.4 247.2h0M199.7 171.1h0M208.8 176.2h0M218.0 181.3h0M227.2 186.4h0M231.8 188.9h0M236.4 191.4h0M250.1 199.1h0M254.7 201.6h0M259.3 204.2h0M263.9 206.7h0M268.5 209.2h0M273.1 211.8h0M277.7 214.3h0M282.2 216.9h0M286.8 219.4h0M291.4 222.0h0M296.0 224.5h0M300.6 227.0h0M305.2 229.6h0M309.8 232.1h0M314.4 234.7h0M318.9 237.2h0M323.5 239.8h0M332.7 244.8h0M195.2 173.8h0M199.8 176.3h0M204.4 178.9h0M208.9 181.4h0M213.5 184.0h0M218.1 186.5h0M222.7 189.1h0M231.9 194.1h0M236.5 196.7h0M241.1 199.2h0M245.6 201.8h0M250.2 204.3h0M254.8 206.9h0M259.4 209.4h0M264.0 211.9h0M268.6 214.5h0M273.2 217.0h0M277.8 219.6h0M282.3 222.1h0M296.1 229.7h0M300.7 232.3h0M305.3 234.8h0M309.9 237.4h0M314.4 239.9h0M319.0 242.5h0M323.6 245.0h0M328.2 247.5h0M332.8 250.1h0M190.7 176.5h0M195.3 179.0h0M199.9 181.6h0M204.4 184.1h0M209.0 186.7h0M213.6 189.2h0M218.2 191.8h0M222.8 194.3h0M227.4 196.8h0M232.0 199.4h0M236.6 201.9h0M241.1 204.5h0M245.7 207.0h0M250.3 209.6h0M254.9 212.1h0M259.5 214.6h0M264.1 217.2h0M273.3 222.3h0M277.8 224.8h0M282.4 227.4h0M287.0 229.9h0M291.6 232.4h0M296.2 235.0h0M300.8 237.5h0M305.4 240.1h0M310.0 242.6h0M314.5 245.2h0M319.1 247.7h0M328.3 252.8h0M195.4 184.3h0M199.9 186.8h0M204.5 189.4h0M213.7 194.5h0M218.3 197.0h0M222.9 199.5h0M227.5 202.1h0M241.2 209.7h0M245.8 212.3h0M250.4 214.8h0M255.0 217.3h0M259.6 219.9h0M264.2 222.4h0M268.8 225.0h0M273.3 227.5h0M277.9 230.1h0M282.5 232.6h0M287.1 235.1h0M291.7 237.7h0M296.3 240.2h0M300.9 242.8h0M305.5 245.3h0M310.0 247.9h0M314.6 250.4h0M319.2 252.9h0M328.4 258.0h0M190.9 187.0h0M195.5 189.5h0M204.6 194.6h0M209.2 197.2h0M213.8 199.7h0M223.0 204.8h0M227.6 207.3h0M232.2 209.9h0M241.3 215.0h0M245.9 217.5h0M250.5 220.0h0M255.1 222.6h0M259.7 225.1h0M264.3 227.7h0M268.9 230.2h0M273.4 232.8h0M278.0 235.3h0M287.2 240.4h0M291.8 242.9h0M296.4 245.5h0M301.0 248.0h0M305.5 250.6h0M310.1 253.1h0M314.7 255.6h0M319.3 258.2h0M200.1 197.3h0M204.7 199.9h0M209.3 202.4h0M213.9 204.9h0M218.5 207.5h0M223.1 210.0h0M227.7 212.6h0M232.2 215.1h0M236.8 217.7h0M241.4 220.2h0M246.0 222.7h0M255.2 227.8h0M259.8 230.4h0M264.4 232.9h0M268.9 235.5h0M273.5 238.0h0M278.1 240.5h0M287.3 245.6h0M291.9 248.2h0M296.5 250.7h0M301.1 253.3h0M305.6 255.8h0M310.2 258.3h0M314.8 260.9h0M319.4 263.4h0M324.0 266.0h0M181.9 192.4h0M186.5 194.9h0M191.0 197.5h0M200.2 202.6h0M209.4 207.6h0M214.0 210.2h0M218.6 212.7h0M223.2 215.3h0M227.7 217.8h0M236.9 222.9h0M241.5 225.4h0M246.1 228.0h0M250.7 230.5h0M255.3 233.1h0M264.4 238.2h0M269.0 240.7h0M273.6 243.2h0M278.2 245.8h0M282.8 248.3h0M287.4 250.9h0M292.0 253.4h0M296.6 256.0h0M301.1 258.5h0M305.7 261.0h0M310.3 263.6h0M314.9 266.1h0M182.0 197.6h0M186.6 200.2h0M191.1 202.7h0M204.9 210.4h0M209.5 212.9h0M214.1 215.4h0M218.7 218.0h0M223.3 220.5h0M227.8 223.1h0M232.4 225.6h0M237.0 228.2h0M246.2 233.2h0M250.8 235.8h0M260.0 240.9h0M264.5 243.4h0M269.1 246.0h0M278.3 251.0h0M282.9 253.6h0M287.5 256.1h0M292.1 258.7h0M296.6 261.2h0M301.2 263.7h0M305.8 266.3h0M310.4 268.8h0M177.5 200.3h0M182.1 202.9h0M186.6 205.4h0M191.2 208.0h0M195.8 210.5h0M205.0 215.6h0M214.2 220.7h0M223.3 225.8h0M232.5 230.9h0M250.9 241.0h0M264.6 248.7h0M269.2 251.2h0M273.8 253.7h0M278.4 256.3h0M283.0 258.8h0M287.6 261.4h0M292.2 263.9h0M296.7 266.5h0M301.3 269.0h0M305.9 271.5h0M310.5 274.1h0M182.1 208.1h0M191.3 213.2h0M200.5 218.3h0M209.7 223.4h0M214.3 225.9h0M218.8 228.5h0M223.4 231.0h0M232.6 236.1h0M264.7 253.9h0M269.3 256.4h0M273.9 259.0h0M278.5 261.5h0M283.1 264.1h0M287.7 266.6h0M301.4 274.2h0M306.0 276.8h0M310.6 279.3h0M173.1 208.3h0M177.7 210.8h0M182.2 213.4h0M186.8 215.9h0M214.4 231.2h0M218.9 233.7h0M223.5 236.3h0M228.1 238.8h0M232.7 241.3h0M237.3 243.9h0M241.9 246.4h0M246.5 249.0h0M255.6 254.1h0M274.0 264.2h0M278.6 266.8h0M283.2 269.3h0M287.7 271.9h0M292.3 274.4h0M296.9 276.9h0M301.5 279.5h0M306.1 282.0h0M173.2 213.5h0M177.7 216.1h0M182.3 218.6h0M186.9 221.2h0M191.5 223.7h0M214.4 236.4h0M242.0 251.7h0M255.7 259.3h0M260.3 261.8h0M264.9 264.4h0M274.1 269.5h0M278.7 272.0h0M283.3 274.6h0M287.8 277.1h0M292.4 279.6h0M297.0 282.2h0M301.6 284.7h0M306.2 287.3h0M315.4 292.4h0M200.8 234.0h0M205.4 236.6h0M209.9 239.1h0M214.5 241.7h0M223.7 246.7h0M228.3 249.3h0M232.9 251.8h0M237.5 254.4h0M242.1 256.9h0M251.2 262.0h0M255.8 264.5h0M265.0 269.6h0M274.2 274.7h0M278.8 277.3h0M283.3 279.8h0M287.9 282.3h0M292.5 284.9h0M297.1 287.4h0M301.7 290.0h0M306.3 292.5h0M283.4 285.0h0M292.6 290.1h0M311.0 300.3h0M201.0 244.5h0M302.1 310.9h0M297.6 313.6h0M297.7 318.9h0M293.2 321.6h0M293.3 326.8h0M174.3 281.7h0M266.1 332.6h0M202.0 302.2h0M206.9 325.7h0M248.4 359.1h0M243.9 361.8h0M248.5 364.3h0M161.6 331.8h0M179.9 341.9h0M125.0 316.7h0M134.2 321.7h0M147.9 329.4h0M161.7 337.0h0M189.2 352.3h0M125.1 321.9h0M170.9 347.3h0M111.5 324.8h0M184.9 365.5h0M111.6 330.0h0M134.5 342.7h0M235.5 403.9h0M185.2 381.2h0M116.6 358.8h0M121.2 361.3h0M112.1 361.5h0M116.7 364.0h0M107.7 369.4h0M130.7 382.1h0M139.8 387.2h0M103.2 372.1h0M112.4 377.2h0M126.2 384.8h0M135.3 389.9h0M139.9 392.5h0M126.3 390.1h0M140.0 397.7h0M167.6 413.0h0M172.1 415.5h0M195.1 428.2h0M167.6 418.2h0"/><path id="pD4" d="M234.9 107.5h0M235.0 112.8h0M239.6 115.3h0M285.5 140.7h0M317.6 158.5h0M358.9 181.4h0M230.5 115.5h0M239.7 120.6h0M276.4 140.9h0M290.1 148.5h0M299.3 153.6h0M308.5 158.7h0M322.3 166.3h0M326.8 168.9h0M354.4 184.1h0M359.0 186.7h0M226.0 118.2h0M235.2 123.3h0M239.8 125.8h0M253.5 133.4h0M262.7 138.5h0M271.9 143.6h0M285.6 151.2h0M290.2 153.8h0M294.8 156.3h0M299.4 158.9h0M304.0 161.4h0M308.6 164.0h0M322.3 171.6h0M326.9 174.1h0M331.5 176.7h0M336.1 179.2h0M345.3 184.3h0M354.5 189.4h0M359.0 191.9h0M253.6 138.7h0M285.7 156.5h0M294.9 161.6h0M299.5 164.1h0M304.1 166.7h0M308.7 169.2h0M313.3 171.7h0M317.8 174.3h0M322.4 176.8h0M327.0 179.4h0M331.6 181.9h0M336.2 184.5h0M340.8 187.0h0M345.4 189.5h0M350.0 192.1h0M359.1 197.2h0M363.7 199.7h0M240.0 136.3h0M249.1 141.4h0M272.1 154.1h0M276.7 156.6h0M285.8 161.7h0M299.6 169.4h0M304.2 171.9h0M308.8 174.4h0M313.4 177.0h0M350.1 197.3h0M230.9 136.5h0M240.0 141.5h0M244.6 144.1h0M258.4 151.7h0M263.0 154.3h0M276.7 161.9h0M290.5 169.5h0M299.7 174.6h0M308.9 179.7h0M322.6 187.3h0M336.4 194.9h0M350.1 202.6h0M354.7 205.1h0M258.5 157.0h0M263.1 159.5h0M267.7 162.0h0M272.2 164.6h0M281.4 169.7h0M290.6 174.8h0M295.2 177.3h0M299.8 179.8h0M304.4 182.4h0M308.9 184.9h0M322.7 192.6h0M327.3 195.1h0M331.9 197.6h0M336.5 200.2h0M341.1 202.7h0M345.6 205.3h0M350.2 207.8h0M299.9 185.1h0M304.5 187.6h0M313.6 192.7h0M345.7 210.5h0M212.8 142.0h0M217.4 144.6h0M226.6 149.6h0M240.3 157.3h0M258.7 167.4h0M226.6 154.9h0M231.2 157.4h0M245.0 165.1h0M258.8 172.7h0M281.7 185.4h0M290.9 190.5h0M313.8 203.2h0M345.9 221.0h0M226.7 160.1h0M240.5 167.8h0M249.7 172.8h0M258.9 177.9h0M263.4 180.5h0M272.6 185.6h0M286.4 193.2h0M291.0 195.7h0M295.6 198.3h0M300.1 200.8h0M304.7 203.4h0M309.3 205.9h0M313.9 208.4h0M222.2 162.8h0M245.2 175.5h0M249.8 178.1h0M258.9 183.2h0M263.5 185.7h0M272.7 190.8h0M277.3 193.3h0M281.9 195.9h0M286.5 198.4h0M291.1 201.0h0M300.2 206.1h0M304.8 208.6h0M309.4 211.1h0M314.0 213.7h0M249.9 183.3h0M254.4 185.9h0M263.6 191.0h0M268.2 193.5h0M272.8 196.1h0M277.4 198.6h0M282.0 201.1h0M286.6 203.7h0M291.1 206.2h0M300.3 211.3h0M304.9 213.9h0M309.5 216.4h0M295.8 214.0h0M300.4 216.6h0M208.8 170.9h0M204.3 173.6h0M213.4 178.7h0M222.6 183.8h0M241.0 194.0h0M245.5 196.5h0M328.1 242.3h0M227.3 191.6h0M286.9 224.7h0M291.5 227.2h0M323.7 250.2h0M209.1 191.9h0M232.1 204.6h0M236.6 207.2h0M323.8 255.5h0M218.4 202.2h0M282.6 237.8h0M323.9 260.7h0M191.0 192.2h0M250.6 225.3h0M282.7 243.1h0M204.8 205.1h0M232.3 220.4h0M259.9 235.6h0M195.7 205.3h0M200.3 207.8h0M241.6 230.7h0M255.4 238.3h0M273.7 248.5h0M200.4 213.1h0M209.6 218.1h0M218.8 223.2h0M227.9 228.3h0M237.1 233.4h0M241.7 235.9h0M246.3 238.5h0M255.5 243.6h0M260.0 246.1h0M177.6 205.6h0M186.7 210.7h0M195.9 215.8h0M205.1 220.8h0M228.0 233.6h0M237.2 238.6h0M241.8 241.2h0M246.4 243.7h0M251.0 246.3h0M255.5 248.8h0M260.1 251.4h0M292.2 269.2h0M296.8 271.7h0M191.4 218.5h0M196.0 221.0h0M200.6 223.5h0M205.2 226.1h0M209.8 228.6h0M251.1 251.5h0M260.2 256.6h0M264.8 259.1h0M269.4 261.7h0M196.1 226.2h0M200.7 228.8h0M205.3 231.3h0M209.9 233.9h0M219.0 239.0h0M223.6 241.5h0M228.2 244.0h0M232.8 246.6h0M237.4 249.1h0M246.6 254.2h0M251.1 256.8h0M269.5 266.9h0M219.1 244.2h0M246.6 259.5h0M260.4 267.1h0M269.6 272.2h0M171.3 368.3h0M153.8 405.3h0M213.6 448.9h0"/><path id="pD5" d="M235.1 118.0h0M313.2 166.5h0M276.8 167.1h0M222.1 152.3h0M295.7 208.8h0"/></defs><g fill="none" stroke-width="6.0" stroke-linecap="round"><use href="#pD1" stroke="#97d8a8"/><use href="#pD2" stroke="#d3ecb4"/><use href="#pD3" stroke="#fff3c8"/><use href="#pD4" stroke="#fdd3aa"/><use href="#pD5" stroke="#ee9a98"/></g><g fill="none" stroke-width="4.4" stroke-linecap="round"><use href="#pD1" stroke="#21a04b"/><use href="#pD2" stroke="#a6d96a"/><use href="#pD3" stroke="#fee690"/><use href="#pD4" stroke="#fcab61"/><use href="#pD5" stroke="#d7191c"/></g>
<g stroke="#000" stroke-opacity="0.3" stroke-width="1.3"><line x1="173.0" y1="80.1" x2="173.0" y2="485.7"/><line x1="296.2" y1="80.1" x2="296.2" y2="485.7"/><line x1="73.1" y1="188.5" x2="392.7" y2="188.5"/><line x1="73.1" y1="333.7" x2="392.7" y2="333.7"/><line x1="73.1" y1="479.0" x2="392.7" y2="479.0"/></g>
<text x="330.0" y="361.4" font-family="'Liberation Sans',Arial,sans-serif" font-size="19" fill="#000">DI<tspan font-size="12.8" dy="3.4">total</tspan></text>
<rect x="279.5" y="376.30" width="26.4" height="11.3" fill="#239b4b"/>
<text x="315.2" y="387.40" font-family="'Liberation Sans',Arial,sans-serif" font-size="15.4" fill="#111">0.0 - 0.2</text>
<rect x="279.5" y="395.90" width="26.4" height="11.3" fill="#a8d96c"/>
<text x="315.2" y="407.00" font-family="'Liberation Sans',Arial,sans-serif" font-size="15.4" fill="#111">0.2 - 0.4</text>
<rect x="279.5" y="415.50" width="26.4" height="11.3" fill="#fee995"/>
<text x="315.2" y="426.60" font-family="'Liberation Sans',Arial,sans-serif" font-size="15.4" fill="#111">0.4 - 0.6</text>
<rect x="279.5" y="435.10" width="26.4" height="11.3" fill="#fcae63"/>
<text x="315.2" y="446.20" font-family="'Liberation Sans',Arial,sans-serif" font-size="15.4" fill="#111">0.6 - 0.8</text>
<rect x="279.5" y="454.70" width="26.4" height="11.3" fill="#d62024"/>
<text x="315.2" y="465.80" font-family="'Liberation Sans',Arial,sans-serif" font-size="15.4" fill="#111">0.8 - 1.0</text>
<line x1="296.2" y1="376.3" x2="296.2" y2="466.00" stroke="#000" stroke-opacity="0.1" stroke-width="1.3"/>
<g transform="translate(0,7.8)"><circle cx="110.6" cy="129.3" r="16.6" fill="#fff" stroke="#000" stroke-width="1.5"/><circle cx="110.6" cy="129.3" r="14.3" fill="none" stroke="#999" stroke-width="0.6"/><path d="M110.4,103 L94.6,146.2 L110.4,129.6 Z" fill="#8e93ba" stroke="#8e93ba" stroke-width="0.5"/><path d="M110.4,103 L127.1,146.0 L110.4,129.6 Z" fill="#a7acd7"/><path d="M110.4,103 L94.6,146.2 L110.4,129.6 L127.1,146.0 Z" fill="none" stroke="#000" stroke-width="1.6" stroke-linejoin="miter"/><text x="110.2" y="102.8" font-family="'Liberation Sans',Arial,sans-serif" font-size="14.5" fill="#8f99cc" text-anchor="middle">N</text></g>
<text x="345.8" y="116.9" font-family="'Liberation Serif','Times New Roman',serif" font-size="25.7" fill="#000">(D)</text>
<g><rect x="85.1" y="471.9" width="65.9" height="9.3" fill="#000" stroke="#333" stroke-width="0.8"/><rect x="151.0" y="471.9" width="65.5" height="9.3" fill="#fff" stroke="#333" stroke-width="0.8"/><text x="85.3" y="462.9" font-family="'Liberation Sans',Arial,sans-serif" font-size="12.6" fill="#1a1a1a" text-anchor="middle">0</text><text x="151.0" y="462.9" font-family="'Liberation Sans',Arial,sans-serif" font-size="12.6" fill="#1a1a1a" text-anchor="middle">50</text><text x="205.2" y="462.9" font-family="'Liberation Sans',Arial,sans-serif" font-size="12.6" fill="#1a1a1a">100 m</text></g>
<rect x="69.00" y="76.00" width="104.00" height="4.1" fill="#000"/>
<rect x="69.00" y="485.70" width="104.00" height="4.1" fill="#000"/>
<rect x="173.00" y="76.50" width="123.20" height="3.10" fill="#fff" stroke="#4a4a4a" stroke-width="1"/>
<rect x="173.00" y="486.20" width="123.20" height="3.10" fill="#fff" stroke="#4a4a4a" stroke-width="1"/>
<rect x="296.20" y="76.00" width="100.60" height="4.1" fill="#000"/>
<rect x="296.20" y="485.70" width="100.60" height="4.1" fill="#000"/>
<rect x="69.00" y="76.00" width="4.1" height="112.50" fill="#000"/>
<rect x="392.70" y="76.00" width="4.1" height="112.50" fill="#000"/>
<rect x="69.50" y="188.50" width="3.10" height="145.20" fill="#fff" stroke="#4a4a4a" stroke-width="1"/>
<rect x="393.20" y="188.50" width="3.10" height="145.20" fill="#fff" stroke="#4a4a4a" stroke-width="1"/>
<rect x="69.00" y="333.70" width="4.1" height="145.30" fill="#000"/>
<rect x="392.70" y="333.70" width="4.1" height="145.30" fill="#000"/>
<rect x="69.50" y="479.00" width="3.10" height="10.80" fill="#fff" stroke="#4a4a4a" stroke-width="1"/>
<rect x="393.20" y="479.00" width="3.10" height="10.80" fill="#fff" stroke="#4a4a4a" stroke-width="1"/>
<rect x="70.20" y="77.20" width="1.7" height="1.7" fill="#fff"/>
<rect x="393.90" y="77.20" width="1.7" height="1.7" fill="#fff"/>
<rect x="70.20" y="486.90" width="1.7" height="1.7" fill="#fff"/>
<rect x="393.90" y="486.90" width="1.7" height="1.7" fill="#fff"/>
<text x="173.2" y="70.7" textLength="63.5" font-family="'Liberation Serif','Times New Roman',serif" font-size="15.8" fill="#3a3a3a" text-anchor="middle" lengthAdjust="spacingAndGlyphs">121.077°E</text>
<text x="173.2" y="506.5" textLength="63.5" font-family="'Liberation Serif','Times New Roman',serif" font-size="15.8" fill="#3a3a3a" text-anchor="middle" lengthAdjust="spacingAndGlyphs">121.077°E</text>
<text x="296.4" y="70.7" textLength="63.5" font-family="'Liberation Serif','Times New Roman',serif" font-size="15.8" fill="#3a3a3a" text-anchor="middle" lengthAdjust="spacingAndGlyphs">121.078°E</text>
<text x="296.4" y="506.5" textLength="63.5" font-family="'Liberation Serif','Times New Roman',serif" font-size="15.8" fill="#3a3a3a" text-anchor="middle" lengthAdjust="spacingAndGlyphs">121.078°E</text>
<text transform="translate(63.3,188.9) rotate(-90)" x="0" y="0" textLength="57.2" font-family="'Liberation Serif','Times New Roman',serif" font-size="15.8" fill="#3a3a3a" text-anchor="middle" lengthAdjust="spacingAndGlyphs">32.120°N</text>
<text transform="translate(413.3,188.9) rotate(-90)" x="0" y="0" textLength="57.2" font-family="'Liberation Serif','Times New Roman',serif" font-size="15.8" fill="#3a3a3a" text-anchor="middle" lengthAdjust="spacingAndGlyphs">32.120°N</text>
<text transform="translate(63.3,334.09999999999997) rotate(-90)" x="0" y="0" textLength="56.7" font-family="'Liberation Serif','Times New Roman',serif" font-size="15.8" fill="#3a3a3a" text-anchor="middle" lengthAdjust="spacingAndGlyphs">32.119°N</text>
<text transform="translate(413.3,334.09999999999997) rotate(-90)" x="0" y="0" textLength="56.7" font-family="'Liberation Serif','Times New Roman',serif" font-size="15.8" fill="#3a3a3a" text-anchor="middle" lengthAdjust="spacingAndGlyphs">32.119°N</text>
<text transform="translate(63.3,479.4) rotate(-90)" x="0" y="0" textLength="56.7" font-family="'Liberation Serif','Times New Roman',serif" font-size="15.8" fill="#3a3a3a" text-anchor="middle" lengthAdjust="spacingAndGlyphs">32.118°N</text>
<text transform="translate(413.3,479.4) rotate(-90)" x="0" y="0" textLength="56.7" font-family="'Liberation Serif','Times New Roman',serif" font-size="15.8" fill="#3a3a3a" text-anchor="middle" lengthAdjust="spacingAndGlyphs">32.118°N</text>
</g>
<g transform="translate(403.3,463.8)">
<defs><path id="pE1" d="M239.4 104.8h0M244.0 107.4h0M230.3 105.0h0M280.8 133.0h0M294.5 140.6h0M299.1 143.1h0M308.3 148.2h0M322.1 155.8h0M331.2 160.9h0M335.8 163.5h0M340.4 166.0h0M345.0 168.6h0M349.6 171.1h0M354.2 173.6h0M225.8 107.7h0M368.4 207.5h0M199.4 155.4h0M195.0 163.3h0M190.6 171.3h0M337.5 257.9h0M186.2 179.2h0M328.5 263.3h0M333.1 265.8h0M181.8 187.1h0M319.5 268.7h0M324.1 271.2h0M328.7 273.8h0M324.2 276.5h0M319.7 279.2h0M315.2 281.9h0M319.8 284.4h0M173.2 218.8h0M177.8 221.3h0M182.4 223.9h0M187.0 226.4h0M191.6 228.9h0M310.9 295.1h0M164.2 218.9h0M173.3 224.0h0M177.9 226.6h0M182.5 229.1h0M187.1 231.6h0M191.7 234.2h0M196.3 236.7h0M200.9 239.3h0M205.5 241.8h0M210.0 244.4h0M214.6 246.9h0M219.2 249.4h0M223.8 252.0h0M228.4 254.5h0M233.0 257.1h0M237.6 259.6h0M242.1 262.2h0M246.7 264.7h0M251.3 267.2h0M255.9 269.8h0M260.5 272.3h0M265.1 274.9h0M274.3 280.0h0M278.8 282.5h0M306.4 297.8h0M187.2 236.9h0M191.8 239.4h0M196.4 242.0h0M205.5 247.1h0M210.1 249.6h0M214.7 252.1h0M219.3 254.7h0M228.5 259.8h0M233.1 262.3h0M237.7 264.9h0M242.2 267.4h0M246.8 269.9h0M251.4 272.5h0M256.0 275.0h0M260.6 277.6h0M265.2 280.1h0M269.8 282.7h0M274.4 285.2h0M278.9 287.7h0M283.5 290.3h0M288.1 292.8h0M292.7 295.4h0M297.3 297.9h0M301.9 300.5h0M196.5 247.2h0M201.0 249.8h0M205.6 252.3h0M210.2 254.8h0M214.8 257.4h0M219.4 259.9h0M224.0 262.5h0M228.6 265.0h0M233.2 267.6h0M237.7 270.1h0M242.3 272.6h0M246.9 275.2h0M251.5 277.7h0M256.1 280.3h0M260.7 282.8h0M265.3 285.4h0M269.9 287.9h0M274.4 290.4h0M279.0 293.0h0M283.6 295.5h0M288.2 298.1h0M292.8 300.6h0M297.4 303.2h0M302.0 305.7h0M192.0 249.9h0M196.6 252.5h0M201.1 255.0h0M205.7 257.5h0M210.3 260.1h0M214.9 262.6h0M219.5 265.2h0M224.1 267.7h0M228.7 270.3h0M233.2 272.8h0M237.8 275.3h0M242.4 277.9h0M247.0 280.4h0M251.6 283.0h0M256.2 285.5h0M260.8 288.1h0M265.4 290.6h0M269.9 293.1h0M274.5 295.7h0M279.1 298.2h0M283.7 300.8h0M288.3 303.3h0M292.9 305.9h0M297.5 308.4h0M192.1 255.2h0M196.6 257.7h0M201.2 260.2h0M205.8 262.8h0M210.4 265.3h0M215.0 267.9h0M219.6 270.4h0M224.2 273.0h0M228.8 275.5h0M233.3 278.0h0M237.9 280.6h0M242.5 283.1h0M247.1 285.7h0M251.7 288.2h0M256.3 290.8h0M260.9 293.3h0M265.5 295.8h0M270.0 298.4h0M274.6 300.9h0M279.2 303.5h0M283.8 306.0h0M288.4 308.6h0M293.0 311.1h0M187.6 257.9h0M192.1 260.4h0M196.7 263.0h0M201.3 265.5h0M205.9 268.0h0M210.5 270.6h0M215.1 273.1h0M219.7 275.7h0M224.3 278.2h0M228.8 280.8h0M233.4 283.3h0M238.0 285.8h0M242.6 288.4h0M247.2 290.9h0M251.8 293.5h0M256.4 296.0h0M261.0 298.6h0M265.5 301.1h0M270.1 303.6h0M274.7 306.2h0M279.3 308.7h0M283.9 311.3h0M288.5 313.8h0M293.1 316.4h0M187.7 263.1h0M192.2 265.7h0M196.8 268.2h0M201.4 270.7h0M206.0 273.3h0M210.6 275.8h0M215.2 278.4h0M219.8 280.9h0M224.3 283.5h0M228.9 286.0h0M233.5 288.5h0M238.1 291.1h0M242.7 293.6h0M247.3 296.2h0M251.9 298.7h0M256.5 301.3h0M261.0 303.8h0M265.6 306.3h0M270.2 308.9h0M274.8 311.4h0M279.4 314.0h0M284.0 316.5h0M288.6 319.1h0M183.2 265.8h0M187.7 268.4h0M192.3 270.9h0M196.9 273.4h0M201.5 276.0h0M206.1 278.5h0M210.7 281.1h0M215.3 283.6h0M219.9 286.2h0M224.4 288.7h0M229.0 291.2h0M233.6 293.8h0M238.2 296.3h0M242.8 298.9h0M247.4 301.4h0M252.0 304.0h0M256.6 306.5h0M261.1 309.0h0M265.7 311.6h0M270.3 314.1h0M274.9 316.7h0M279.5 319.2h0M284.1 321.8h0M288.7 324.3h0M187.8 273.6h0M192.4 276.1h0M197.0 278.7h0M201.6 281.2h0M206.2 283.8h0M210.8 286.3h0M215.4 288.9h0M219.9 291.4h0M224.5 293.9h0M229.1 296.5h0M233.7 299.0h0M238.3 301.6h0M242.9 304.1h0M247.5 306.7h0M252.1 309.2h0M256.6 311.7h0M261.2 314.3h0M265.8 316.8h0M270.4 319.4h0M275.0 321.9h0M279.6 324.5h0M284.2 327.0h0M288.8 329.5h0M178.8 273.8h0M183.3 276.3h0M187.9 278.8h0M197.1 283.9h0M201.7 286.5h0M206.3 289.0h0M210.9 291.6h0M215.4 294.1h0M220.0 296.6h0M224.6 299.2h0M229.2 301.7h0M233.8 304.3h0M238.4 306.8h0M243.0 309.4h0M247.6 311.9h0M252.1 314.4h0M256.7 317.0h0M261.3 319.5h0M265.9 322.1h0M270.5 324.6h0M275.1 327.2h0M279.7 329.7h0M284.3 332.2h0M288.8 334.8h0M151.3 263.7h0M155.9 266.3h0M160.5 268.8h0M165.1 271.4h0M174.3 276.5h0M183.4 281.5h0M188.0 284.1h0M197.2 289.2h0M201.8 291.7h0M206.4 294.3h0M215.5 299.3h0M220.1 301.9h0M224.7 304.4h0M229.3 307.0h0M233.9 309.5h0M238.5 312.1h0M243.1 314.6h0M247.7 317.1h0M252.2 319.7h0M256.8 322.2h0M261.4 324.8h0M266.0 327.3h0M270.6 329.9h0M275.2 332.4h0M279.8 334.9h0M284.4 337.5h0M142.2 263.9h0M146.8 266.4h0M151.4 269.0h0M156.0 271.5h0M160.6 274.1h0M165.2 276.6h0M169.8 279.2h0M178.9 284.2h0M183.5 286.8h0M188.1 289.3h0M192.7 291.9h0M197.3 294.4h0M201.9 297.0h0M206.5 299.5h0M211.0 302.0h0M215.6 304.6h0M220.2 307.1h0M224.8 309.7h0M229.4 312.2h0M234.0 314.8h0M238.6 317.3h0M243.2 319.8h0M247.7 322.4h0M252.3 324.9h0M256.9 327.5h0M261.5 330.0h0M270.7 335.1h0M275.3 337.6h0M279.9 340.2h0M284.4 342.7h0M137.7 266.6h0M146.9 271.7h0M151.5 274.2h0M156.1 276.8h0M160.7 279.3h0M165.3 281.9h0M169.9 284.4h0M174.4 286.9h0M179.0 289.5h0M183.6 292.0h0M188.2 294.6h0M192.8 297.1h0M197.4 299.7h0M206.5 304.7h0M211.1 307.3h0M215.7 309.8h0M220.3 312.4h0M224.9 314.9h0M229.5 317.5h0M234.1 320.0h0M238.7 322.5h0M243.2 325.1h0M247.8 327.6h0M252.4 330.2h0M257.0 332.7h0M261.6 335.3h0M137.8 271.8h0M142.4 274.4h0M147.0 276.9h0M151.6 279.5h0M156.2 282.0h0M160.8 284.6h0M169.9 289.6h0M174.5 292.2h0M179.1 294.7h0M183.7 297.3h0M188.3 299.8h0M192.9 302.4h0M197.5 304.9h0M202.1 307.4h0M206.6 310.0h0M211.2 312.5h0M215.8 315.1h0M220.4 317.6h0M225.0 320.2h0M229.6 322.7h0M234.2 325.2h0M238.8 327.8h0M243.3 330.3h0M247.9 332.9h0M252.5 335.4h0M257.1 338.0h0M261.7 340.5h0M147.1 282.2h0M151.7 284.7h0M156.3 287.3h0M160.9 289.8h0M165.4 292.3h0M170.0 294.9h0M174.6 297.4h0M179.2 300.0h0M183.8 302.5h0M188.4 305.1h0M193.0 307.6h0M197.6 310.1h0M202.1 312.7h0M206.7 315.2h0M211.3 317.8h0M215.9 320.3h0M220.5 322.9h0M225.1 325.4h0M229.7 327.9h0M234.3 330.5h0M238.8 333.0h0M243.4 335.6h0M248.0 338.1h0M252.6 340.7h0M257.2 343.2h0M161.0 295.1h0M165.5 297.6h0M170.1 300.1h0M174.7 302.7h0M179.3 305.2h0M183.9 307.8h0M188.5 310.3h0M193.1 312.9h0M197.6 315.4h0M202.2 317.9h0M206.8 320.5h0M211.4 323.0h0M216.0 325.6h0M220.6 328.1h0M225.2 330.7h0M229.8 333.2h0M234.3 335.7h0M238.9 338.3h0M243.5 340.8h0M248.1 343.4h0M252.7 345.9h0M257.3 348.4h0M161.0 300.3h0M165.6 302.8h0M170.2 305.4h0M174.8 307.9h0M179.4 310.5h0M184.0 313.0h0M188.6 315.6h0M193.2 318.1h0M197.7 320.6h0M202.3 323.2h0M211.5 328.3h0M216.1 330.8h0M220.7 333.4h0M225.3 335.9h0M229.9 338.4h0M234.4 341.0h0M239.0 343.5h0M243.6 346.1h0M248.2 348.6h0M252.8 351.2h0M161.1 305.5h0M165.7 308.1h0M170.3 310.6h0M174.9 313.2h0M179.5 315.7h0M184.1 318.3h0M188.7 320.8h0M193.2 323.3h0M197.8 325.9h0M202.4 328.4h0M207.0 331.0h0M211.6 333.5h0M216.2 336.1h0M220.8 338.6h0M225.4 341.1h0M229.9 343.7h0M234.5 346.2h0M239.1 348.8h0M243.7 351.3h0M248.3 353.9h0M252.9 356.4h0M156.6 308.2h0M161.2 310.8h0M165.8 313.3h0M170.4 315.9h0M175.0 318.4h0M179.6 321.0h0M184.2 323.5h0M188.7 326.0h0M193.3 328.6h0M197.9 331.1h0M202.5 333.7h0M207.1 336.2h0M211.7 338.8h0M216.3 341.3h0M220.9 343.8h0M225.4 346.4h0M230.0 348.9h0M234.6 351.5h0M239.2 354.0h0M243.8 356.6h0M129.2 298.2h0M133.8 300.8h0M138.4 303.3h0M143.0 305.9h0M147.6 308.4h0M152.1 310.9h0M156.7 313.5h0M161.3 316.0h0M165.9 318.6h0M170.5 321.1h0M175.1 323.7h0M179.7 326.2h0M184.3 328.7h0M188.8 331.3h0M193.4 333.8h0M198.0 336.4h0M202.6 338.9h0M207.2 341.5h0M211.8 344.0h0M216.4 346.5h0M221.0 349.1h0M225.5 351.6h0M230.1 354.2h0M234.7 356.7h0M239.3 359.3h0M124.7 300.9h0M133.9 306.0h0M138.5 308.6h0M143.1 311.1h0M147.6 313.6h0M152.2 316.2h0M156.8 318.7h0M161.4 321.3h0M166.0 323.8h0M170.6 326.4h0M175.2 328.9h0M179.8 331.4h0M184.3 334.0h0M193.5 339.1h0M198.1 341.6h0M202.7 344.2h0M207.3 346.7h0M211.9 349.2h0M216.5 351.8h0M221.0 354.3h0M225.6 356.9h0M230.2 359.4h0M234.8 362.0h0M239.4 364.5h0M244.0 367.0h0M129.4 308.7h0M134.0 311.3h0M138.6 313.8h0M143.1 316.3h0M147.7 318.9h0M152.3 321.4h0M156.9 324.0h0M161.5 326.5h0M166.1 329.1h0M170.7 331.6h0M175.3 334.1h0M179.8 336.7h0M184.4 339.2h0M189.0 341.8h0M193.6 344.3h0M198.2 346.9h0M202.8 349.4h0M207.4 351.9h0M212.0 354.5h0M216.5 357.0h0M221.1 359.6h0M225.7 362.1h0M230.3 364.7h0M234.9 367.2h0M239.5 369.7h0M244.1 372.3h0M248.7 374.8h0M253.2 377.4h0M257.8 379.9h0M124.9 311.4h0M129.5 314.0h0M134.1 316.5h0M138.7 319.0h0M143.2 321.6h0M152.4 326.7h0M157.0 329.2h0M166.2 334.3h0M170.8 336.8h0M175.4 339.4h0M184.5 344.5h0M189.1 347.0h0M193.7 349.6h0M198.3 352.1h0M202.9 354.6h0M207.5 357.2h0M212.1 359.7h0M216.6 362.3h0M221.2 364.8h0M225.8 367.4h0M230.4 369.9h0M235.0 372.4h0M239.6 375.0h0M244.2 377.5h0M248.8 380.1h0M253.3 382.6h0M257.9 385.2h0M120.4 314.1h0M129.6 319.2h0M138.7 324.3h0M143.3 326.8h0M152.5 331.9h0M157.1 334.5h0M166.3 339.5h0M170.9 342.1h0M175.4 344.6h0M180.0 347.2h0M184.6 349.7h0M193.8 354.8h0M198.4 357.3h0M203.0 359.9h0M207.6 362.4h0M212.1 365.0h0M216.7 367.5h0M221.3 370.1h0M225.9 372.6h0M230.5 375.1h0M235.1 377.7h0M239.7 380.2h0M244.3 382.8h0M248.8 385.3h0M253.4 387.9h0M115.9 316.8h0M120.5 319.4h0M129.7 324.4h0M134.2 327.0h0M138.8 329.5h0M148.0 334.6h0M152.6 337.2h0M157.2 339.7h0M161.8 342.2h0M166.4 344.8h0M175.5 349.9h0M180.1 352.4h0M184.7 355.0h0M189.3 357.5h0M193.9 360.0h0M198.5 362.6h0M203.1 365.1h0M207.6 367.7h0M212.2 370.2h0M216.8 372.8h0M221.4 375.3h0M226.0 377.8h0M230.6 380.4h0M235.2 382.9h0M239.8 385.5h0M244.3 388.0h0M248.9 390.6h0M116.0 322.1h0M120.6 324.6h0M125.2 327.1h0M129.8 329.7h0M134.3 332.2h0M138.9 334.8h0M143.5 337.3h0M148.1 339.9h0M152.7 342.4h0M157.3 344.9h0M161.9 347.5h0M166.5 350.0h0M175.6 355.1h0M180.2 357.7h0M184.8 360.2h0M189.4 362.7h0M194.0 365.3h0M198.6 367.8h0M203.2 370.4h0M207.7 372.9h0M212.3 375.5h0M216.9 378.0h0M221.5 380.5h0M226.1 383.1h0M230.7 385.6h0M235.3 388.2h0M239.9 390.7h0M244.4 393.3h0M249.0 395.8h0M116.1 327.3h0M125.3 332.4h0M129.8 334.9h0M134.4 337.5h0M139.0 340.0h0M143.6 342.6h0M148.2 345.1h0M152.8 347.7h0M157.4 350.2h0M162.0 352.7h0M166.5 355.3h0M171.1 357.8h0M175.7 360.4h0M180.3 362.9h0M189.5 368.0h0M194.1 370.5h0M198.7 373.1h0M203.2 375.6h0M207.8 378.2h0M212.4 380.7h0M217.0 383.3h0M221.6 385.8h0M226.2 388.3h0M230.8 390.9h0M235.4 393.4h0M239.9 396.0h0M244.5 398.5h0M116.2 332.6h0M120.8 335.1h0M125.3 337.6h0M129.9 340.2h0M139.1 345.3h0M143.7 347.8h0M148.3 350.4h0M152.9 352.9h0M157.5 355.4h0M162.0 358.0h0M166.6 360.5h0M171.2 363.1h0M175.8 365.6h0M180.4 368.2h0M185.0 370.7h0M189.6 373.2h0M194.2 375.8h0M198.7 378.3h0M203.3 380.9h0M207.9 383.4h0M212.5 386.0h0M217.1 388.5h0M221.7 391.0h0M226.3 393.6h0M230.9 396.1h0M235.4 398.7h0M240.0 401.2h0M244.6 403.8h0M111.7 335.3h0M116.3 337.8h0M120.9 340.3h0M125.4 342.9h0M130.0 345.4h0M134.6 348.0h0M139.2 350.5h0M143.8 353.1h0M148.4 355.6h0M153.0 358.1h0M157.6 360.7h0M162.1 363.2h0M166.7 365.8h0M175.9 370.9h0M180.5 373.4h0M185.1 375.9h0M189.7 378.5h0M194.3 381.0h0M198.8 383.6h0M203.4 386.1h0M208.0 388.7h0M212.6 391.2h0M217.2 393.7h0M221.8 396.3h0M226.4 398.8h0M231.0 401.4h0M240.1 406.5h0M107.2 338.0h0M111.8 340.5h0M116.4 343.0h0M120.9 345.6h0M125.5 348.1h0M130.1 350.7h0M134.7 353.2h0M139.3 355.8h0M143.9 358.3h0M148.5 360.8h0M153.1 363.4h0M157.6 365.9h0M162.2 368.5h0M166.8 371.0h0M171.4 373.6h0M176.0 376.1h0M180.6 378.6h0M189.8 383.7h0M194.3 386.3h0M198.9 388.8h0M203.5 391.4h0M208.1 393.9h0M212.7 396.4h0M217.3 399.0h0M221.9 401.5h0M226.5 404.1h0M231.0 406.6h0M235.6 409.2h0M240.2 411.7h0M102.7 340.7h0M107.3 343.2h0M111.9 345.7h0M116.4 348.3h0M121.0 350.8h0M125.6 353.4h0M130.2 355.9h0M134.8 358.5h0M139.4 361.0h0M144.0 363.5h0M148.6 366.1h0M153.1 368.6h0M157.7 371.2h0M162.3 373.7h0M166.9 376.3h0M171.5 378.8h0M176.1 381.3h0M180.7 383.9h0M189.8 389.0h0M194.4 391.5h0M199.0 394.1h0M203.6 396.6h0M208.2 399.1h0M212.8 401.7h0M217.4 404.2h0M222.0 406.8h0M226.5 409.3h0M231.1 411.9h0M235.7 414.4h0M102.8 345.9h0M107.4 348.4h0M112.0 351.0h0M116.5 353.5h0M121.1 356.1h0M125.7 358.6h0M130.3 361.2h0M134.9 363.7h0M139.5 366.2h0M144.1 368.8h0M148.7 371.3h0M153.2 373.9h0M157.8 376.4h0M162.4 379.0h0M167.0 381.5h0M171.6 384.0h0M176.2 386.6h0M180.8 389.1h0M185.4 391.7h0M189.9 394.2h0M194.5 396.8h0M199.1 399.3h0M203.7 401.8h0M208.3 404.4h0M212.9 406.9h0M217.5 409.5h0M226.6 414.6h0M231.2 417.1h0M98.3 348.6h0M102.9 351.1h0M107.5 353.7h0M112.0 356.2h0M125.8 363.9h0M130.4 366.4h0M135.0 368.9h0M139.6 371.5h0M144.2 374.0h0M148.7 376.6h0M153.3 379.1h0M157.9 381.7h0M162.5 384.2h0M167.1 386.7h0M171.7 389.3h0M176.3 391.8h0M180.9 394.4h0M185.4 396.9h0M190.0 399.5h0M194.6 402.0h0M199.2 404.5h0M203.8 407.1h0M208.4 409.6h0M213.0 412.2h0M217.6 414.7h0M222.1 417.3h0M226.7 419.8h0M231.3 422.3h0M98.4 353.8h0M103.0 356.4h0M121.3 366.6h0M125.9 369.1h0M130.5 371.6h0M135.1 374.2h0M139.7 376.7h0M144.2 379.3h0M148.8 381.8h0M153.4 384.4h0M158.0 386.9h0M162.6 389.4h0M167.2 392.0h0M171.8 394.5h0M176.4 397.1h0M180.9 399.6h0M185.5 402.2h0M190.1 404.7h0M194.7 407.2h0M199.3 409.8h0M203.9 412.3h0M208.5 414.9h0M213.1 417.4h0M217.6 420.0h0M222.2 422.5h0M226.8 425.0h0M116.8 369.3h0M121.4 371.8h0M126.0 374.3h0M130.6 376.9h0M135.2 379.4h0M139.8 382.0h0M144.3 384.5h0M148.9 387.1h0M153.5 389.6h0M158.1 392.1h0M162.7 394.7h0M167.3 397.2h0M171.9 399.8h0M176.5 402.3h0M181.0 404.9h0M185.6 407.4h0M190.2 409.9h0M194.8 412.5h0M199.4 415.0h0M204.0 417.6h0M208.6 420.1h0M213.2 422.7h0M217.7 425.2h0M222.3 427.7h0M226.9 430.3h0M112.3 372.0h0M116.9 374.5h0M121.5 377.0h0M126.1 379.6h0M135.3 384.7h0M144.4 389.8h0M149.0 392.3h0M153.6 394.8h0M158.2 397.4h0M162.8 399.9h0M167.4 402.5h0M172.0 405.0h0M176.5 407.6h0M181.1 410.1h0M185.7 412.6h0M190.3 415.2h0M194.9 417.7h0M199.5 420.3h0M204.1 422.8h0M208.7 425.4h0M213.2 427.9h0M217.8 430.4h0M222.4 433.0h0M94.1 367.0h0M98.6 369.6h0M117.0 379.8h0M121.6 382.3h0M144.5 395.0h0M149.1 397.6h0M158.3 402.6h0M162.9 405.2h0M167.5 407.7h0M172.0 410.3h0M176.6 412.8h0M181.2 415.4h0M185.8 417.9h0M190.4 420.4h0M195.0 423.0h0M199.6 425.5h0M204.2 428.1h0M208.7 430.6h0M213.3 433.1h0M217.9 435.7h0M222.5 438.2h0M98.7 374.8h0M103.3 377.4h0M107.9 379.9h0M112.5 382.5h0M117.1 385.0h0M121.7 387.5h0M144.6 400.3h0M149.2 402.8h0M176.7 418.1h0M181.3 420.6h0M185.9 423.1h0M190.5 425.7h0M199.7 430.8h0M204.3 433.3h0M208.8 435.9h0M213.4 438.4h0M149.3 408.0h0M153.9 410.6h0M158.5 413.1h0M163.1 415.7h0M172.2 420.8h0M176.8 423.3h0M181.4 425.8h0M186.0 428.4h0M195.2 433.5h0M199.8 436.0h0M204.3 438.6h0M208.9 441.1h0M213.5 443.6h0M218.1 446.2h0M204.4 443.8h0M209.0 446.3h0"/><path id="pE2" d="M285.4 135.5h0M290.0 138.0h0M303.7 145.7h0M312.9 150.8h0M340.5 171.3h0M221.4 115.6h0M372.8 199.6h0M221.5 120.9h0M217.0 123.6h0M212.6 131.5h0M364.0 215.4h0M359.6 223.4h0M203.8 147.4h0M350.8 239.3h0M199.5 160.6h0M236.2 181.0h0M337.3 247.4h0M341.9 249.9h0M337.4 252.6h0M332.9 255.3h0M190.8 181.7h0M333.0 260.6h0M186.3 184.4h0M328.6 268.5h0M315.0 271.4h0M319.6 273.9h0M177.5 200.3h0M315.1 276.6h0M310.7 284.6h0M315.3 287.1h0M310.8 289.8h0M168.7 216.2h0M196.2 231.5h0M168.8 221.5h0M269.7 277.4h0M288.0 287.6h0M297.2 292.7h0M301.8 295.2h0M223.9 257.2h0M306.5 303.0h0M306.6 308.2h0M192.5 281.4h0M178.8 279.0h0M192.6 286.6h0M211.0 296.8h0M142.3 269.1h0M165.4 287.1h0M129.3 303.5h0M188.9 336.5h0M124.8 306.2h0M120.3 308.9h0M147.8 324.1h0M143.4 332.1h0M171.0 352.6h0M120.7 329.9h0M107.1 332.7h0M185.3 386.4h0M222.1 412.0h0M107.5 358.9h0M93.9 356.5h0M98.5 359.1h0M103.1 361.6h0M107.6 364.2h0M112.2 366.7h0M94.0 361.8h0M98.6 364.3h0M103.1 366.9h0M89.5 364.5h0M107.8 374.7h0M130.8 387.4h0M153.7 400.1h0M130.9 392.6h0M135.4 395.2h0M158.4 407.9h0M163.0 410.4h0M190.6 430.9h0"/><path id="pE3" d="M239.5 110.1h0M244.1 112.6h0M248.7 115.2h0M253.3 117.7h0M262.4 122.8h0M267.0 125.3h0M271.6 127.9h0M276.2 130.4h0M317.5 153.3h0M326.7 158.4h0M244.2 117.9h0M253.3 122.9h0M257.9 125.5h0M262.5 128.0h0M267.1 130.6h0M271.7 133.1h0M276.3 135.7h0M280.9 138.2h0M299.2 148.4h0M303.8 150.9h0M308.4 153.5h0M313.0 156.0h0M322.2 161.1h0M326.7 163.6h0M331.3 166.2h0M335.9 168.7h0M345.1 173.8h0M349.7 176.3h0M354.3 178.9h0M363.4 184.0h0M368.0 186.5h0M372.6 189.1h0M225.9 112.9h0M244.3 123.1h0M253.4 128.2h0M262.6 133.3h0M267.2 135.8h0M271.8 138.4h0M303.9 156.2h0M313.1 161.3h0M317.7 163.8h0M336.0 174.0h0M340.6 176.5h0M345.2 179.0h0M349.8 181.6h0M363.5 189.2h0M368.1 191.8h0M372.7 194.3h0M230.6 120.7h0M244.4 128.4h0M258.1 136.0h0M267.3 141.1h0M281.1 148.7h0M363.6 194.5h0M368.2 197.0h0M226.1 123.4h0M230.7 126.0h0M249.0 136.1h0M262.8 143.8h0M267.4 146.3h0M272.0 148.9h0M281.1 153.9h0M363.7 199.7h0M221.6 126.1h0M226.2 128.7h0M235.4 133.8h0M253.7 143.9h0M262.9 149.0h0M267.5 151.6h0M281.2 159.2h0M317.9 179.5h0M354.6 199.9h0M217.1 128.8h0M221.7 131.4h0M235.5 139.0h0M249.2 146.6h0M253.8 149.2h0M272.2 159.3h0M276.7 161.9h0M304.3 177.1h0M318.0 184.8h0M345.6 200.0h0M359.3 207.7h0M363.9 210.2h0M217.2 134.1h0M221.8 136.6h0M226.4 139.2h0M231.0 141.7h0M235.5 144.2h0M240.1 146.8h0M244.7 149.3h0M249.3 151.9h0M253.9 154.4h0M354.8 210.4h0M359.4 212.9h0M212.7 136.8h0M217.3 139.3h0M221.9 141.9h0M226.5 144.4h0M231.1 146.9h0M235.6 149.5h0M244.8 154.6h0M249.4 157.1h0M254.0 159.7h0M258.6 162.2h0M263.2 164.7h0M272.3 169.8h0M290.7 180.0h0M327.4 200.3h0M350.3 213.1h0M354.9 215.6h0M359.5 218.1h0M208.2 139.5h0M222.0 147.1h0M235.7 154.7h0M254.1 164.9h0M263.3 170.0h0M267.8 172.5h0M272.4 175.1h0M309.1 195.4h0M318.3 200.5h0M322.9 203.0h0M327.5 205.6h0M332.1 208.1h0M336.7 210.7h0M350.4 218.3h0M208.3 144.7h0M212.9 147.3h0M217.5 149.8h0M267.9 177.8h0M272.5 180.3h0M277.1 182.9h0M304.6 198.1h0M309.2 200.7h0M318.4 205.7h0M323.0 208.3h0M327.6 210.8h0M332.2 213.4h0M336.7 215.9h0M341.3 218.5h0M355.1 226.1h0M208.4 150.0h0M213.0 152.5h0M217.6 155.0h0M222.2 157.6h0M235.9 165.2h0M254.3 175.4h0M268.0 183.0h0M277.2 188.1h0M318.5 211.0h0M327.7 216.1h0M332.2 218.6h0M336.8 221.2h0M341.4 223.7h0M346.0 226.2h0M350.6 228.8h0M355.2 231.3h0M203.9 152.7h0M208.5 155.2h0M213.1 157.7h0M217.7 160.3h0M240.6 173.0h0M268.1 188.3h0M323.2 218.8h0M327.8 221.3h0M332.3 223.9h0M336.9 226.4h0M341.5 228.9h0M346.1 231.5h0M350.7 234.0h0M204.0 157.9h0M208.6 160.5h0M213.2 163.0h0M217.7 165.5h0M222.3 168.1h0M226.9 170.6h0M236.1 175.7h0M259.0 188.4h0M318.7 221.5h0M337.0 231.7h0M341.6 234.2h0M346.2 236.7h0M204.1 163.2h0M208.7 165.7h0M213.3 168.2h0M217.8 170.8h0M222.4 173.3h0M227.0 175.9h0M231.6 178.4h0M240.8 183.5h0M254.5 191.1h0M259.1 193.7h0M263.7 196.2h0M268.3 198.8h0M272.9 201.3h0M277.5 203.8h0M282.1 206.4h0M309.6 221.6h0M318.8 226.7h0M327.9 231.8h0M337.1 236.9h0M341.7 239.4h0M346.3 242.0h0M199.6 165.9h0M204.2 168.4h0M213.3 173.5h0M222.5 178.6h0M227.1 181.1h0M231.7 183.7h0M236.3 186.2h0M240.9 188.7h0M245.5 191.3h0M250.0 193.8h0M254.6 196.4h0M259.2 198.9h0M263.8 201.5h0M268.4 204.0h0M273.0 206.5h0M277.6 209.1h0M282.2 211.6h0M286.7 214.2h0M291.3 216.7h0M295.9 219.3h0M300.5 221.8h0M305.1 224.3h0M309.7 226.9h0M314.3 229.4h0M318.9 232.0h0M323.4 234.5h0M328.0 237.1h0M332.6 239.6h0M341.8 244.7h0M346.4 247.2h0M195.1 168.6h0M199.7 171.1h0M208.8 176.2h0M218.0 181.3h0M227.2 186.4h0M231.8 188.9h0M236.4 191.4h0M250.1 199.1h0M254.7 201.6h0M259.3 204.2h0M263.9 206.7h0M268.5 209.2h0M273.1 211.8h0M277.7 214.3h0M282.2 216.9h0M286.8 219.4h0M291.4 222.0h0M296.0 224.5h0M300.6 227.0h0M305.2 229.6h0M309.8 232.1h0M314.4 234.7h0M318.9 237.2h0M323.5 239.8h0M332.7 244.8h0M195.2 173.8h0M204.4 178.9h0M213.5 184.0h0M218.1 186.5h0M222.7 189.1h0M231.9 194.1h0M236.5 196.7h0M241.1 199.2h0M245.6 201.8h0M254.8 206.9h0M259.4 209.4h0M264.0 211.9h0M268.6 214.5h0M273.2 217.0h0M277.8 219.6h0M296.1 229.7h0M305.3 234.8h0M309.9 237.4h0M314.4 239.9h0M319.0 242.5h0M323.6 245.0h0M328.2 247.5h0M332.8 250.1h0M190.7 176.5h0M195.3 179.0h0M199.9 181.6h0M204.4 184.1h0M209.0 186.7h0M213.6 189.2h0M218.2 191.8h0M222.8 194.3h0M227.4 196.8h0M232.0 199.4h0M236.6 201.9h0M241.1 204.5h0M245.7 207.0h0M250.3 209.6h0M254.9 212.1h0M259.5 214.6h0M264.1 217.2h0M268.7 219.7h0M273.3 222.3h0M277.8 224.8h0M282.4 227.4h0M287.0 229.9h0M291.6 232.4h0M296.2 235.0h0M305.4 240.1h0M310.0 242.6h0M328.3 252.8h0M195.4 184.3h0M199.9 186.8h0M204.5 189.4h0M213.7 194.5h0M218.3 197.0h0M222.9 199.5h0M227.5 202.1h0M241.2 209.7h0M245.8 212.3h0M250.4 214.8h0M255.0 217.3h0M259.6 219.9h0M264.2 222.4h0M268.8 225.0h0M273.3 227.5h0M277.9 230.1h0M282.5 232.6h0M287.1 235.1h0M291.7 237.7h0M300.9 242.8h0M305.5 245.3h0M310.0 247.9h0M314.6 250.4h0M319.2 252.9h0M328.4 258.0h0M190.9 187.0h0M195.5 189.5h0M200.0 192.1h0M204.6 194.6h0M209.2 197.2h0M223.0 204.8h0M232.2 209.9h0M236.7 212.4h0M241.3 215.0h0M245.9 217.5h0M250.5 220.0h0M255.1 222.6h0M259.7 225.1h0M264.3 227.7h0M268.9 230.2h0M278.0 235.3h0M287.2 240.4h0M291.8 242.9h0M296.4 245.5h0M301.0 248.0h0M305.5 250.6h0M314.7 255.6h0M319.3 258.2h0M186.4 189.7h0M195.5 194.8h0M200.1 197.3h0M204.7 199.9h0M209.3 202.4h0M213.9 204.9h0M218.5 207.5h0M223.1 210.0h0M227.7 212.6h0M232.2 215.1h0M236.8 217.7h0M241.4 220.2h0M246.0 222.7h0M255.2 227.8h0M259.8 230.4h0M264.4 232.9h0M273.5 238.0h0M278.1 240.5h0M287.3 245.6h0M291.9 248.2h0M296.5 250.7h0M301.1 253.3h0M305.6 255.8h0M310.2 258.3h0M314.8 260.9h0M319.4 263.4h0M324.0 266.0h0M181.9 192.4h0M186.5 194.9h0M191.0 197.5h0M195.6 200.0h0M204.8 205.1h0M209.4 207.6h0M214.0 210.2h0M218.6 212.7h0M223.2 215.3h0M227.7 217.8h0M241.5 225.4h0M246.1 228.0h0M250.7 230.5h0M264.4 238.2h0M269.0 240.7h0M273.6 243.2h0M278.2 245.8h0M282.8 248.3h0M287.4 250.9h0M296.6 256.0h0M301.1 258.5h0M305.7 261.0h0M310.3 263.6h0M314.9 266.1h0M182.0 197.6h0M186.6 200.2h0M191.1 202.7h0M209.5 212.9h0M214.1 215.4h0M218.7 218.0h0M223.3 220.5h0M227.8 223.1h0M237.0 228.2h0M246.2 233.2h0M250.8 235.8h0M269.1 246.0h0M278.3 251.0h0M282.9 253.6h0M287.5 256.1h0M296.6 261.2h0M301.2 263.7h0M305.8 266.3h0M310.4 268.8h0M182.1 202.9h0M191.2 208.0h0M195.8 210.5h0M205.0 215.6h0M214.2 220.7h0M223.3 225.8h0M232.5 230.9h0M264.6 248.7h0M273.8 253.7h0M278.4 256.3h0M283.0 258.8h0M287.6 261.4h0M292.2 263.9h0M296.7 266.5h0M301.3 269.0h0M305.9 271.5h0M310.5 274.1h0M177.6 205.6h0M182.1 208.1h0M191.3 213.2h0M200.5 218.3h0M209.7 223.4h0M214.3 225.9h0M218.8 228.5h0M264.7 253.9h0M269.3 256.4h0M273.9 259.0h0M278.5 261.5h0M287.7 266.6h0M301.4 274.2h0M306.0 276.8h0M310.6 279.3h0M173.1 208.3h0M177.7 210.8h0M182.2 213.4h0M186.8 215.9h0M214.4 231.2h0M218.9 233.7h0M223.5 236.3h0M228.1 238.8h0M232.7 241.3h0M278.6 266.8h0M283.2 269.3h0M287.7 271.9h0M292.3 274.4h0M296.9 276.9h0M301.5 279.5h0M306.1 282.0h0M173.2 213.5h0M177.7 216.1h0M182.3 218.6h0M186.9 221.2h0M191.5 223.7h0M214.4 236.4h0M260.3 261.8h0M264.9 264.4h0M283.3 274.6h0M287.8 277.1h0M292.4 279.6h0M297.0 282.2h0M301.6 284.7h0M306.2 287.3h0M315.4 292.4h0M200.8 234.0h0M205.4 236.6h0M209.9 239.1h0M214.5 241.7h0M223.7 246.7h0M232.9 251.8h0M237.5 254.4h0M242.1 256.9h0M274.2 274.7h0M278.8 277.3h0M283.3 279.8h0M287.9 282.3h0M292.5 284.9h0M297.1 287.4h0M301.7 290.0h0M306.3 292.5h0M283.4 285.0h0M292.6 290.1h0M201.0 244.5h0M293.2 321.6h0M293.3 326.8h0M174.3 281.7h0M202.0 302.2h0M206.9 325.7h0M243.9 361.8h0M161.6 331.8h0M179.9 341.9h0M125.0 316.7h0M134.2 321.7h0M147.9 329.4h0M161.7 337.0h0M189.2 352.3h0M125.1 321.9h0M170.9 347.3h0M111.5 324.8h0M184.9 365.5h0M111.6 330.0h0M134.5 342.7h0M171.3 368.3h0M235.5 403.9h0M185.2 381.2h0M116.6 358.8h0M121.2 361.3h0M112.1 361.5h0M116.7 364.0h0M107.7 369.4h0M130.7 382.1h0M139.8 387.2h0M103.2 372.1h0M112.4 377.2h0M126.2 384.8h0M135.3 389.9h0M139.9 392.5h0M167.6 413.0h0M172.1 415.5h0M195.1 428.2h0M218.0 440.9h0"/><path id="pE4" d="M234.9 107.5h0M257.8 120.2h0M230.4 110.2h0M235.0 112.8h0M239.6 115.3h0M248.8 120.4h0M285.5 140.7h0M290.0 143.3h0M294.6 145.8h0M317.6 158.5h0M358.9 181.4h0M230.5 115.5h0M239.7 120.6h0M248.9 125.7h0M258.0 130.7h0M276.4 140.9h0M281.0 143.5h0M285.6 146.0h0M290.1 148.5h0M294.7 151.1h0M299.3 153.6h0M308.5 158.7h0M322.3 166.3h0M326.8 168.9h0M331.4 171.4h0M354.4 184.1h0M359.0 186.7h0M226.0 118.2h0M235.2 123.3h0M248.9 130.9h0M253.5 133.4h0M271.9 143.6h0M276.5 146.2h0M285.6 151.2h0M290.2 153.8h0M294.8 156.3h0M299.4 158.9h0M304.0 161.4h0M308.6 164.0h0M317.8 169.0h0M322.3 171.6h0M326.9 174.1h0M331.5 176.7h0M336.1 179.2h0M340.7 181.8h0M345.3 184.3h0M349.9 186.8h0M354.5 189.4h0M359.0 191.9h0M235.3 128.5h0M239.9 131.1h0M244.4 133.6h0M253.6 138.7h0M258.2 141.2h0M276.6 151.4h0M285.7 156.5h0M290.3 159.0h0M294.9 161.6h0M299.5 164.1h0M304.1 166.7h0M308.7 169.2h0M313.3 171.7h0M317.8 174.3h0M322.4 176.8h0M327.0 179.4h0M331.6 181.9h0M340.8 187.0h0M345.4 189.5h0M350.0 192.1h0M354.5 194.6h0M359.1 197.2h0M368.3 202.3h0M230.8 131.2h0M240.0 136.3h0M244.5 138.8h0M258.3 146.5h0M272.1 154.1h0M276.7 156.6h0M285.8 161.7h0M290.4 164.3h0M295.0 166.8h0M299.6 169.4h0M304.2 171.9h0M308.8 174.4h0M313.4 177.0h0M322.5 182.1h0M327.1 184.6h0M331.7 187.2h0M336.3 189.7h0M340.9 192.2h0M345.5 194.8h0M350.1 197.3h0M359.2 202.4h0M363.8 205.0h0M226.3 133.9h0M240.0 141.5h0M244.6 144.1h0M258.4 151.7h0M267.6 156.8h0M281.3 164.4h0M285.9 167.0h0M290.5 169.5h0M295.1 172.1h0M299.7 174.6h0M308.9 179.7h0M313.4 182.2h0M322.6 187.3h0M327.2 189.9h0M331.8 192.4h0M341.0 197.5h0M350.1 202.6h0M354.7 205.1h0M258.5 157.0h0M267.7 162.0h0M272.2 164.6h0M281.4 169.7h0M286.0 172.2h0M290.6 174.8h0M295.2 177.3h0M299.8 179.8h0M304.4 182.4h0M308.9 184.9h0M313.5 187.5h0M318.1 190.0h0M322.7 192.6h0M327.3 195.1h0M331.9 197.6h0M336.5 200.2h0M341.1 202.7h0M345.6 205.3h0M350.2 207.8h0M240.2 152.0h0M267.8 167.3h0M276.9 172.4h0M281.5 174.9h0M286.1 177.5h0M295.3 182.5h0M299.9 185.1h0M304.5 187.6h0M309.0 190.2h0M313.6 192.7h0M318.2 195.3h0M322.8 197.8h0M332.0 202.9h0M336.6 205.4h0M341.2 208.0h0M345.7 210.5h0M212.8 142.0h0M217.4 144.6h0M226.6 149.6h0M231.1 152.2h0M240.3 157.3h0M244.9 159.8h0M249.5 162.4h0M258.7 167.4h0M277.0 177.6h0M281.6 180.2h0M286.2 182.7h0M290.8 185.2h0M295.4 187.8h0M300.0 190.3h0M304.5 192.9h0M313.7 198.0h0M341.2 213.2h0M345.8 215.8h0M355.0 220.8h0M226.6 154.9h0M231.2 157.4h0M235.8 160.0h0M240.4 162.5h0M245.0 165.1h0M249.6 167.6h0M254.2 170.1h0M258.8 172.7h0M263.3 175.2h0M281.7 185.4h0M286.3 187.9h0M290.9 190.5h0M295.5 193.0h0M300.0 195.6h0M313.8 203.2h0M345.9 221.0h0M350.5 223.5h0M226.7 160.1h0M231.3 162.7h0M240.5 167.8h0M245.1 170.3h0M249.7 172.8h0M258.9 177.9h0M263.4 180.5h0M272.6 185.6h0M281.8 190.6h0M286.4 193.2h0M295.6 198.3h0M300.1 200.8h0M304.7 203.4h0M309.3 205.9h0M313.9 208.4h0M323.1 213.5h0M222.2 162.8h0M226.8 165.4h0M231.4 167.9h0M236.0 170.5h0M245.2 175.5h0M249.8 178.1h0M254.4 180.6h0M258.9 183.2h0M263.5 185.7h0M272.7 190.8h0M277.3 193.3h0M281.9 195.9h0M286.5 198.4h0M291.1 201.0h0M295.6 203.5h0M300.2 206.1h0M304.8 208.6h0M309.4 211.1h0M314.0 213.7h0M318.6 216.2h0M231.5 173.2h0M240.7 178.3h0M245.3 180.8h0M249.9 183.3h0M254.4 185.9h0M263.6 191.0h0M268.2 193.5h0M277.4 198.6h0M282.0 201.1h0M286.6 203.7h0M304.9 213.9h0M309.5 216.4h0M314.1 218.9h0M323.3 224.0h0M327.8 226.6h0M332.4 229.1h0M245.4 186.0h0M250.0 188.6h0M286.7 208.9h0M291.2 211.5h0M295.8 214.0h0M300.4 216.6h0M305.0 219.1h0M314.2 224.2h0M323.3 229.3h0M332.5 234.4h0M208.8 170.9h0M217.9 176.0h0M337.2 242.1h0M204.3 173.6h0M213.4 178.7h0M222.6 183.8h0M241.0 194.0h0M245.5 196.5h0M328.1 242.3h0M199.8 176.3h0M208.9 181.4h0M227.3 191.6h0M250.2 204.3h0M282.3 222.1h0M286.9 224.7h0M291.5 227.2h0M300.7 232.3h0M300.8 237.5h0M314.5 245.2h0M319.1 247.7h0M323.7 250.2h0M209.1 191.9h0M232.1 204.6h0M236.6 207.2h0M296.3 240.2h0M323.8 255.5h0M213.8 199.7h0M218.4 202.2h0M227.6 207.3h0M273.4 232.8h0M282.6 237.8h0M310.1 253.1h0M323.9 260.7h0M191.0 192.2h0M250.6 225.3h0M268.9 235.5h0M282.7 243.1h0M200.2 202.6h0M232.3 220.4h0M236.9 222.9h0M255.3 233.1h0M259.9 235.6h0M292.0 253.4h0M195.7 205.3h0M200.3 207.8h0M204.9 210.4h0M232.4 225.6h0M241.6 230.7h0M255.4 238.3h0M260.0 240.9h0M264.5 243.4h0M273.7 248.5h0M292.1 258.7h0M186.6 205.4h0M200.4 213.1h0M209.6 218.1h0M218.8 223.2h0M227.9 228.3h0M237.1 233.4h0M241.7 235.9h0M246.3 238.5h0M250.9 241.0h0M255.5 243.6h0M260.0 246.1h0M269.2 251.2h0M186.7 210.7h0M195.9 215.8h0M205.1 220.8h0M223.4 231.0h0M228.0 233.6h0M232.6 236.1h0M237.2 238.6h0M241.8 241.2h0M246.4 243.7h0M251.0 246.3h0M255.5 248.8h0M260.1 251.4h0M283.1 264.1h0M292.2 269.2h0M296.8 271.7h0M191.4 218.5h0M196.0 221.0h0M200.6 223.5h0M205.2 226.1h0M209.8 228.6h0M237.3 243.9h0M241.9 246.4h0M246.5 249.0h0M251.1 251.5h0M255.6 254.1h0M260.2 256.6h0M264.8 259.1h0M269.4 261.7h0M274.0 264.2h0M196.1 226.2h0M200.7 228.8h0M205.3 231.3h0M209.9 233.9h0M219.0 239.0h0M223.6 241.5h0M228.2 244.0h0M232.8 246.6h0M237.4 249.1h0M242.0 251.7h0M246.6 254.2h0M251.1 256.8h0M255.7 259.3h0M269.5 266.9h0M274.1 269.5h0M278.7 272.0h0M219.1 244.2h0M228.3 249.3h0M246.6 259.5h0M251.2 262.0h0M255.8 264.5h0M260.4 267.1h0M265.0 269.6h0M269.6 272.2h0M311.0 300.3h0M302.1 310.9h0M297.6 313.6h0M297.7 318.9h0M266.1 332.6h0M248.4 359.1h0M248.5 364.3h0M126.3 390.1h0M140.0 397.7h0M153.8 405.3h0M167.6 418.2h0M213.6 448.9h0"/><path id="pE5" d="M235.1 118.0h0M239.8 125.8h0M262.7 138.5h0M313.2 166.5h0M336.2 184.5h0M249.1 141.4h0M230.9 136.5h0M263.0 154.3h0M336.4 194.9h0M263.1 159.5h0M276.8 167.1h0M222.1 152.3h0M291.0 195.7h0M272.8 196.1h0M291.1 206.2h0M295.7 208.8h0M300.3 211.3h0"/></defs><g fill="none" stroke-width="6.0" stroke-linecap="round"><use href="#pE1" stroke="#97d8a8"/><use href="#pE2" stroke="#d3ecb4"/><use href="#pE3" stroke="#fff3c8"/><use href="#pE4" stroke="#fdd3aa"/><use href="#pE5" stroke="#ee9a98"/></g><g fill="none" stroke-width="4.4" stroke-linecap="round"><use href="#pE1" stroke="#21a04b"/><use href="#pE2" stroke="#a6d96a"/><use href="#pE3" stroke="#fee690"/><use href="#pE4" stroke="#fcab61"/><use href="#pE5" stroke="#d7191c"/></g>
<g stroke="#000" stroke-opacity="0.3" stroke-width="1.3"><line x1="173.0" y1="80.1" x2="173.0" y2="485.7"/><line x1="296.2" y1="80.1" x2="296.2" y2="485.7"/><line x1="73.1" y1="188.5" x2="392.7" y2="188.5"/><line x1="73.1" y1="333.7" x2="392.7" y2="333.7"/><line x1="73.1" y1="479.0" x2="392.7" y2="479.0"/></g>
<text x="328.40000000000003" y="361.4" font-family="'Liberation Sans',Arial,sans-serif" font-size="19" fill="#000">DI<tspan font-size="12.8" dy="3.4">total</tspan></text>
<rect x="277.9" y="376.30" width="26.4" height="11.3" fill="#239b4b"/>
<text x="313.8" y="387.40" font-family="'Liberation Sans',Arial,sans-serif" font-size="15.4" fill="#111">0.0 - 0.2</text>
<rect x="277.9" y="395.90" width="26.4" height="11.3" fill="#a8d96c"/>
<text x="313.8" y="407.00" font-family="'Liberation Sans',Arial,sans-serif" font-size="15.4" fill="#111">0.2 - 0.4</text>
<rect x="277.9" y="415.50" width="26.4" height="11.3" fill="#fee995"/>
<text x="313.8" y="426.60" font-family="'Liberation Sans',Arial,sans-serif" font-size="15.4" fill="#111">0.4 - 0.6</text>
<rect x="277.9" y="435.10" width="26.4" height="11.3" fill="#fcae63"/>
<text x="313.8" y="446.20" font-family="'Liberation Sans',Arial,sans-serif" font-size="15.4" fill="#111">0.6 - 0.8</text>
<rect x="277.9" y="454.70" width="26.4" height="11.3" fill="#d62024"/>
<text x="313.8" y="465.80" font-family="'Liberation Sans',Arial,sans-serif" font-size="15.4" fill="#111">0.8 - 1.0</text>
<line x1="296.2" y1="376.3" x2="296.2" y2="466.00" stroke="#000" stroke-opacity="0.1" stroke-width="1.3"/>
<g transform="translate(-2.2,7.8)"><circle cx="110.6" cy="129.3" r="16.6" fill="#fff" stroke="#000" stroke-width="1.5"/><circle cx="110.6" cy="129.3" r="14.3" fill="none" stroke="#999" stroke-width="0.6"/><path d="M110.4,103 L94.6,146.2 L110.4,129.6 Z" fill="#8e93ba" stroke="#8e93ba" stroke-width="0.5"/><path d="M110.4,103 L127.1,146.0 L110.4,129.6 Z" fill="#a7acd7"/><path d="M110.4,103 L94.6,146.2 L110.4,129.6 L127.1,146.0 Z" fill="none" stroke="#000" stroke-width="1.6" stroke-linejoin="miter"/><text x="110.2" y="102.8" font-family="'Liberation Sans',Arial,sans-serif" font-size="14.5" fill="#8f99cc" text-anchor="middle">N</text></g>
<text x="341.1" y="116.9" font-family="'Liberation Serif','Times New Roman',serif" font-size="25.7" fill="#000">(E)</text>
<g><rect x="85.1" y="471.9" width="65.9" height="9.3" fill="#000" stroke="#333" stroke-width="0.8"/><rect x="151.0" y="471.9" width="65.5" height="9.3" fill="#fff" stroke="#333" stroke-width="0.8"/><text x="85.3" y="462.9" font-family="'Liberation Sans',Arial,sans-serif" font-size="12.6" fill="#1a1a1a" text-anchor="middle">0</text><text x="151.0" y="462.9" font-family="'Liberation Sans',Arial,sans-serif" font-size="12.6" fill="#1a1a1a" text-anchor="middle">50</text><text x="205.2" y="462.9" font-family="'Liberation Sans',Arial,sans-serif" font-size="12.6" fill="#1a1a1a">100 m</text></g>
<rect x="69.00" y="76.00" width="104.00" height="4.1" fill="#000"/>
<rect x="69.00" y="485.70" width="104.00" height="4.1" fill="#000"/>
<rect x="173.00" y="76.50" width="123.20" height="3.10" fill="#fff" stroke="#4a4a4a" stroke-width="1"/>
<rect x="173.00" y="486.20" width="123.20" height="3.10" fill="#fff" stroke="#4a4a4a" stroke-width="1"/>
<rect x="296.20" y="76.00" width="100.60" height="4.1" fill="#000"/>
<rect x="296.20" y="485.70" width="100.60" height="4.1" fill="#000"/>
<rect x="69.00" y="76.00" width="4.1" height="112.50" fill="#000"/>
<rect x="392.70" y="76.00" width="4.1" height="112.50" fill="#000"/>
<rect x="69.50" y="188.50" width="3.10" height="145.20" fill="#fff" stroke="#4a4a4a" stroke-width="1"/>
<rect x="393.20" y="188.50" width="3.10" height="145.20" fill="#fff" stroke="#4a4a4a" stroke-width="1"/>
<rect x="69.00" y="333.70" width="4.1" height="145.30" fill="#000"/>
<rect x="392.70" y="333.70" width="4.1" height="145.30" fill="#000"/>
<rect x="69.50" y="479.00" width="3.10" height="10.80" fill="#fff" stroke="#4a4a4a" stroke-width="1"/>
<rect x="393.20" y="479.00" width="3.10" height="10.80" fill="#fff" stroke="#4a4a4a" stroke-width="1"/>
<rect x="70.20" y="77.20" width="1.7" height="1.7" fill="#fff"/>
<rect x="393.90" y="77.20" width="1.7" height="1.7" fill="#fff"/>
<rect x="70.20" y="486.90" width="1.7" height="1.7" fill="#fff"/>
<rect x="393.90" y="486.90" width="1.7" height="1.7" fill="#fff"/>
<text x="173.2" y="70.7" textLength="63.5" font-family="'Liberation Serif','Times New Roman',serif" font-size="15.8" fill="#3a3a3a" text-anchor="middle" lengthAdjust="spacingAndGlyphs">121.077°E</text>
<text x="173.2" y="506.5" textLength="63.5" font-family="'Liberation Serif','Times New Roman',serif" font-size="15.8" fill="#3a3a3a" text-anchor="middle" lengthAdjust="spacingAndGlyphs">121.077°E</text>
<text x="296.4" y="70.7" textLength="63.5" font-family="'Liberation Serif','Times New Roman',serif" font-size="15.8" fill="#3a3a3a" text-anchor="middle" lengthAdjust="spacingAndGlyphs">121.078°E</text>
<text x="296.4" y="506.5" textLength="63.5" font-family="'Liberation Serif','Times New Roman',serif" font-size="15.8" fill="#3a3a3a" text-anchor="middle" lengthAdjust="spacingAndGlyphs">121.078°E</text>
<text transform="translate(63.3,188.9) rotate(-90)" x="0" y="0" textLength="57.2" font-family="'Liberation Serif','Times New Roman',serif" font-size="15.8" fill="#3a3a3a" text-anchor="middle" lengthAdjust="spacingAndGlyphs">32.120°N</text>
<text transform="translate(413.3,188.9) rotate(-90)" x="0" y="0" textLength="57.2" font-family="'Liberation Serif','Times New Roman',serif" font-size="15.8" fill="#3a3a3a" text-anchor="middle" lengthAdjust="spacingAndGlyphs">32.120°N</text>
<text transform="translate(63.3,334.09999999999997) rotate(-90)" x="0" y="0" textLength="56.7" font-family="'Liberation Serif','Times New Roman',serif" font-size="15.8" fill="#3a3a3a" text-anchor="middle" lengthAdjust="spacingAndGlyphs">32.119°N</text>
<text transform="translate(413.3,334.09999999999997) rotate(-90)" x="0" y="0" textLength="56.7" font-family="'Liberation Serif','Times New Roman',serif" font-size="15.8" fill="#3a3a3a" text-anchor="middle" lengthAdjust="spacingAndGlyphs">32.119°N</text>
<text transform="translate(63.3,479.4) rotate(-90)" x="0" y="0" textLength="56.7" font-family="'Liberation Serif','Times New Roman',serif" font-size="15.8" fill="#3a3a3a" text-anchor="middle" lengthAdjust="spacingAndGlyphs">32.118°N</text>
<text transform="translate(413.3,479.4) rotate(-90)" x="0" y="0" textLength="56.7" font-family="'Liberation Serif','Times New Roman',serif" font-size="15.8" fill="#3a3a3a" text-anchor="middle" lengthAdjust="spacingAndGlyphs">32.118°N</text>
</g>
<g transform="translate(803.3,463.8)">
<defs><clipPath id="fclip"><polygon points="230.2,104.7 375.9,189.1 344.2,245.2 308.6,299.4 283.0,341.6 265.5,332.9 242.4,369.6 257.6,381.0 214.7,445.9 91.9,365.7 128.0,299.8 153.7,314.4 160.7,302.7 165.3,291.1 139.0,272.9 143.6,265.3 173.4,283.4 177.5,277.0 185.6,281.1 192.6,270.0 185.6,265.3 197.9,242.6 185.0,233.8 167.0,221.4 171.0,214.6 200.9,156.2"/></clipPath><filter id="nzw" x="0" y="0" width="100%" height="100%" color-interpolation-filters="sRGB"><feTurbulence type="fractalNoise" baseFrequency="0.9" numOctaves="2" seed="7"/><feColorMatrix type="matrix" values="0 0 0 0 0.92  0 0 0 0 0.95  0 0 0 0 0.75  2.6 0 0 0 -1.25"/></filter><filter id="nzd" x="0" y="0" width="100%" height="100%" color-interpolation-filters="sRGB"><feTurbulence type="fractalNoise" baseFrequency="0.9" numOctaves="2" seed="19"/><feColorMatrix type="matrix" values="0 0 0 0 0.25  0 0 0 0 0.33  0 0 0 0 0.15  2.6 0 0 0 -1.25"/></filter><filter id="nzl" x="0" y="0" width="100%" height="100%" color-interpolation-filters="sRGB"><feTurbulence type="fractalNoise" baseFrequency="0.035" numOctaves="2" seed="3"/><feColorMatrix type="matrix" values="0 0 0 0 0.55  0 0 0 0 0.8  0 0 0 0 0.4  2.2 0 0 0 -1.05"/></filter><filter id="blr" x="-5%" y="-5%" width="110%" height="110%"><feGaussianBlur stdDeviation="2"/></filter></defs>
<g clip-path="url(#fclip)">
<polygon points="171.0,214.6 308.6,299.4 283.0,341.6 265.5,332.9 242.4,369.6 257.6,381.0 214.7,445.9 91.9,365.7 128.0,299.8 153.7,314.4 160.7,302.7 165.3,291.1 139.0,272.9 143.6,265.3 173.4,283.4 177.5,277.0 185.6,281.1 192.6,270.0 185.6,265.3 197.9,242.6 185.0,233.8 167.0,221.4" fill="#719c56" stroke="#719c56" stroke-width="3"/>
<polygon points="200.9,156.2 344.2,245.2 308.6,299.4 171.3,213.4" fill="#8aae64" stroke="#8aae64" stroke-width="1"/>
<polygon points="230.2,104.7 375.9,189.1 344.2,245.2 200.9,156.2" fill="#82a05d" stroke="#82a05d" stroke-width="1"/>
<rect x="80" y="90" width="310" height="380" filter="url(#nzl)" opacity="0.35"/>
<rect x="80" y="90" width="310" height="380" filter="url(#nzw)" opacity="0.45"/>
<rect x="80" y="90" width="310" height="380" filter="url(#nzd)" opacity="0.22"/>
<polygon points="230.2,104.7 375.9,189.1 344.2,245.2 308.6,299.4 283.0,341.6 265.5,332.9 242.4,369.6 257.6,381.0 214.7,445.9 91.9,365.7 128.0,299.8 153.7,314.4 160.7,302.7 165.3,291.1 139.0,272.9 143.6,265.3 173.4,283.4 177.5,277.0 185.6,281.1 192.6,270.0 185.6,265.3 197.9,242.6 185.0,233.8 167.0,221.4 171.0,214.6 200.9,156.2" fill="none" stroke="#3f5f2c" stroke-width="7" opacity="0.28" filter="url(#blr)"/>
</g>
<line x1="200.9000000000001" y1="156.2" x2="344.20000000000005" y2="245.2" stroke="#fff" stroke-width="1.3"/>
<line x1="170.0" y1="214.0" x2="308.60000000000014" y2="299.4" stroke="#fff" stroke-width="1.0" opacity="0.75"/>
<g stroke="#000" stroke-opacity="0.3" stroke-width="1.3"><line x1="173.0" y1="80.1" x2="173.0" y2="485.7"/><line x1="296.2" y1="80.1" x2="296.2" y2="485.7"/><line x1="73.1" y1="188.5" x2="392.7" y2="188.5"/><line x1="73.1" y1="333.7" x2="392.7" y2="333.7"/><line x1="73.1" y1="479.0" x2="392.7" y2="479.0"/></g>
<g transform="translate(2.8,7.8)"><circle cx="110.6" cy="129.3" r="16.6" fill="#fff" stroke="#000" stroke-width="1.5"/><circle cx="110.6" cy="129.3" r="14.3" fill="none" stroke="#999" stroke-width="0.6"/><path d="M110.4,103 L94.6,146.2 L110.4,129.6 Z" fill="#8e93ba" stroke="#8e93ba" stroke-width="0.5"/><path d="M110.4,103 L127.1,146.0 L110.4,129.6 Z" fill="#a7acd7"/><path d="M110.4,103 L94.6,146.2 L110.4,129.6 L127.1,146.0 Z" fill="none" stroke="#000" stroke-width="1.6" stroke-linejoin="miter"/><text x="110.2" y="102.8" font-family="'Liberation Sans',Arial,sans-serif" font-size="14.5" fill="#8f99cc" text-anchor="middle">N</text></g>
<text x="340.4" y="116.9" font-family="'Liberation Serif','Times New Roman',serif" font-size="25.7" fill="#000">(F)</text>
<g><rect x="85.1" y="471.9" width="65.9" height="9.3" fill="#000" stroke="#333" stroke-width="0.8"/><rect x="151.0" y="471.9" width="65.5" height="9.3" fill="#fff" stroke="#333" stroke-width="0.8"/><text x="85.3" y="462.9" font-family="'Liberation Sans',Arial,sans-serif" font-size="12.6" fill="#1a1a1a" text-anchor="middle">0</text><text x="151.0" y="462.9" font-family="'Liberation Sans',Arial,sans-serif" font-size="12.6" fill="#1a1a1a" text-anchor="middle">50</text><text x="205.2" y="462.9" font-family="'Liberation Sans',Arial,sans-serif" font-size="12.6" fill="#1a1a1a">100 m</text></g>
<rect x="69.00" y="76.00" width="104.00" height="4.1" fill="#000"/>
<rect x="69.00" y="485.70" width="104.00" height="4.1" fill="#000"/>
<rect x="173.00" y="76.50" width="123.20" height="3.10" fill="#fff" stroke="#4a4a4a" stroke-width="1"/>
<rect x="173.00" y="486.20" width="123.20" height="3.10" fill="#fff" stroke="#4a4a4a" stroke-width="1"/>
<rect x="296.20" y="76.00" width="100.60" height="4.1" fill="#000"/>
<rect x="296.20" y="485.70" width="100.60" height="4.1" fill="#000"/>
<rect x="69.00" y="76.00" width="4.1" height="112.50" fill="#000"/>
<rect x="392.70" y="76.00" width="4.1" height="112.50" fill="#000"/>
<rect x="69.50" y="188.50" width="3.10" height="145.20" fill="#fff" stroke="#4a4a4a" stroke-width="1"/>
<rect x="393.20" y="188.50" width="3.10" height="145.20" fill="#fff" stroke="#4a4a4a" stroke-width="1"/>
<rect x="69.00" y="333.70" width="4.1" height="145.30" fill="#000"/>
<rect x="392.70" y="333.70" width="4.1" height="145.30" fill="#000"/>
<rect x="69.50" y="479.00" width="3.10" height="10.80" fill="#fff" stroke="#4a4a4a" stroke-width="1"/>
<rect x="393.20" y="479.00" width="3.10" height="10.80" fill="#fff" stroke="#4a4a4a" stroke-width="1"/>
<rect x="70.20" y="77.20" width="1.7" height="1.7" fill="#fff"/>
<rect x="393.90" y="77.20" width="1.7" height="1.7" fill="#fff"/>
<rect x="70.20" y="486.90" width="1.7" height="1.7" fill="#fff"/>
<rect x="393.90" y="486.90" width="1.7" height="1.7" fill="#fff"/>
<text x="173.2" y="70.7" textLength="63.5" font-family="'Liberation Serif','Times New Roman',serif" font-size="15.8" fill="#3a3a3a" text-anchor="middle" lengthAdjust="spacingAndGlyphs">121.077°E</text>
<text x="173.2" y="506.5" textLength="63.5" font-family="'Liberation Serif','Times New Roman',serif" font-size="15.8" fill="#3a3a3a" text-anchor="middle" lengthAdjust="spacingAndGlyphs">121.077°E</text>
<text x="296.4" y="70.7" textLength="63.5" font-family="'Liberation Serif','Times New Roman',serif" font-size="15.8" fill="#3a3a3a" text-anchor="middle" lengthAdjust="spacingAndGlyphs">121.078°E</text>
<text x="296.4" y="506.5" textLength="63.5" font-family="'Liberation Serif','Times New Roman',serif" font-size="15.8" fill="#3a3a3a" text-anchor="middle" lengthAdjust="spacingAndGlyphs">121.078°E</text>
<text transform="translate(63.3,188.9) rotate(-90)" x="0" y="0" textLength="57.2" font-family="'Liberation Serif','Times New Roman',serif" font-size="15.8" fill="#3a3a3a" text-anchor="middle" lengthAdjust="spacingAndGlyphs">32.120°N</text>
<text transform="translate(413.3,188.9) rotate(-90)" x="0" y="0" textLength="57.2" font-family="'Liberation Serif','Times New Roman',serif" font-size="15.8" fill="#3a3a3a" text-anchor="middle" lengthAdjust="spacingAndGlyphs">32.120°N</text>
<text transform="translate(63.3,334.09999999999997) rotate(-90)" x="0" y="0" textLength="56.7" font-family="'Liberation Serif','Times New Roman',serif" font-size="15.8" fill="#3a3a3a" text-anchor="middle" lengthAdjust="spacingAndGlyphs">32.119°N</text>
<text transform="translate(413.3,334.09999999999997) rotate(-90)" x="0" y="0" textLength="56.7" font-family="'Liberation Serif','Times New Roman',serif" font-size="15.8" fill="#3a3a3a" text-anchor="middle" lengthAdjust="spacingAndGlyphs">32.119°N</text>
<text transform="translate(63.3,479.4) rotate(-90)" x="0" y="0" textLength="56.7" font-family="'Liberation Serif','Times New Roman',serif" font-size="15.8" fill="#3a3a3a" text-anchor="middle" lengthAdjust="spacingAndGlyphs">32.118°N</text>
<text transform="translate(413.3,479.4) rotate(-90)" x="0" y="0" textLength="56.7" font-family="'Liberation Serif','Times New Roman',serif" font-size="15.8" fill="#3a3a3a" text-anchor="middle" lengthAdjust="spacingAndGlyphs">32.118°N</text>
</g>
</svg></body></html>
